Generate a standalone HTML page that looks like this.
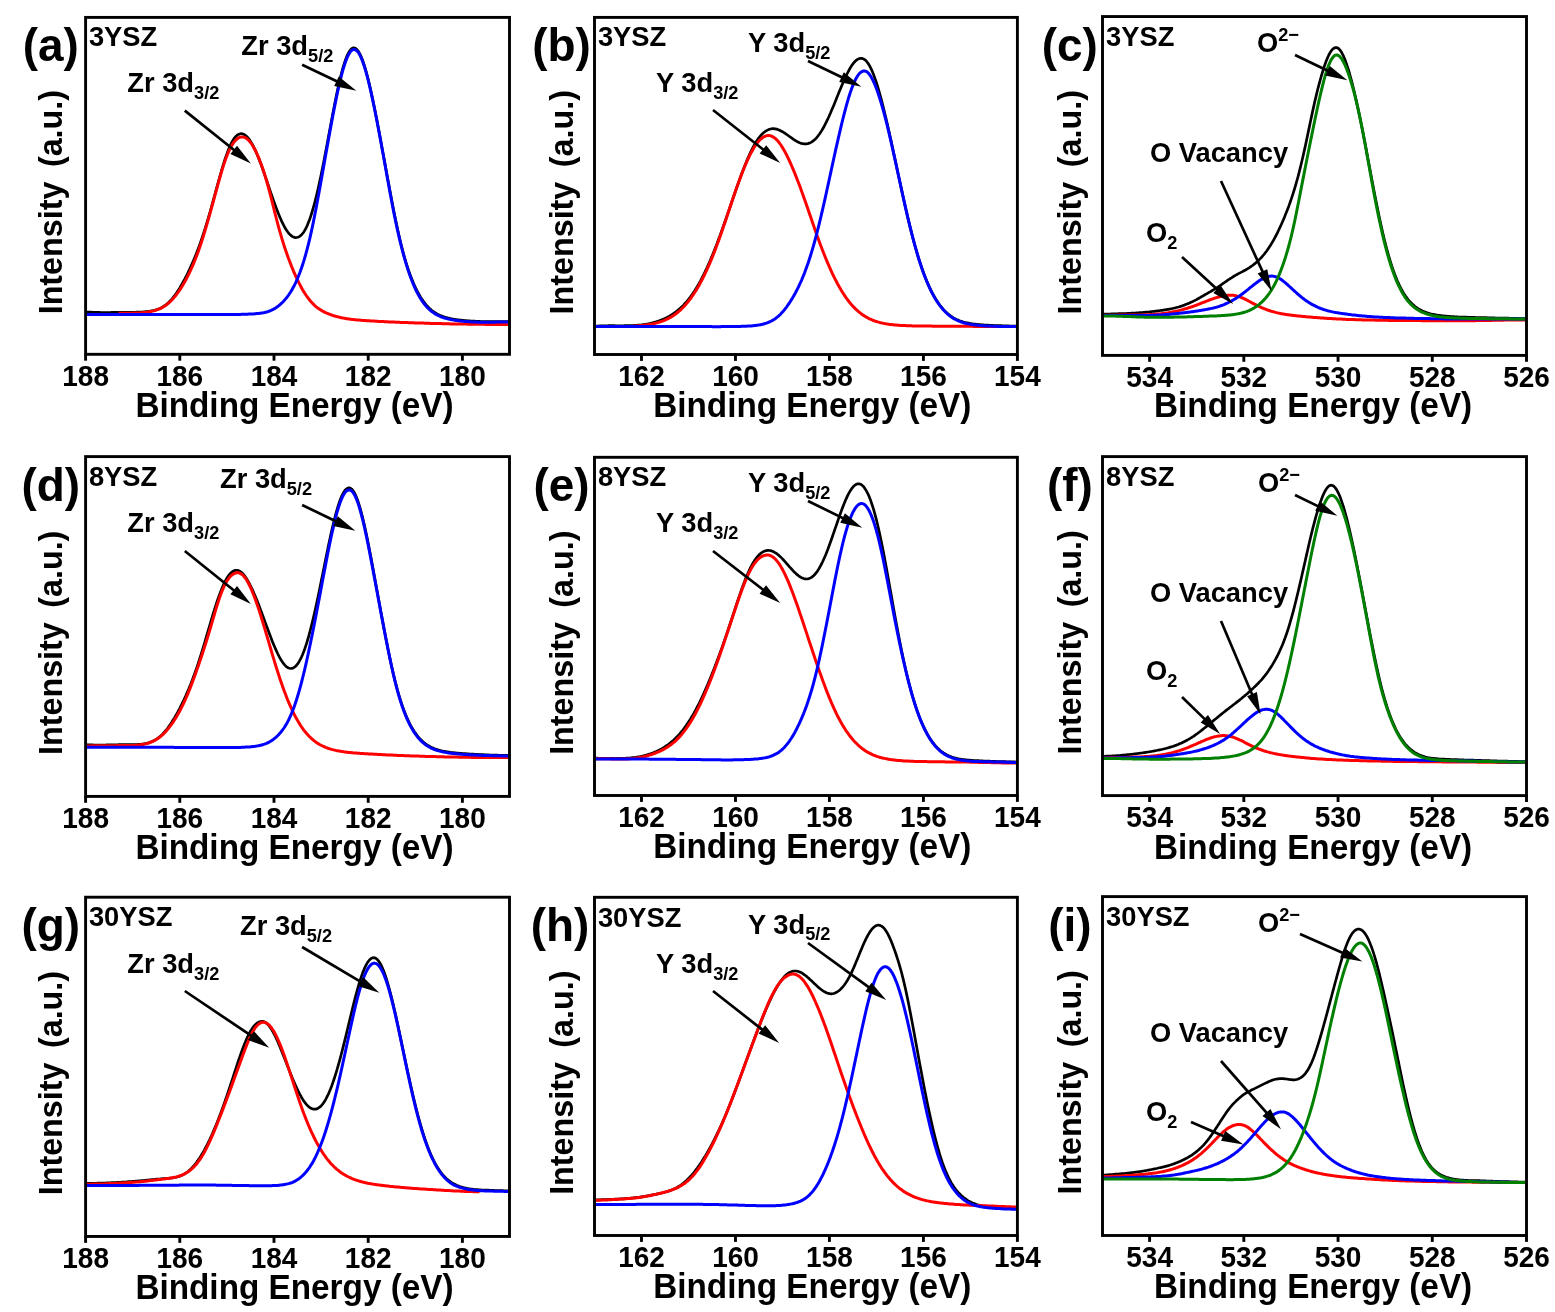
<!DOCTYPE html>
<html lang="en"><head><meta charset="utf-8"><title>XPS spectra of YSZ</title>
<style>html,body{margin:0;padding:0;background:#fff;}body{width:1555px;height:1312px;overflow:hidden;}svg{display:block;}text{font-family:"Liberation Sans",sans-serif;font-weight:700;fill:#000;}</style>
</head><body>
<svg width="1555" height="1312" viewBox="0 0 1555 1312" role="img" aria-label="XPS spectra of 3YSZ, 8YSZ and 30YSZ: Zr 3d, Y 3d and O 1s regions">
<rect width="1555" height="1312" fill="#fff"/>
<g>
<clipPath id="clip_a"><rect x="85.60" y="17.40" width="423.90" height="336.90"/></clipPath>
<g clip-path="url(#clip_a)" fill="none" stroke-linejoin="round" stroke-linecap="butt">
<path d="M85.6,312.2 L86.6,312.2 L87.6,312.2 L88.6,312.2 L89.6,312.2 L90.6,312.2 L91.6,312.2 L92.6,312.3 L93.6,312.3 L94.6,312.3 L95.6,312.3 L96.6,312.4 L97.6,312.4 L98.6,312.4 L99.6,312.4 L100.6,312.5 L101.6,312.5 L102.6,312.5 L103.6,312.5 L104.6,312.5 L105.6,312.5 L106.6,312.5 L107.6,312.5 L108.6,312.5 L109.6,312.5 L110.6,312.5 L111.6,312.4 L112.6,312.4 L113.6,312.4 L114.6,312.4 L115.6,312.4 L116.6,312.4 L117.6,312.4 L118.6,312.3 L119.6,312.3 L120.6,312.3 L121.6,312.3 L122.6,312.3 L123.6,312.3 L124.6,312.3 L125.6,312.3 L126.6,312.3 L127.6,312.3 L128.6,312.3 L129.6,312.3 L130.6,312.3 L131.6,312.3 L132.6,312.3 L133.6,312.3 L134.6,312.3 L135.6,312.3 L136.6,312.2 L137.6,312.2 L138.6,312.2 L139.6,312.1 L140.6,312.1 L141.6,312.0 L142.6,312.0 L143.6,311.9 L144.6,311.8 L145.6,311.7 L146.6,311.6 L147.6,311.5 L148.6,311.4 L149.6,311.3 L150.6,311.1 L151.6,310.9 L152.6,310.7 L153.6,310.5 L154.6,310.3 L155.6,310.0 L156.6,309.7 L157.6,309.4 L158.6,309.0 L159.6,308.6 L160.6,308.1 L161.6,307.6 L162.6,307.0 L163.6,306.4 L164.6,305.7 L165.6,305.0 L166.6,304.2 L167.6,303.4 L168.6,302.5 L169.6,301.5 L170.6,300.5 L171.6,299.3 L172.6,298.2 L173.6,296.9 L174.6,295.6 L175.6,294.2 L176.6,292.8 L177.6,291.3 L178.6,289.8 L179.6,288.2 L180.6,286.5 L181.6,284.8 L182.6,283.0 L183.6,281.2 L184.6,279.4 L185.6,277.5 L186.6,275.5 L187.6,273.5 L188.6,271.4 L189.6,269.3 L190.6,267.1 L191.6,264.9 L192.6,262.6 L193.6,260.3 L194.6,257.9 L195.6,255.4 L196.6,252.9 L197.6,250.3 L198.6,247.6 L199.6,244.9 L200.6,242.1 L201.6,239.2 L202.6,236.2 L203.6,233.2 L204.6,230.1 L205.6,226.9 L206.6,223.7 L207.6,220.3 L208.6,217.0 L209.6,213.5 L210.6,210.0 L211.6,206.4 L212.6,202.8 L213.6,199.2 L214.6,195.5 L215.6,191.8 L216.6,188.2 L217.6,184.5 L218.6,180.9 L219.6,177.3 L220.6,173.8 L221.6,170.3 L222.6,166.9 L223.6,163.7 L224.6,160.5 L225.6,157.5 L226.6,154.6 L227.6,151.9 L228.6,149.3 L229.6,146.9 L230.6,144.7 L231.6,142.7 L232.6,140.9 L233.6,139.3 L234.6,137.9 L235.6,136.7 L236.6,135.7 L237.6,134.9 L238.6,134.4 L239.6,134.0 L240.6,133.7 L241.6,133.7 L242.6,133.9 L243.6,134.2 L244.6,134.8 L245.6,135.5 L246.6,136.3 L247.6,137.4 L248.6,138.6 L249.6,139.9 L250.6,141.4 L251.6,143.1 L252.6,144.9 L253.6,146.8 L254.6,148.8 L255.6,151.0 L256.6,153.3 L257.6,155.7 L258.6,158.1 L259.6,160.7 L260.6,163.3 L261.6,166.0 L262.6,168.8 L263.6,171.6 L264.6,174.5 L265.6,177.4 L266.6,180.3 L267.6,183.3 L268.6,186.2 L269.6,189.1 L270.6,192.1 L271.6,195.0 L272.6,197.9 L273.6,200.7 L274.6,203.5 L275.6,206.2 L276.6,208.9 L277.6,211.5 L278.6,214.1 L279.6,216.5 L280.6,218.8 L281.6,221.1 L282.6,223.2 L283.6,225.2 L284.6,227.0 L285.6,228.7 L286.6,230.3 L287.6,231.8 L288.6,233.1 L289.6,234.2 L290.6,235.1 L291.6,236.0 L292.6,236.6 L293.6,237.1 L294.6,237.4 L295.6,237.6 L296.6,237.5 L297.6,237.3 L298.6,236.9 L299.6,236.4 L300.6,235.6 L301.6,234.7 L302.6,233.5 L303.6,232.2 L304.6,230.6 L305.6,228.8 L306.6,226.8 L307.6,224.6 L308.6,222.1 L309.6,219.5 L310.6,216.6 L311.6,213.5 L312.6,210.2 L313.6,206.7 L314.6,203.1 L315.6,199.2 L316.6,195.1 L317.6,190.9 L318.6,186.5 L319.6,181.9 L320.6,177.2 L321.6,172.4 L322.6,167.4 L323.6,162.4 L324.6,157.2 L325.6,152.0 L326.6,146.7 L327.6,141.4 L328.6,136.1 L329.6,130.7 L330.6,125.4 L331.6,120.1 L332.6,114.8 L333.6,109.6 L334.6,104.5 L335.6,99.5 L336.6,94.6 L337.6,89.8 L338.6,85.3 L339.6,80.9 L340.6,76.7 L341.6,72.8 L342.6,69.0 L343.6,65.6 L344.6,62.4 L345.6,59.5 L346.6,56.9 L347.6,54.6 L348.6,52.6 L349.6,51.0 L350.6,49.7 L351.6,48.7 L352.6,48.1 L353.6,47.9 L354.6,48.0 L355.6,48.4 L356.6,49.2 L357.6,50.3 L358.6,51.7 L359.6,53.4 L360.6,55.4 L361.6,57.7 L362.6,60.3 L363.6,63.2 L364.6,66.3 L365.6,69.7 L366.6,73.3 L367.6,77.1 L368.6,81.1 L369.6,85.3 L370.6,89.7 L371.6,94.2 L372.6,98.9 L373.6,103.7 L374.6,108.6 L375.6,113.7 L376.6,118.8 L377.6,124.0 L378.6,129.3 L379.6,134.6 L380.6,140.0 L381.6,145.4 L382.6,150.9 L383.6,156.3 L384.6,161.8 L385.6,167.3 L386.6,172.7 L387.6,178.2 L388.6,183.6 L389.6,189.0 L390.6,194.3 L391.6,199.6 L392.6,204.8 L393.6,209.9 L394.6,214.9 L395.6,219.8 L396.6,224.6 L397.6,229.3 L398.6,233.8 L399.6,238.1 L400.6,242.3 L401.6,246.4 L402.6,250.3 L403.6,254.1 L404.6,257.6 L405.6,261.1 L406.6,264.4 L407.6,267.5 L408.6,270.5 L409.6,273.3 L410.6,276.0 L411.6,278.6 L412.6,281.1 L413.6,283.5 L414.6,285.7 L415.6,287.9 L416.6,289.9 L417.6,291.8 L418.6,293.7 L419.6,295.4 L420.6,297.1 L421.6,298.7 L422.6,300.1 L423.6,301.6 L424.6,302.9 L425.6,304.1 L426.6,305.3 L427.6,306.4 L428.6,307.5 L429.6,308.4 L430.6,309.3 L431.6,310.2 L432.6,311.0 L433.6,311.7 L434.6,312.4 L435.6,313.0 L436.6,313.6 L437.6,314.2 L438.6,314.7 L439.6,315.2 L440.6,315.6 L441.6,316.0 L442.6,316.4 L443.6,316.7 L444.6,317.1 L445.6,317.4 L446.6,317.6 L447.6,317.9 L448.6,318.1 L449.6,318.4 L450.6,318.6 L451.6,318.8 L452.6,319.0 L453.6,319.2 L454.6,319.3 L455.6,319.5 L456.6,319.6 L457.6,319.8 L458.6,319.9 L459.6,320.0 L460.6,320.1 L461.6,320.2 L462.6,320.3 L463.6,320.4 L464.6,320.5 L465.6,320.6 L466.6,320.7 L467.6,320.8 L468.6,320.9 L469.6,320.9 L470.6,321.0 L471.6,321.1 L472.6,321.1 L473.6,321.2 L474.6,321.2 L475.6,321.3 L476.6,321.3 L477.6,321.4 L478.6,321.4 L479.6,321.4 L480.6,321.5 L481.6,321.5 L482.6,321.5 L483.6,321.5 L484.6,321.5 L485.6,321.5 L486.6,321.6 L487.6,321.6 L488.6,321.6 L489.6,321.6 L490.6,321.6 L491.6,321.6 L492.6,321.6 L493.6,321.6 L494.6,321.6 L495.6,321.6 L496.6,321.6 L497.6,321.6 L498.6,321.6 L499.6,321.6 L500.6,321.6 L501.6,321.6 L502.6,321.6 L503.6,321.6 L504.6,321.6 L505.6,321.6 L506.6,321.6 L507.6,321.6 L508.6,321.6" stroke="#000" stroke-width="2.7"/>
<path d="M118.6,313.3 L119.6,313.3 L120.6,313.3 L121.6,313.3 L122.6,313.2 L123.6,313.2 L124.6,313.2 L125.6,313.2 L126.6,313.2 L127.6,313.2 L128.6,313.2 L129.6,313.2 L130.6,313.2 L131.6,313.2 L132.6,313.2 L133.6,313.1 L134.6,313.1 L135.6,313.1 L136.6,313.1 L137.6,313.0 L138.6,313.0 L139.6,312.9 L140.6,312.8 L141.6,312.8 L142.6,312.7 L143.6,312.6 L144.6,312.5 L145.6,312.4 L146.6,312.2 L147.6,312.1 L148.6,311.9 L149.6,311.7 L150.6,311.6 L151.6,311.3 L152.6,311.1 L153.6,310.9 L154.6,310.6 L155.6,310.3 L156.6,309.9 L157.6,309.6 L158.6,309.2 L159.6,308.8 L160.6,308.3 L161.6,307.8 L162.6,307.3 L163.6,306.7 L164.6,306.1 L165.6,305.4 L166.6,304.7 L167.6,303.9 L168.6,303.1 L169.6,302.2 L170.6,301.3 L171.6,300.3 L172.6,299.2 L173.6,298.1 L174.6,296.9 L175.6,295.7 L176.6,294.4 L177.6,293.0 L178.6,291.6 L179.6,290.2 L180.6,288.6 L181.6,287.1 L182.6,285.4 L183.6,283.7 L184.6,282.0 L185.6,280.2 L186.6,278.3 L187.6,276.4 L188.6,274.4 L189.6,272.4 L190.6,270.2 L191.6,268.0 L192.6,265.8 L193.6,263.4 L194.6,261.0 L195.6,258.5 L196.6,255.9 L197.6,253.2 L198.6,250.5 L199.6,247.6 L200.6,244.7 L201.6,241.6 L202.6,238.5 L203.6,235.3 L204.6,232.1 L205.6,228.7 L206.6,225.4 L207.6,221.9 L208.6,218.4 L209.6,214.8 L210.6,211.3 L211.6,207.6 L212.6,204.0 L213.6,200.3 L214.6,196.7 L215.6,193.0 L216.6,189.3 L217.6,185.7 L218.6,182.1 L219.6,178.5 L220.6,175.0 L221.6,171.6 L222.6,168.3 L223.6,165.1 L224.6,162.1 L225.6,159.2 L226.6,156.5 L227.6,154.0 L228.6,151.7 L229.6,149.5 L230.6,147.5 L231.6,145.7 L232.6,144.1 L233.6,142.7 L234.6,141.4 L235.6,140.2 L236.6,139.3 L237.6,138.5 L238.6,137.8 L239.6,137.4 L240.6,137.1 L241.6,136.9 L242.6,136.9 L243.6,137.1 L244.6,137.4 L245.6,137.9 L246.6,138.5 L247.6,139.3 L248.6,140.3 L249.6,141.4 L250.6,142.6 L251.6,144.0 L252.6,145.5 L253.6,147.2 L254.6,149.0 L255.6,151.0 L256.6,153.0 L257.6,155.3 L258.6,157.6 L259.6,160.1 L260.6,162.7 L261.6,165.5 L262.6,168.3 L263.6,171.3 L264.6,174.4 L265.6,177.6 L266.6,181.0 L267.6,184.5 L268.6,188.1 L269.6,191.9 L270.6,195.7 L271.6,199.6 L272.6,203.6 L273.6,207.6 L274.6,211.6 L275.6,215.6 L276.6,219.5 L277.6,223.3 L278.6,227.1 L279.6,230.7 L280.6,234.2 L281.6,237.6 L282.6,240.9 L283.6,244.1 L284.6,247.2 L285.6,250.2 L286.6,253.1 L287.6,255.9 L288.6,258.7 L289.6,261.3 L290.6,263.9 L291.6,266.5 L292.6,268.9 L293.6,271.3 L294.6,273.6 L295.6,275.9 L296.6,278.1 L297.6,280.2 L298.6,282.2 L299.6,284.2 L300.6,286.1 L301.6,287.9 L302.6,289.7 L303.6,291.4 L304.6,293.0 L305.6,294.5 L306.6,296.0 L307.6,297.4 L308.6,298.8 L309.6,300.0 L310.6,301.2 L311.6,302.4 L312.6,303.4 L313.6,304.4 L314.6,305.4 L315.6,306.3 L316.6,307.1 L317.6,307.9 L318.6,308.6 L319.6,309.3 L320.6,309.9 L321.6,310.5 L322.6,311.1 L323.6,311.6 L324.6,312.1 L325.6,312.6 L326.6,313.0 L327.6,313.5 L328.6,313.9 L329.6,314.3 L330.6,314.6 L331.6,315.0 L332.6,315.3 L333.6,315.7 L334.6,316.0 L335.6,316.3 L336.6,316.5 L337.6,316.8 L338.6,317.1 L339.6,317.3 L340.6,317.5 L341.6,317.8 L342.6,318.0 L343.6,318.1 L344.6,318.3 L345.6,318.5 L346.6,318.7 L347.6,318.8 L348.6,319.0 L349.6,319.1 L350.6,319.2 L351.6,319.4 L352.6,319.5 L353.6,319.6 L354.6,319.7 L355.6,319.8 L356.6,319.9 L357.6,320.0 L358.6,320.1 L359.6,320.1 L360.6,320.2 L361.6,320.3 L362.6,320.4 L363.6,320.5 L364.6,320.5 L365.6,320.6 L366.6,320.7 L367.6,320.7 L368.6,320.8 L369.6,320.8 L370.6,320.9 L371.6,321.0 L372.6,321.0 L373.6,321.1 L374.6,321.1 L375.6,321.2 L376.6,321.2 L377.6,321.3 L378.6,321.4 L379.6,321.4 L380.6,321.5 L381.6,321.5 L382.6,321.6 L383.6,321.6 L384.6,321.7 L385.6,321.7 L386.6,321.8 L387.6,321.8 L388.6,321.9 L389.6,321.9 L390.6,322.0 L391.6,322.0 L392.6,322.0 L393.6,322.1 L394.6,322.1 L395.6,322.2 L396.6,322.2 L397.6,322.3 L398.6,322.3 L399.6,322.3 L400.6,322.4 L401.6,322.4 L402.6,322.5 L403.6,322.5 L404.6,322.5 L405.6,322.6 L406.6,322.6 L407.6,322.6 L408.6,322.7 L409.6,322.7 L410.6,322.7 L411.6,322.8 L412.6,322.8 L413.6,322.8 L414.6,322.9 L415.6,322.9 L416.6,322.9 L417.6,323.0 L418.6,323.0 L419.6,323.0 L420.6,323.1 L421.6,323.1 L422.6,323.1 L423.6,323.1 L424.6,323.2 L425.6,323.2 L426.6,323.2 L427.6,323.3 L428.6,323.3 L429.6,323.3 L430.6,323.4 L431.6,323.4 L432.6,323.4 L433.6,323.4 L434.6,323.5 L435.6,323.5 L436.6,323.5 L437.6,323.5 L438.6,323.6 L439.6,323.6 L440.6,323.6 L441.6,323.6 L442.6,323.7 L443.6,323.7 L444.6,323.7 L445.6,323.7 L446.6,323.8 L447.6,323.8 L448.6,323.8 L449.6,323.8 L450.6,323.9 L451.6,323.9 L452.6,323.9 L453.6,323.9 L454.6,323.9 L455.6,324.0 L456.6,324.0 L457.6,324.0 L458.6,324.0 L459.6,324.0 L460.6,324.0 L461.6,324.1 L462.6,324.1 L463.6,324.1 L464.6,324.1 L465.6,324.1 L466.6,324.1 L467.6,324.2 L468.6,324.2 L469.6,324.2 L470.6,324.2 L471.6,324.2 L472.6,324.2 L473.6,324.2 L474.6,324.2 L475.6,324.3 L476.6,324.3 L477.6,324.3 L478.6,324.3 L479.6,324.3 L480.6,324.3 L481.6,324.3 L482.6,324.3 L483.6,324.3 L484.6,324.3 L485.6,324.4 L486.6,324.4 L487.6,324.4 L488.6,324.4 L489.6,324.4 L490.6,324.4 L491.6,324.4 L492.6,324.4 L493.6,324.4 L494.6,324.4 L495.6,324.4 L496.6,324.4 L497.6,324.4 L498.6,324.4 L499.6,324.5 L500.6,324.5 L501.6,324.5 L502.6,324.5 L503.6,324.5 L504.6,324.5 L505.6,324.5 L506.6,324.5 L507.6,324.5 L508.6,324.5" stroke="#ff0000" stroke-width="3.0"/>
<path d="M85.6,314.4 L86.6,314.4 L87.6,314.4 L88.6,314.4 L89.6,314.4 L90.6,314.4 L91.6,314.4 L92.6,314.4 L93.6,314.4 L94.6,314.4 L95.6,314.4 L96.6,314.4 L97.6,314.4 L98.6,314.4 L99.6,314.4 L100.6,314.4 L101.6,314.4 L102.6,314.4 L103.6,314.4 L104.6,314.4 L105.6,314.4 L106.6,314.4 L107.6,314.4 L108.6,314.4 L109.6,314.4 L110.6,314.4 L111.6,314.4 L112.6,314.4 L113.6,314.4 L114.6,314.4 L115.6,314.4 L116.6,314.4 L117.6,314.4 L118.6,314.4 L119.6,314.4 L120.6,314.4 L121.6,314.4 L122.6,314.4 L123.6,314.4 L124.6,314.4 L125.6,314.4 L126.6,314.4 L127.6,314.4 L128.6,314.4 L129.6,314.4 L130.6,314.4 L131.6,314.4 L132.6,314.4 L133.6,314.4 L134.6,314.4 L135.6,314.4 L136.6,314.4 L137.6,314.4 L138.6,314.4 L139.6,314.4 L140.6,314.4 L141.6,314.4 L142.6,314.4 L143.6,314.4 L144.6,314.4 L145.6,314.4 L146.6,314.4 L147.6,314.4 L148.6,314.4 L149.6,314.4 L150.6,314.4 L151.6,314.4 L152.6,314.4 L153.6,314.4 L154.6,314.4 L155.6,314.4 L156.6,314.4 L157.6,314.4 L158.6,314.4 L159.6,314.4 L160.6,314.4 L161.6,314.4 L162.6,314.4 L163.6,314.4 L164.6,314.4 L165.6,314.4 L166.6,314.4 L167.6,314.4 L168.6,314.4 L169.6,314.4 L170.6,314.4 L171.6,314.4 L172.6,314.4 L173.6,314.5 L174.6,314.5 L175.6,314.5 L176.6,314.5 L177.6,314.5 L178.6,314.5 L179.6,314.5 L180.6,314.5 L181.6,314.5 L182.6,314.5 L183.6,314.5 L184.6,314.5 L185.6,314.5 L186.6,314.5 L187.6,314.5 L188.6,314.5 L189.6,314.5 L190.6,314.5 L191.6,314.5 L192.6,314.5 L193.6,314.5 L194.6,314.5 L195.6,314.5 L196.6,314.5 L197.6,314.5 L198.6,314.5 L199.6,314.5 L200.6,314.5 L201.6,314.5 L202.6,314.6 L203.6,314.6 L204.6,314.6 L205.6,314.6 L206.6,314.6 L207.6,314.6 L208.6,314.6 L209.6,314.6 L210.6,314.6 L211.6,314.6 L212.6,314.6 L213.6,314.6 L214.6,314.6 L215.6,314.6 L216.6,314.6 L217.6,314.6 L218.6,314.6 L219.6,314.6 L220.6,314.6 L221.6,314.6 L222.6,314.5 L223.6,314.5 L224.6,314.5 L225.6,314.5 L226.6,314.5 L227.6,314.5 L228.6,314.5 L229.6,314.5 L230.6,314.5 L231.6,314.5 L232.6,314.5 L233.6,314.5 L234.6,314.5 L235.6,314.4 L236.6,314.4 L237.6,314.4 L238.6,314.4 L239.6,314.4 L240.6,314.4 L241.6,314.3 L242.6,314.3 L243.6,314.3 L244.6,314.3 L245.6,314.2 L246.6,314.2 L247.6,314.2 L248.6,314.1 L249.6,314.1 L250.6,314.0 L251.6,314.0 L252.6,313.9 L253.6,313.9 L254.6,313.8 L255.6,313.7 L256.6,313.6 L257.6,313.6 L258.6,313.4 L259.6,313.3 L260.6,313.2 L261.6,313.0 L262.6,312.9 L263.6,312.7 L264.6,312.5 L265.6,312.2 L266.6,312.0 L267.6,311.7 L268.6,311.4 L269.6,311.0 L270.6,310.6 L271.6,310.2 L272.6,309.7 L273.6,309.1 L274.6,308.6 L275.6,308.0 L276.6,307.3 L277.6,306.6 L278.6,305.8 L279.6,305.0 L280.6,304.1 L281.6,303.2 L282.6,302.2 L283.6,301.2 L284.6,300.1 L285.6,298.9 L286.6,297.7 L287.6,296.4 L288.6,295.0 L289.6,293.5 L290.6,292.0 L291.6,290.4 L292.6,288.6 L293.6,286.8 L294.6,284.8 L295.6,282.8 L296.6,280.6 L297.6,278.3 L298.6,275.8 L299.6,273.3 L300.6,270.6 L301.6,267.7 L302.6,264.7 L303.6,261.6 L304.6,258.3 L305.6,254.8 L306.6,251.2 L307.6,247.4 L308.6,243.4 L309.6,239.3 L310.6,234.9 L311.6,230.4 L312.6,225.7 L313.6,220.9 L314.6,215.8 L315.6,210.7 L316.6,205.5 L317.6,200.1 L318.6,194.7 L319.6,189.2 L320.6,183.7 L321.6,178.1 L322.6,172.5 L323.6,166.9 L324.6,161.2 L325.6,155.6 L326.6,150.0 L327.6,144.4 L328.6,138.8 L329.6,133.3 L330.6,127.8 L331.6,122.4 L332.6,117.0 L333.6,111.8 L334.6,106.6 L335.6,101.6 L336.6,96.7 L337.6,92.0 L338.6,87.4 L339.6,83.0 L340.6,78.8 L341.6,74.9 L342.6,71.2 L343.6,67.7 L344.6,64.5 L345.6,61.6 L346.6,58.9 L347.6,56.6 L348.6,54.6 L349.6,52.9 L350.6,51.5 L351.6,50.5 L352.6,49.8 L353.6,49.5 L354.6,49.5 L355.6,49.9 L356.6,50.6 L357.6,51.6 L358.6,52.9 L359.6,54.6 L360.6,56.6 L361.6,58.8 L362.6,61.4 L363.6,64.2 L364.6,67.3 L365.6,70.6 L366.6,74.1 L367.6,77.9 L368.6,81.9 L369.6,86.1 L370.6,90.4 L371.6,94.9 L372.6,99.6 L373.6,104.4 L374.6,109.3 L375.6,114.3 L376.6,119.3 L377.6,124.5 L378.6,129.8 L379.6,135.1 L380.6,140.5 L381.6,145.9 L382.6,151.4 L383.6,157.0 L384.6,162.5 L385.6,168.1 L386.6,173.7 L387.6,179.2 L388.6,184.8 L389.6,190.2 L390.6,195.7 L391.6,201.0 L392.6,206.2 L393.6,211.4 L394.6,216.4 L395.6,221.2 L396.6,226.0 L397.6,230.6 L398.6,235.0 L399.6,239.3 L400.6,243.5 L401.6,247.5 L402.6,251.4 L403.6,255.1 L404.6,258.7 L405.6,262.1 L406.6,265.4 L407.6,268.6 L408.6,271.6 L409.6,274.6 L410.6,277.3 L411.6,280.0 L412.6,282.5 L413.6,284.9 L414.6,287.2 L415.6,289.4 L416.6,291.5 L417.6,293.4 L418.6,295.3 L419.6,297.0 L420.6,298.7 L421.6,300.2 L422.6,301.7 L423.6,303.0 L424.6,304.3 L425.6,305.5 L426.6,306.7 L427.6,307.8 L428.6,308.7 L429.6,309.7 L430.6,310.6 L431.6,311.4 L432.6,312.1 L433.6,312.8 L434.6,313.5 L435.6,314.1 L436.6,314.7 L437.6,315.2 L438.6,315.7 L439.6,316.2 L440.6,316.6 L441.6,317.0 L442.6,317.4 L443.6,317.7 L444.6,318.0 L445.6,318.3 L446.6,318.6 L447.6,318.8 L448.6,319.1 L449.6,319.3 L450.6,319.5 L451.6,319.7 L452.6,319.9 L453.6,320.1 L454.6,320.2 L455.6,320.4 L456.6,320.5 L457.6,320.6 L458.6,320.8 L459.6,320.9 L460.6,321.0 L461.6,321.1 L462.6,321.2 L463.6,321.3 L464.6,321.4 L465.6,321.5 L466.6,321.6 L467.6,321.6 L468.6,321.7 L469.6,321.8 L470.6,321.8 L471.6,321.9 L472.6,322.0 L473.6,322.0 L474.6,322.1 L475.6,322.1 L476.6,322.1 L477.6,322.2 L478.6,322.2 L479.6,322.2 L480.6,322.3 L481.6,322.3 L482.6,322.3 L483.6,322.3 L484.6,322.3 L485.6,322.3 L486.6,322.3 L487.6,322.3 L488.6,322.3 L489.6,322.3 L490.6,322.2 L491.6,322.2 L492.6,322.2 L493.6,322.2 L494.6,322.2 L495.6,322.1 L496.6,322.1 L497.6,322.1 L498.6,322.1 L499.6,322.1 L500.6,322.1 L501.6,322.1 L502.6,322.1 L503.6,322.1 L504.6,322.1 L505.6,322.1 L506.6,322.1 L507.6,322.1 L508.6,322.1" stroke="#0000ff" stroke-width="3.0"/>
</g>
<rect x="85.60" y="17.40" width="423.90" height="336.90" fill="none" stroke="#000" stroke-width="2.9"/>
<line x1="85.60" y1="354.30" x2="85.60" y2="360.70" stroke="#000" stroke-width="2.9"/>
<text transform="translate(85.60,385.90) scale(1.000,1.040)" font-size="28.00" text-anchor="middle">188</text>
<line x1="179.80" y1="354.30" x2="179.80" y2="360.70" stroke="#000" stroke-width="2.9"/>
<text transform="translate(179.80,385.90) scale(1.000,1.040)" font-size="28.00" text-anchor="middle">186</text>
<line x1="274.00" y1="354.30" x2="274.00" y2="360.70" stroke="#000" stroke-width="2.9"/>
<text transform="translate(274.00,385.90) scale(1.000,1.040)" font-size="28.00" text-anchor="middle">184</text>
<line x1="368.20" y1="354.30" x2="368.20" y2="360.70" stroke="#000" stroke-width="2.9"/>
<text transform="translate(368.20,385.90) scale(1.000,1.040)" font-size="28.00" text-anchor="middle">182</text>
<line x1="462.40" y1="354.30" x2="462.40" y2="360.70" stroke="#000" stroke-width="2.9"/>
<text transform="translate(462.40,385.90) scale(1.000,1.040)" font-size="28.00" text-anchor="middle">180</text>
<text transform="translate(294.50,416.70) scale(1.000,1.040)" font-size="33.30" text-anchor="middle">Binding Energy (eV)</text>
<text transform="translate(61.70,202.15) rotate(-90) scale(1.000,1.040)" font-size="32.30" text-anchor="middle" word-spacing="5.5">Intensity (a.u.)</text>
<text transform="translate(50.70,60.90) scale(1.000,1.000)" font-size="45.90" text-anchor="middle">(a)</text>
<text transform="translate(88.90,45.80) scale(1.000,1.040)" font-size="27.30">3YSZ</text>
<text transform="translate(127.30,91.80) scale(1.000,1.040)" font-size="27.30">Zr 3d<tspan font-size="18.2" dy="6.6">3/2</tspan></text>
<text transform="translate(241.30,54.90) scale(1.000,1.040)" font-size="27.30">Zr 3d<tspan font-size="18.2" dy="6.6">5/2</tspan></text>
<line x1="184.80" y1="110.60" x2="235.26" y2="151.03" stroke="#000" stroke-width="2.7"/>
<polygon points="250.87,163.54 230.39,153.92 237.02,145.65" fill="#000"/>
<line x1="302.10" y1="64.80" x2="338.30" y2="82.04" stroke="#000" stroke-width="2.7"/>
<polygon points="356.35,90.65 334.21,85.97 338.77,76.40" fill="#000"/>
</g>
<g>
<clipPath id="clip_b"><rect x="594.50" y="17.40" width="422.90" height="337.10"/></clipPath>
<g clip-path="url(#clip_b)" fill="none" stroke-linejoin="round" stroke-linecap="butt">
<path d="M594.5,326.0 L595.5,326.0 L596.5,326.0 L597.5,326.0 L598.5,326.0 L599.5,325.9 L600.5,325.9 L601.5,325.9 L602.5,325.9 L603.5,325.8 L604.5,325.8 L605.5,325.8 L606.5,325.8 L607.5,325.8 L608.5,325.7 L609.5,325.7 L610.5,325.7 L611.5,325.7 L612.5,325.7 L613.5,325.7 L614.5,325.7 L615.5,325.8 L616.5,325.8 L617.5,325.8 L618.5,325.8 L619.5,325.8 L620.5,325.8 L621.5,325.8 L622.5,325.8 L623.5,325.8 L624.5,325.7 L625.5,325.7 L626.5,325.7 L627.5,325.7 L628.5,325.7 L629.5,325.7 L630.5,325.6 L631.5,325.6 L632.5,325.5 L633.5,325.5 L634.5,325.4 L635.5,325.4 L636.5,325.3 L637.5,325.2 L638.5,325.2 L639.5,325.1 L640.5,325.0 L641.5,324.9 L642.5,324.7 L643.5,324.6 L644.5,324.5 L645.5,324.3 L646.5,324.2 L647.5,324.0 L648.5,323.8 L649.5,323.6 L650.5,323.4 L651.5,323.1 L652.5,322.9 L653.5,322.6 L654.5,322.3 L655.5,322.0 L656.5,321.7 L657.5,321.4 L658.5,321.1 L659.5,320.7 L660.5,320.3 L661.5,319.9 L662.5,319.5 L663.5,319.1 L664.5,318.6 L665.5,318.2 L666.5,317.7 L667.5,317.2 L668.5,316.6 L669.5,316.1 L670.5,315.5 L671.5,314.8 L672.5,314.2 L673.5,313.5 L674.5,312.8 L675.5,312.1 L676.5,311.4 L677.5,310.6 L678.5,309.7 L679.5,308.9 L680.5,308.0 L681.5,307.1 L682.5,306.1 L683.5,305.1 L684.5,304.0 L685.5,302.9 L686.5,301.8 L687.5,300.6 L688.5,299.4 L689.5,298.1 L690.5,296.8 L691.5,295.4 L692.5,294.0 L693.5,292.5 L694.5,291.0 L695.5,289.4 L696.5,287.8 L697.5,286.1 L698.5,284.4 L699.5,282.6 L700.5,280.8 L701.5,278.9 L702.5,277.0 L703.5,275.0 L704.5,273.0 L705.5,270.9 L706.5,268.8 L707.5,266.6 L708.5,264.3 L709.5,262.1 L710.5,259.7 L711.5,257.4 L712.5,255.0 L713.5,252.5 L714.5,250.0 L715.5,247.4 L716.5,244.9 L717.5,242.2 L718.5,239.6 L719.5,236.9 L720.5,234.2 L721.5,231.4 L722.5,228.6 L723.5,225.8 L724.5,223.0 L725.5,220.2 L726.5,217.3 L727.5,214.4 L728.5,211.5 L729.5,208.6 L730.5,205.7 L731.5,202.8 L732.5,199.9 L733.5,196.9 L734.5,194.0 L735.5,191.1 L736.5,188.2 L737.5,185.4 L738.5,182.6 L739.5,179.7 L740.5,177.0 L741.5,174.3 L742.5,171.6 L743.5,168.9 L744.5,166.4 L745.5,163.9 L746.5,161.4 L747.5,159.0 L748.5,156.7 L749.5,154.5 L750.5,152.3 L751.5,150.3 L752.5,148.3 L753.5,146.4 L754.5,144.6 L755.5,142.9 L756.5,141.3 L757.5,139.8 L758.5,138.4 L759.5,137.1 L760.5,135.8 L761.5,134.7 L762.5,133.7 L763.5,132.8 L764.5,132.0 L765.5,131.2 L766.5,130.6 L767.5,130.1 L768.5,129.6 L769.5,129.3 L770.5,129.0 L771.5,128.8 L772.5,128.7 L773.5,128.7 L774.5,128.8 L775.5,128.9 L776.5,129.1 L777.5,129.4 L778.5,129.8 L779.5,130.2 L780.5,130.7 L781.5,131.2 L782.5,131.7 L783.5,132.3 L784.5,133.0 L785.5,133.6 L786.5,134.3 L787.5,135.0 L788.5,135.8 L789.5,136.5 L790.5,137.2 L791.5,137.9 L792.5,138.6 L793.5,139.3 L794.5,140.0 L795.5,140.6 L796.5,141.2 L797.5,141.7 L798.5,142.2 L799.5,142.7 L800.5,143.1 L801.5,143.4 L802.5,143.6 L803.5,143.8 L804.5,143.9 L805.5,143.9 L806.5,143.9 L807.5,143.7 L808.5,143.4 L809.5,143.1 L810.5,142.6 L811.5,142.1 L812.5,141.4 L813.5,140.7 L814.5,139.8 L815.5,138.9 L816.5,137.8 L817.5,136.6 L818.5,135.3 L819.5,134.0 L820.5,132.5 L821.5,130.9 L822.5,129.2 L823.5,127.5 L824.5,125.6 L825.5,123.7 L826.5,121.7 L827.5,119.6 L828.5,117.5 L829.5,115.2 L830.5,113.0 L831.5,110.6 L832.5,108.3 L833.5,105.9 L834.5,103.4 L835.5,101.0 L836.5,98.5 L837.5,96.1 L838.5,93.6 L839.5,91.1 L840.5,88.7 L841.5,86.3 L842.5,83.9 L843.5,81.6 L844.5,79.3 L845.5,77.1 L846.5,75.0 L847.5,73.0 L848.5,71.1 L849.5,69.2 L850.5,67.5 L851.5,65.9 L852.5,64.5 L853.5,63.1 L854.5,62.0 L855.5,60.9 L856.5,60.1 L857.5,59.4 L858.5,58.9 L859.5,58.5 L860.5,58.3 L861.5,58.4 L862.5,58.6 L863.5,59.0 L864.5,59.5 L865.5,60.3 L866.5,61.3 L867.5,62.6 L868.5,64.0 L869.5,65.7 L870.5,67.6 L871.5,69.7 L872.5,71.9 L873.5,74.4 L874.5,77.1 L875.5,79.9 L876.5,82.9 L877.5,86.1 L878.5,89.4 L879.5,92.9 L880.5,96.5 L881.5,100.2 L882.5,104.1 L883.5,108.1 L884.5,112.2 L885.5,116.3 L886.5,120.6 L887.5,124.9 L888.5,129.4 L889.5,133.8 L890.5,138.4 L891.5,142.9 L892.5,147.5 L893.5,152.2 L894.5,156.8 L895.5,161.5 L896.5,166.2 L897.5,170.9 L898.5,175.5 L899.5,180.2 L900.5,184.8 L901.5,189.4 L902.5,194.0 L903.5,198.5 L904.5,203.0 L905.5,207.5 L906.5,211.8 L907.5,216.1 L908.5,220.4 L909.5,224.5 L910.5,228.6 L911.5,232.6 L912.5,236.5 L913.5,240.3 L914.5,244.0 L915.5,247.7 L916.5,251.2 L917.5,254.6 L918.5,257.9 L919.5,261.0 L920.5,264.1 L921.5,267.1 L922.5,270.0 L923.5,272.7 L924.5,275.4 L925.5,278.0 L926.5,280.4 L927.5,282.8 L928.5,285.1 L929.5,287.3 L930.5,289.4 L931.5,291.4 L932.5,293.3 L933.5,295.2 L934.5,297.0 L935.5,298.6 L936.5,300.3 L937.5,301.8 L938.5,303.3 L939.5,304.7 L940.5,306.0 L941.5,307.2 L942.5,308.4 L943.5,309.6 L944.5,310.6 L945.5,311.6 L946.5,312.6 L947.5,313.5 L948.5,314.3 L949.5,315.1 L950.5,315.8 L951.5,316.5 L952.5,317.2 L953.5,317.8 L954.5,318.4 L955.5,318.9 L956.5,319.4 L957.5,319.8 L958.5,320.3 L959.5,320.7 L960.5,321.0 L961.5,321.4 L962.5,321.7 L963.5,322.0 L964.5,322.2 L965.5,322.5 L966.5,322.7 L967.5,322.9 L968.5,323.1 L969.5,323.3 L970.5,323.5 L971.5,323.7 L972.5,323.8 L973.5,324.0 L974.5,324.1 L975.5,324.2 L976.5,324.3 L977.5,324.4 L978.5,324.5 L979.5,324.6 L980.5,324.7 L981.5,324.8 L982.5,324.8 L983.5,324.9 L984.5,325.0 L985.5,325.0 L986.5,325.1 L987.5,325.2 L988.5,325.2 L989.5,325.3 L990.5,325.3 L991.5,325.4 L992.5,325.4 L993.5,325.5 L994.5,325.5 L995.5,325.5 L996.5,325.6 L997.5,325.6 L998.5,325.6 L999.5,325.7 L1000.5,325.7 L1001.5,325.7 L1002.5,325.8 L1003.5,325.8 L1004.5,325.8 L1005.5,325.9 L1006.5,325.9 L1007.5,325.9 L1008.5,325.9 L1009.5,326.0 L1010.5,326.0 L1011.5,326.0 L1012.5,326.0 L1013.5,326.1 L1014.5,326.1 L1015.5,326.1 L1016.5,326.1" stroke="#000" stroke-width="2.7"/>
<path d="M632.5,326.2 L633.5,326.2 L634.5,326.1 L635.5,326.1 L636.5,326.0 L637.5,325.9 L638.5,325.8 L639.5,325.7 L640.5,325.6 L641.5,325.5 L642.5,325.4 L643.5,325.3 L644.5,325.2 L645.5,325.1 L646.5,324.9 L647.5,324.8 L648.5,324.6 L649.5,324.4 L650.5,324.3 L651.5,324.1 L652.5,323.9 L653.5,323.7 L654.5,323.4 L655.5,323.2 L656.5,322.9 L657.5,322.7 L658.5,322.4 L659.5,322.1 L660.5,321.8 L661.5,321.4 L662.5,321.1 L663.5,320.7 L664.5,320.3 L665.5,319.8 L666.5,319.4 L667.5,318.9 L668.5,318.4 L669.5,317.9 L670.5,317.3 L671.5,316.8 L672.5,316.1 L673.5,315.5 L674.5,314.8 L675.5,314.1 L676.5,313.3 L677.5,312.6 L678.5,311.7 L679.5,310.9 L680.5,310.0 L681.5,309.0 L682.5,308.0 L683.5,307.0 L684.5,305.9 L685.5,304.8 L686.5,303.6 L687.5,302.4 L688.5,301.2 L689.5,299.9 L690.5,298.6 L691.5,297.2 L692.5,295.7 L693.5,294.3 L694.5,292.7 L695.5,291.2 L696.5,289.6 L697.5,287.9 L698.5,286.2 L699.5,284.4 L700.5,282.6 L701.5,280.7 L702.5,278.8 L703.5,276.8 L704.5,274.8 L705.5,272.7 L706.5,270.6 L707.5,268.4 L708.5,266.2 L709.5,263.9 L710.5,261.5 L711.5,259.1 L712.5,256.7 L713.5,254.2 L714.5,251.6 L715.5,249.0 L716.5,246.3 L717.5,243.6 L718.5,240.9 L719.5,238.1 L720.5,235.3 L721.5,232.4 L722.5,229.5 L723.5,226.6 L724.5,223.7 L725.5,220.7 L726.5,217.7 L727.5,214.7 L728.5,211.8 L729.5,208.8 L730.5,205.8 L731.5,202.8 L732.5,199.8 L733.5,196.9 L734.5,194.0 L735.5,191.1 L736.5,188.2 L737.5,185.4 L738.5,182.6 L739.5,179.9 L740.5,177.2 L741.5,174.6 L742.5,172.0 L743.5,169.5 L744.5,167.0 L745.5,164.7 L746.5,162.3 L747.5,160.1 L748.5,158.0 L749.5,155.9 L750.5,153.9 L751.5,152.0 L752.5,150.2 L753.5,148.5 L754.5,146.9 L755.5,145.3 L756.5,143.9 L757.5,142.6 L758.5,141.4 L759.5,140.3 L760.5,139.3 L761.5,138.5 L762.5,137.7 L763.5,137.0 L764.5,136.5 L765.5,136.1 L766.5,135.8 L767.5,135.6 L768.5,135.6 L769.5,135.6 L770.5,135.8 L771.5,136.1 L772.5,136.6 L773.5,137.2 L774.5,137.8 L775.5,138.7 L776.5,139.6 L777.5,140.6 L778.5,141.8 L779.5,143.1 L780.5,144.5 L781.5,146.0 L782.5,147.6 L783.5,149.2 L784.5,151.0 L785.5,152.9 L786.5,154.8 L787.5,156.8 L788.5,158.9 L789.5,161.0 L790.5,163.2 L791.5,165.5 L792.5,167.8 L793.5,170.2 L794.5,172.6 L795.5,175.1 L796.5,177.6 L797.5,180.2 L798.5,182.8 L799.5,185.4 L800.5,188.1 L801.5,190.9 L802.5,193.6 L803.5,196.4 L804.5,199.2 L805.5,202.1 L806.5,205.0 L807.5,207.8 L808.5,210.7 L809.5,213.7 L810.5,216.6 L811.5,219.5 L812.5,222.4 L813.5,225.3 L814.5,228.2 L815.5,231.0 L816.5,233.9 L817.5,236.7 L818.5,239.5 L819.5,242.2 L820.5,244.9 L821.5,247.6 L822.5,250.2 L823.5,252.8 L824.5,255.3 L825.5,257.8 L826.5,260.2 L827.5,262.6 L828.5,264.9 L829.5,267.2 L830.5,269.5 L831.5,271.6 L832.5,273.8 L833.5,275.9 L834.5,277.9 L835.5,279.9 L836.5,281.8 L837.5,283.7 L838.5,285.5 L839.5,287.3 L840.5,289.0 L841.5,290.7 L842.5,292.3 L843.5,293.9 L844.5,295.4 L845.5,296.9 L846.5,298.3 L847.5,299.7 L848.5,301.0 L849.5,302.3 L850.5,303.5 L851.5,304.7 L852.5,305.8 L853.5,306.9 L854.5,307.9 L855.5,308.9 L856.5,309.8 L857.5,310.7 L858.5,311.6 L859.5,312.4 L860.5,313.2 L861.5,314.0 L862.5,314.7 L863.5,315.4 L864.5,316.0 L865.5,316.6 L866.5,317.2 L867.5,317.7 L868.5,318.3 L869.5,318.8 L870.5,319.2 L871.5,319.7 L872.5,320.1 L873.5,320.5 L874.5,320.9 L875.5,321.2 L876.5,321.5 L877.5,321.9 L878.5,322.1 L879.5,322.4 L880.5,322.7 L881.5,322.9 L882.5,323.1 L883.5,323.4 L884.5,323.6 L885.5,323.7 L886.5,323.9 L887.5,324.1 L888.5,324.2 L889.5,324.4 L890.5,324.5 L891.5,324.6 L892.5,324.7 L893.5,324.8 L894.5,324.9 L895.5,325.0 L896.5,325.1 L897.5,325.2 L898.5,325.3 L899.5,325.3 L900.5,325.4 L901.5,325.4 L902.5,325.5 L903.5,325.6 L904.5,325.6 L905.5,325.6 L906.5,325.7 L907.5,325.7 L908.5,325.8 L909.5,325.8 L910.5,325.8 L911.5,325.8 L912.5,325.9 L913.5,325.9 L914.5,325.9 L915.5,325.9 L916.5,326.0 L917.5,326.0 L918.5,326.0 L919.5,326.0 L920.5,326.0 L921.5,326.0 L922.5,326.1 L923.5,326.1 L924.5,326.1 L925.5,326.1 L926.5,326.1 L927.5,326.1 L928.5,326.1 L929.5,326.1 L930.5,326.1 L931.5,326.1 L932.5,326.2 L933.5,326.2 L934.5,326.2 L935.5,326.2 L936.5,326.2 L937.5,326.2 L938.5,326.2 L939.5,326.2 L940.5,326.2 L941.5,326.2 L942.5,326.2 L943.5,326.2 L944.5,326.2 L945.5,326.2 L946.5,326.2 L947.5,326.2 L948.5,326.2 L949.5,326.3 L950.5,326.3 L951.5,326.3 L952.5,326.3 L953.5,326.3 L954.5,326.3 L955.5,326.3 L956.5,326.3 L957.5,326.3 L958.5,326.3 L959.5,326.3 L960.5,326.3 L961.5,326.3 L962.5,326.3 L963.5,326.3 L964.5,326.3 L965.5,326.3 L966.5,326.3 L967.5,326.3 L968.5,326.3 L969.5,326.3 L970.5,326.3 L971.5,326.3 L972.5,326.3 L973.5,326.4 L974.5,326.4 L975.5,326.4 L976.5,326.4 L977.5,326.4 L978.5,326.4 L979.5,326.4 L980.5,326.4 L981.5,326.4 L982.5,326.4 L983.5,326.4 L984.5,326.4 L985.5,326.4 L986.5,326.4 L987.5,326.4 L988.5,326.4 L989.5,326.4 L990.5,326.4 L991.5,326.4 L992.5,326.4 L993.5,326.4 L994.5,326.4 L995.5,326.5 L996.5,326.5 L997.5,326.5 L998.5,326.5 L999.5,326.5 L1000.5,326.5 L1001.5,326.5 L1002.5,326.5 L1003.5,326.5 L1004.5,326.5 L1005.5,326.5 L1006.5,326.5 L1007.5,326.5 L1008.5,326.5 L1009.5,326.5 L1010.5,326.5 L1011.5,326.5 L1012.5,326.5 L1013.5,326.5 L1014.5,326.5 L1015.5,326.5 L1016.5,326.5" stroke="#ff0000" stroke-width="3.0"/>
<path d="M594.5,326.5 L595.5,326.5 L596.5,326.5 L597.5,326.5 L598.5,326.5 L599.5,326.5 L600.5,326.5 L601.5,326.5 L602.5,326.5 L603.5,326.5 L604.5,326.5 L605.5,326.5 L606.5,326.5 L607.5,326.5 L608.5,326.5 L609.5,326.5 L610.5,326.5 L611.5,326.5 L612.5,326.5 L613.5,326.5 L614.5,326.5 L615.5,326.5 L616.5,326.5 L617.5,326.5 L618.5,326.5 L619.5,326.5 L620.5,326.5 L621.5,326.5 L622.5,326.5 L623.5,326.5 L624.5,326.5 L625.5,326.5 L626.5,326.5 L627.5,326.5 L628.5,326.5 L629.5,326.5 L630.5,326.5 L631.5,326.5 L632.5,326.5 L633.5,326.5 L634.5,326.5 L635.5,326.5 L636.5,326.5 L637.5,326.5 L638.5,326.5 L639.5,326.5 L640.5,326.5 L641.5,326.5 L642.5,326.5 L643.5,326.5 L644.5,326.5 L645.5,326.5 L646.5,326.5 L647.5,326.5 L648.5,326.5 L649.5,326.5 L650.5,326.5 L651.5,326.5 L652.5,326.5 L653.5,326.5 L654.5,326.5 L655.5,326.5 L656.5,326.5 L657.5,326.5 L658.5,326.5 L659.5,326.5 L660.5,326.5 L661.5,326.5 L662.5,326.5 L663.5,326.5 L664.5,326.5 L665.5,326.5 L666.5,326.5 L667.5,326.5 L668.5,326.5 L669.5,326.5 L670.5,326.5 L671.5,326.5 L672.5,326.5 L673.5,326.5 L674.5,326.5 L675.5,326.5 L676.5,326.5 L677.5,326.5 L678.5,326.5 L679.5,326.5 L680.5,326.6 L681.5,326.6 L682.5,326.6 L683.5,326.6 L684.5,326.6 L685.5,326.6 L686.5,326.6 L687.5,326.6 L688.5,326.6 L689.5,326.6 L690.5,326.6 L691.5,326.6 L692.5,326.6 L693.5,326.6 L694.5,326.6 L695.5,326.6 L696.5,326.6 L697.5,326.6 L698.5,326.6 L699.5,326.6 L700.5,326.6 L701.5,326.6 L702.5,326.6 L703.5,326.6 L704.5,326.6 L705.5,326.6 L706.5,326.6 L707.5,326.6 L708.5,326.6 L709.5,326.6 L710.5,326.6 L711.5,326.6 L712.5,326.7 L713.5,326.7 L714.5,326.7 L715.5,326.7 L716.5,326.7 L717.5,326.7 L718.5,326.7 L719.5,326.7 L720.5,326.7 L721.5,326.6 L722.5,326.6 L723.5,326.6 L724.5,326.6 L725.5,326.6 L726.5,326.6 L727.5,326.6 L728.5,326.6 L729.5,326.6 L730.5,326.6 L731.5,326.6 L732.5,326.6 L733.5,326.5 L734.5,326.5 L735.5,326.5 L736.5,326.5 L737.5,326.5 L738.5,326.4 L739.5,326.4 L740.5,326.4 L741.5,326.3 L742.5,326.3 L743.5,326.3 L744.5,326.2 L745.5,326.2 L746.5,326.2 L747.5,326.1 L748.5,326.1 L749.5,326.0 L750.5,325.9 L751.5,325.9 L752.5,325.8 L753.5,325.7 L754.5,325.6 L755.5,325.5 L756.5,325.3 L757.5,325.2 L758.5,325.1 L759.5,324.9 L760.5,324.7 L761.5,324.5 L762.5,324.3 L763.5,324.0 L764.5,323.7 L765.5,323.4 L766.5,323.1 L767.5,322.7 L768.5,322.4 L769.5,321.9 L770.5,321.5 L771.5,321.0 L772.5,320.4 L773.5,319.8 L774.5,319.2 L775.5,318.5 L776.5,317.7 L777.5,316.9 L778.5,316.1 L779.5,315.2 L780.5,314.2 L781.5,313.1 L782.5,312.0 L783.5,310.9 L784.5,309.7 L785.5,308.4 L786.5,307.1 L787.5,305.7 L788.5,304.2 L789.5,302.8 L790.5,301.2 L791.5,299.6 L792.5,298.0 L793.5,296.3 L794.5,294.5 L795.5,292.7 L796.5,290.8 L797.5,288.8 L798.5,286.8 L799.5,284.7 L800.5,282.5 L801.5,280.3 L802.5,277.9 L803.5,275.5 L804.5,273.0 L805.5,270.3 L806.5,267.6 L807.5,264.8 L808.5,261.9 L809.5,258.8 L810.5,255.7 L811.5,252.4 L812.5,249.1 L813.5,245.6 L814.5,242.0 L815.5,238.4 L816.5,234.6 L817.5,230.7 L818.5,226.7 L819.5,222.7 L820.5,218.5 L821.5,214.2 L822.5,209.9 L823.5,205.5 L824.5,201.1 L825.5,196.6 L826.5,192.0 L827.5,187.5 L828.5,182.9 L829.5,178.2 L830.5,173.6 L831.5,169.0 L832.5,164.4 L833.5,159.8 L834.5,155.2 L835.5,150.7 L836.5,146.2 L837.5,141.8 L838.5,137.4 L839.5,133.1 L840.5,128.8 L841.5,124.6 L842.5,120.5 L843.5,116.5 L844.5,112.6 L845.5,108.8 L846.5,105.1 L847.5,101.6 L848.5,98.2 L849.5,95.0 L850.5,91.9 L851.5,89.1 L852.5,86.4 L853.5,83.9 L854.5,81.6 L855.5,79.5 L856.5,77.7 L857.5,76.0 L858.5,74.6 L859.5,73.4 L860.5,72.5 L861.5,71.8 L862.5,71.3 L863.5,71.0 L864.5,71.0 L865.5,71.2 L866.5,71.6 L867.5,72.3 L868.5,73.3 L869.5,74.5 L870.5,75.9 L871.5,77.6 L872.5,79.4 L873.5,81.5 L874.5,83.7 L875.5,86.1 L876.5,88.7 L877.5,91.5 L878.5,94.4 L879.5,97.5 L880.5,100.7 L881.5,104.1 L882.5,107.5 L883.5,111.2 L884.5,114.9 L885.5,118.7 L886.5,122.7 L887.5,126.7 L888.5,130.9 L889.5,135.1 L890.5,139.4 L891.5,143.8 L892.5,148.3 L893.5,152.8 L894.5,157.3 L895.5,161.9 L896.5,166.5 L897.5,171.2 L898.5,175.8 L899.5,180.4 L900.5,185.0 L901.5,189.6 L902.5,194.2 L903.5,198.7 L904.5,203.2 L905.5,207.6 L906.5,212.0 L907.5,216.3 L908.5,220.5 L909.5,224.6 L910.5,228.7 L911.5,232.7 L912.5,236.6 L913.5,240.4 L914.5,244.1 L915.5,247.7 L916.5,251.2 L917.5,254.6 L918.5,258.0 L919.5,261.2 L920.5,264.3 L921.5,267.3 L922.5,270.2 L923.5,273.0 L924.5,275.7 L925.5,278.3 L926.5,280.8 L927.5,283.2 L928.5,285.5 L929.5,287.7 L930.5,289.8 L931.5,291.8 L932.5,293.8 L933.5,295.6 L934.5,297.4 L935.5,299.1 L936.5,300.7 L937.5,302.2 L938.5,303.7 L939.5,305.1 L940.5,306.4 L941.5,307.6 L942.5,308.8 L943.5,310.0 L944.5,311.0 L945.5,312.1 L946.5,313.0 L947.5,313.9 L948.5,314.8 L949.5,315.6 L950.5,316.4 L951.5,317.1 L952.5,317.7 L953.5,318.4 L954.5,318.9 L955.5,319.5 L956.5,320.0 L957.5,320.5 L958.5,320.9 L959.5,321.3 L960.5,321.7 L961.5,322.0 L962.5,322.4 L963.5,322.7 L964.5,323.0 L965.5,323.2 L966.5,323.5 L967.5,323.7 L968.5,323.9 L969.5,324.1 L970.5,324.3 L971.5,324.4 L972.5,324.6 L973.5,324.7 L974.5,324.9 L975.5,325.0 L976.5,325.1 L977.5,325.2 L978.5,325.3 L979.5,325.4 L980.5,325.5 L981.5,325.6 L982.5,325.7 L983.5,325.7 L984.5,325.8 L985.5,325.9 L986.5,325.9 L987.5,326.0 L988.5,326.0 L989.5,326.1 L990.5,326.1 L991.5,326.2 L992.5,326.2 L993.5,326.2 L994.5,326.3 L995.5,326.3 L996.5,326.3 L997.5,326.4 L998.5,326.4 L999.5,326.4 L1000.5,326.4 L1001.5,326.5 L1002.5,326.5 L1003.5,326.5 L1004.5,326.5 L1005.5,326.5 L1006.5,326.5 L1007.5,326.5 L1008.5,326.5 L1009.5,326.5 L1010.5,326.5 L1011.5,326.5 L1012.5,326.5 L1013.5,326.5 L1014.5,326.5 L1015.5,326.6 L1016.5,326.6" stroke="#0000ff" stroke-width="3.0"/>
</g>
<rect x="594.50" y="17.40" width="422.90" height="337.10" fill="none" stroke="#000" stroke-width="2.9"/>
<line x1="641.49" y1="354.50" x2="641.49" y2="360.90" stroke="#000" stroke-width="2.9"/>
<text transform="translate(641.49,386.10) scale(1.000,1.040)" font-size="28.00" text-anchor="middle">162</text>
<line x1="735.47" y1="354.50" x2="735.47" y2="360.90" stroke="#000" stroke-width="2.9"/>
<text transform="translate(735.47,386.10) scale(1.000,1.040)" font-size="28.00" text-anchor="middle">160</text>
<line x1="829.44" y1="354.50" x2="829.44" y2="360.90" stroke="#000" stroke-width="2.9"/>
<text transform="translate(829.44,386.10) scale(1.000,1.040)" font-size="28.00" text-anchor="middle">158</text>
<line x1="923.42" y1="354.50" x2="923.42" y2="360.90" stroke="#000" stroke-width="2.9"/>
<text transform="translate(923.42,386.10) scale(1.000,1.040)" font-size="28.00" text-anchor="middle">156</text>
<line x1="1017.40" y1="354.50" x2="1017.40" y2="360.90" stroke="#000" stroke-width="2.9"/>
<text transform="translate(1017.40,386.10) scale(1.000,1.040)" font-size="28.00" text-anchor="middle">154</text>
<text transform="translate(812.30,416.90) scale(1.000,1.040)" font-size="33.30" text-anchor="middle">Binding Energy (eV)</text>
<text transform="translate(572.60,202.25) rotate(-90) scale(1.000,1.040)" font-size="32.30" text-anchor="middle" word-spacing="5.5">Intensity (a.u.)</text>
<text transform="translate(561.50,60.90) scale(1.000,1.000)" font-size="45.90" text-anchor="middle">(b)</text>
<text transform="translate(597.90,45.80) scale(1.000,1.040)" font-size="27.30">3YSZ</text>
<text transform="translate(656.00,91.80) scale(1.000,1.040)" font-size="27.30">Y 3d<tspan font-size="18.2" dy="6.6">3/2</tspan></text>
<text transform="translate(748.00,52.40) scale(1.000,1.040)" font-size="27.30">Y 3d<tspan font-size="18.2" dy="6.6">5/2</tspan></text>
<line x1="713.00" y1="110.00" x2="764.47" y2="150.55" stroke="#000" stroke-width="2.7"/>
<polygon points="780.18,162.93 759.62,153.48 766.18,145.15" fill="#000"/>
<line x1="808.00" y1="61.00" x2="843.33" y2="77.98" stroke="#000" stroke-width="2.7"/>
<polygon points="861.35,86.65 839.23,81.89 843.82,72.34" fill="#000"/>
</g>
<g>
<clipPath id="clip_c"><rect x="1102.50" y="16.55" width="424.00" height="338.85"/></clipPath>
<g clip-path="url(#clip_c)" fill="none" stroke-linejoin="round" stroke-linecap="butt">
<path d="M1102.5,314.1 L1103.5,314.1 L1104.5,314.1 L1105.5,314.1 L1106.5,314.0 L1107.5,314.0 L1108.5,314.0 L1109.5,314.0 L1110.5,314.0 L1111.5,313.9 L1112.5,313.9 L1113.5,313.9 L1114.5,313.9 L1115.5,313.8 L1116.5,313.8 L1117.5,313.8 L1118.5,313.7 L1119.5,313.7 L1120.5,313.7 L1121.5,313.6 L1122.5,313.6 L1123.5,313.6 L1124.5,313.5 L1125.5,313.5 L1126.5,313.5 L1127.5,313.4 L1128.5,313.4 L1129.5,313.3 L1130.5,313.3 L1131.5,313.2 L1132.5,313.2 L1133.5,313.1 L1134.5,313.0 L1135.5,313.0 L1136.5,312.9 L1137.5,312.9 L1138.5,312.8 L1139.5,312.7 L1140.5,312.6 L1141.5,312.6 L1142.5,312.5 L1143.5,312.4 L1144.5,312.3 L1145.5,312.2 L1146.5,312.1 L1147.5,312.0 L1148.5,312.0 L1149.5,311.9 L1150.5,311.8 L1151.5,311.6 L1152.5,311.5 L1153.5,311.4 L1154.5,311.3 L1155.5,311.2 L1156.5,311.1 L1157.5,310.9 L1158.5,310.8 L1159.5,310.7 L1160.5,310.5 L1161.5,310.4 L1162.5,310.3 L1163.5,310.1 L1164.5,309.9 L1165.5,309.8 L1166.5,309.6 L1167.5,309.4 L1168.5,309.3 L1169.5,309.1 L1170.5,308.9 L1171.5,308.7 L1172.5,308.5 L1173.5,308.2 L1174.5,308.0 L1175.5,307.8 L1176.5,307.5 L1177.5,307.2 L1178.5,307.0 L1179.5,306.7 L1180.5,306.4 L1181.5,306.1 L1182.5,305.7 L1183.5,305.4 L1184.5,305.0 L1185.5,304.6 L1186.5,304.2 L1187.5,303.8 L1188.5,303.4 L1189.5,303.0 L1190.5,302.5 L1191.5,302.1 L1192.5,301.6 L1193.5,301.1 L1194.5,300.6 L1195.5,300.1 L1196.5,299.6 L1197.5,299.0 L1198.5,298.5 L1199.5,297.9 L1200.5,297.3 L1201.5,296.8 L1202.5,296.2 L1203.5,295.6 L1204.5,295.0 L1205.5,294.4 L1206.5,293.9 L1207.5,293.3 L1208.5,292.7 L1209.5,292.1 L1210.5,291.6 L1211.5,291.0 L1212.5,290.4 L1213.5,289.8 L1214.5,289.2 L1215.5,288.6 L1216.5,288.0 L1217.5,287.3 L1218.5,286.7 L1219.5,286.0 L1220.5,285.3 L1221.5,284.6 L1222.5,283.9 L1223.5,283.2 L1224.5,282.5 L1225.5,281.8 L1226.5,281.1 L1227.5,280.4 L1228.5,279.7 L1229.5,279.1 L1230.5,278.4 L1231.5,277.8 L1232.5,277.1 L1233.5,276.5 L1234.5,275.9 L1235.5,275.3 L1236.5,274.7 L1237.5,274.2 L1238.5,273.6 L1239.5,273.1 L1240.5,272.6 L1241.5,272.1 L1242.5,271.6 L1243.5,271.0 L1244.5,270.5 L1245.5,270.0 L1246.5,269.4 L1247.5,268.8 L1248.5,268.2 L1249.5,267.6 L1250.5,266.9 L1251.5,266.2 L1252.5,265.5 L1253.5,264.7 L1254.5,263.9 L1255.5,263.1 L1256.5,262.2 L1257.5,261.3 L1258.5,260.4 L1259.5,259.4 L1260.5,258.4 L1261.5,257.3 L1262.5,256.2 L1263.5,255.0 L1264.5,253.8 L1265.5,252.5 L1266.5,251.2 L1267.5,249.8 L1268.5,248.3 L1269.5,246.8 L1270.5,245.3 L1271.5,243.6 L1272.5,241.9 L1273.5,240.2 L1274.5,238.4 L1275.5,236.5 L1276.5,234.6 L1277.5,232.6 L1278.5,230.5 L1279.5,228.4 L1280.5,226.2 L1281.5,224.0 L1282.5,221.8 L1283.5,219.4 L1284.5,217.1 L1285.5,214.6 L1286.5,212.1 L1287.5,209.5 L1288.5,206.9 L1289.5,204.1 L1290.5,201.3 L1291.5,198.4 L1292.5,195.4 L1293.5,192.2 L1294.5,189.0 L1295.5,185.6 L1296.5,182.1 L1297.5,178.5 L1298.5,174.8 L1299.5,170.9 L1300.5,166.9 L1301.5,162.8 L1302.5,158.5 L1303.5,154.1 L1304.5,149.6 L1305.5,145.1 L1306.5,140.4 L1307.5,135.6 L1308.5,130.9 L1309.5,126.1 L1310.5,121.3 L1311.5,116.6 L1312.5,111.9 L1313.5,107.4 L1314.5,102.9 L1315.5,98.6 L1316.5,94.4 L1317.5,90.3 L1318.5,86.4 L1319.5,82.6 L1320.5,79.0 L1321.5,75.4 L1322.5,72.1 L1323.5,68.9 L1324.5,65.8 L1325.5,63.0 L1326.5,60.3 L1327.5,57.9 L1328.5,55.7 L1329.5,53.7 L1330.5,52.0 L1331.5,50.5 L1332.5,49.3 L1333.5,48.5 L1334.5,47.9 L1335.5,47.6 L1336.5,47.6 L1337.5,47.9 L1338.5,48.5 L1339.5,49.5 L1340.5,50.7 L1341.5,52.3 L1342.5,54.1 L1343.5,56.2 L1344.5,58.5 L1345.5,61.1 L1346.5,63.9 L1347.5,66.9 L1348.5,70.0 L1349.5,73.4 L1350.5,77.0 L1351.5,80.7 L1352.5,84.6 L1353.5,88.7 L1354.5,92.8 L1355.5,97.2 L1356.5,101.6 L1357.5,106.1 L1358.5,110.8 L1359.5,115.5 L1360.5,120.4 L1361.5,125.3 L1362.5,130.4 L1363.5,135.4 L1364.5,140.6 L1365.5,145.8 L1366.5,151.1 L1367.5,156.4 L1368.5,161.7 L1369.5,167.0 L1370.5,172.4 L1371.5,177.7 L1372.5,183.0 L1373.5,188.2 L1374.5,193.4 L1375.5,198.6 L1376.5,203.6 L1377.5,208.6 L1378.5,213.5 L1379.5,218.2 L1380.5,222.9 L1381.5,227.4 L1382.5,231.8 L1383.5,236.1 L1384.5,240.2 L1385.5,244.2 L1386.5,248.0 L1387.5,251.7 L1388.5,255.3 L1389.5,258.7 L1390.5,262.0 L1391.5,265.1 L1392.5,268.1 L1393.5,271.0 L1394.5,273.7 L1395.5,276.3 L1396.5,278.8 L1397.5,281.2 L1398.5,283.4 L1399.5,285.5 L1400.5,287.5 L1401.5,289.4 L1402.5,291.2 L1403.5,292.9 L1404.5,294.5 L1405.5,296.0 L1406.5,297.4 L1407.5,298.7 L1408.5,300.0 L1409.5,301.2 L1410.5,302.3 L1411.5,303.3 L1412.5,304.2 L1413.5,305.1 L1414.5,306.0 L1415.5,306.8 L1416.5,307.5 L1417.5,308.2 L1418.5,308.8 L1419.5,309.4 L1420.5,310.0 L1421.5,310.5 L1422.5,311.0 L1423.5,311.4 L1424.5,311.8 L1425.5,312.2 L1426.5,312.6 L1427.5,312.9 L1428.5,313.2 L1429.5,313.5 L1430.5,313.8 L1431.5,314.0 L1432.5,314.2 L1433.5,314.4 L1434.5,314.6 L1435.5,314.8 L1436.5,315.0 L1437.5,315.2 L1438.5,315.3 L1439.5,315.4 L1440.5,315.6 L1441.5,315.7 L1442.5,315.8 L1443.5,315.9 L1444.5,316.0 L1445.5,316.1 L1446.5,316.2 L1447.5,316.3 L1448.5,316.4 L1449.5,316.4 L1450.5,316.5 L1451.5,316.6 L1452.5,316.6 L1453.5,316.7 L1454.5,316.8 L1455.5,316.8 L1456.5,316.9 L1457.5,316.9 L1458.5,317.0 L1459.5,317.0 L1460.5,317.0 L1461.5,317.1 L1462.5,317.1 L1463.5,317.1 L1464.5,317.2 L1465.5,317.2 L1466.5,317.2 L1467.5,317.3 L1468.5,317.3 L1469.5,317.3 L1470.5,317.3 L1471.5,317.4 L1472.5,317.4 L1473.5,317.4 L1474.5,317.4 L1475.5,317.5 L1476.5,317.5 L1477.5,317.5 L1478.5,317.5 L1479.5,317.6 L1480.5,317.6 L1481.5,317.6 L1482.5,317.6 L1483.5,317.7 L1484.5,317.7 L1485.5,317.7 L1486.5,317.7 L1487.5,317.8 L1488.5,317.8 L1489.5,317.8 L1490.5,317.8 L1491.5,317.9 L1492.5,317.9 L1493.5,317.9 L1494.5,317.9 L1495.5,318.0 L1496.5,318.0 L1497.5,318.0 L1498.5,318.0 L1499.5,318.0 L1500.5,318.1 L1501.5,318.1 L1502.5,318.1 L1503.5,318.1 L1504.5,318.1 L1505.5,318.2 L1506.5,318.2 L1507.5,318.2 L1508.5,318.2 L1509.5,318.3 L1510.5,318.3 L1511.5,318.3 L1512.5,318.3 L1513.5,318.3 L1514.5,318.4 L1515.5,318.4 L1516.5,318.4 L1517.5,318.4 L1518.5,318.5 L1519.5,318.5 L1520.5,318.5 L1521.5,318.5 L1522.5,318.6 L1523.5,318.6 L1524.5,318.6 L1525.5,318.6 L1526.5,318.6" stroke="#000" stroke-width="2.7"/>
<path d="M1102.5,315.2 L1103.5,315.2 L1104.5,315.2 L1105.5,315.2 L1106.5,315.2 L1107.5,315.2 L1108.5,315.2 L1109.5,315.2 L1110.5,315.2 L1111.5,315.2 L1112.5,315.2 L1113.5,315.2 L1114.5,315.2 L1115.5,315.2 L1116.5,315.2 L1117.5,315.2 L1118.5,315.1 L1119.5,315.1 L1120.5,315.1 L1121.5,315.1 L1122.5,315.1 L1123.5,315.1 L1124.5,315.1 L1125.5,315.1 L1126.5,315.1 L1127.5,315.1 L1128.5,315.1 L1129.5,315.1 L1130.5,315.1 L1131.5,315.1 L1132.5,315.1 L1133.5,315.1 L1134.5,315.1 L1135.5,315.0 L1136.5,315.0 L1137.5,315.0 L1138.5,315.0 L1139.5,315.0 L1140.5,315.0 L1141.5,314.9 L1142.5,314.9 L1143.5,314.9 L1144.5,314.9 L1145.5,314.8 L1146.5,314.8 L1147.5,314.8 L1148.5,314.7 L1149.5,314.7 L1150.5,314.6 L1151.5,314.6 L1152.5,314.5 L1153.5,314.4 L1154.5,314.4 L1155.5,314.3 L1156.5,314.2 L1157.5,314.1 L1158.5,314.1 L1159.5,314.0 L1160.5,313.9 L1161.5,313.7 L1162.5,313.6 L1163.5,313.5 L1164.5,313.4 L1165.5,313.2 L1166.5,313.1 L1167.5,312.9 L1168.5,312.7 L1169.5,312.6 L1170.5,312.4 L1171.5,312.2 L1172.5,312.0 L1173.5,311.8 L1174.5,311.6 L1175.5,311.3 L1176.5,311.1 L1177.5,310.9 L1178.5,310.6 L1179.5,310.4 L1180.5,310.1 L1181.5,309.9 L1182.5,309.6 L1183.5,309.3 L1184.5,309.0 L1185.5,308.8 L1186.5,308.5 L1187.5,308.2 L1188.5,307.8 L1189.5,307.5 L1190.5,307.2 L1191.5,306.9 L1192.5,306.5 L1193.5,306.2 L1194.5,305.8 L1195.5,305.5 L1196.5,305.1 L1197.5,304.7 L1198.5,304.3 L1199.5,303.9 L1200.5,303.5 L1201.5,303.1 L1202.5,302.7 L1203.5,302.3 L1204.5,302.0 L1205.5,301.6 L1206.5,301.2 L1207.5,300.8 L1208.5,300.4 L1209.5,300.0 L1210.5,299.6 L1211.5,299.3 L1212.5,298.9 L1213.5,298.6 L1214.5,298.2 L1215.5,297.9 L1216.5,297.6 L1217.5,297.3 L1218.5,297.0 L1219.5,296.7 L1220.5,296.5 L1221.5,296.2 L1222.5,296.0 L1223.5,295.8 L1224.5,295.7 L1225.5,295.5 L1226.5,295.4 L1227.5,295.3 L1228.5,295.2 L1229.5,295.2 L1230.5,295.2 L1231.5,295.2 L1232.5,295.2 L1233.5,295.3 L1234.5,295.5 L1235.5,295.7 L1236.5,295.9 L1237.5,296.1 L1238.5,296.4 L1239.5,296.8 L1240.5,297.2 L1241.5,297.6 L1242.5,298.0 L1243.5,298.4 L1244.5,298.9 L1245.5,299.4 L1246.5,299.9 L1247.5,300.4 L1248.5,301.0 L1249.5,301.5 L1250.5,302.0 L1251.5,302.6 L1252.5,303.1 L1253.5,303.6 L1254.5,304.2 L1255.5,304.7 L1256.5,305.2 L1257.5,305.7 L1258.5,306.2 L1259.5,306.7 L1260.5,307.1 L1261.5,307.6 L1262.5,308.0 L1263.5,308.4 L1264.5,308.8 L1265.5,309.2 L1266.5,309.6 L1267.5,310.0 L1268.5,310.3 L1269.5,310.6 L1270.5,311.0 L1271.5,311.3 L1272.5,311.6 L1273.5,311.8 L1274.5,312.1 L1275.5,312.4 L1276.5,312.6 L1277.5,312.9 L1278.5,313.1 L1279.5,313.3 L1280.5,313.5 L1281.5,313.7 L1282.5,313.9 L1283.5,314.0 L1284.5,314.2 L1285.5,314.4 L1286.5,314.5 L1287.5,314.7 L1288.5,314.8 L1289.5,315.0 L1290.5,315.1 L1291.5,315.2 L1292.5,315.3 L1293.5,315.5 L1294.5,315.6 L1295.5,315.7 L1296.5,315.8 L1297.5,315.9 L1298.5,316.0 L1299.5,316.1 L1300.5,316.2 L1301.5,316.3 L1302.5,316.4 L1303.5,316.5 L1304.5,316.6 L1305.5,316.7 L1306.5,316.8 L1307.5,316.9 L1308.5,317.0 L1309.5,317.1 L1310.5,317.1 L1311.5,317.2 L1312.5,317.3 L1313.5,317.4 L1314.5,317.5 L1315.5,317.5 L1316.5,317.6 L1317.5,317.7 L1318.5,317.8 L1319.5,317.8 L1320.5,317.9 L1321.5,318.0 L1322.5,318.0 L1323.5,318.1 L1324.5,318.2 L1325.5,318.2 L1326.5,318.3 L1327.5,318.4 L1328.5,318.4 L1329.5,318.5 L1330.5,318.6 L1331.5,318.6 L1332.5,318.7 L1333.5,318.7 L1334.5,318.8 L1335.5,318.8 L1336.5,318.9 L1337.5,318.9 L1338.5,319.0 L1339.5,319.0 L1340.5,319.1 L1341.5,319.1 L1342.5,319.2 L1343.5,319.2 L1344.5,319.3 L1345.5,319.3 L1346.5,319.4 L1347.5,319.4 L1348.5,319.4 L1349.5,319.5 L1350.5,319.5 L1351.5,319.5 L1352.5,319.6 L1353.5,319.6 L1354.5,319.6 L1355.5,319.7 L1356.5,319.7 L1357.5,319.7 L1358.5,319.8 L1359.5,319.8 L1360.5,319.8 L1361.5,319.8 L1362.5,319.9 L1363.5,319.9 L1364.5,319.9 L1365.5,319.9 L1366.5,320.0 L1367.5,320.0 L1368.5,320.0 L1369.5,320.0 L1370.5,320.1 L1371.5,320.1 L1372.5,320.1 L1373.5,320.1 L1374.5,320.1 L1375.5,320.2 L1376.5,320.2 L1377.5,320.2 L1378.5,320.2 L1379.5,320.2 L1380.5,320.2 L1381.5,320.3 L1382.5,320.3 L1383.5,320.3 L1384.5,320.3 L1385.5,320.3 L1386.5,320.3 L1387.5,320.3 L1388.5,320.4 L1389.5,320.4 L1390.5,320.4 L1391.5,320.4 L1392.5,320.4 L1393.5,320.4 L1394.5,320.4 L1395.5,320.4 L1396.5,320.5 L1397.5,320.5 L1398.5,320.5 L1399.5,320.5 L1400.5,320.5 L1401.5,320.5 L1402.5,320.5 L1403.5,320.5 L1404.5,320.5 L1405.5,320.5 L1406.5,320.5 L1407.5,320.6 L1408.5,320.6 L1409.5,320.6 L1410.5,320.6 L1411.5,320.6 L1412.5,320.6 L1413.5,320.6 L1414.5,320.6 L1415.5,320.6 L1416.5,320.6 L1417.5,320.6 L1418.5,320.6 L1419.5,320.6 L1420.5,320.6 L1421.5,320.7 L1422.5,320.7 L1423.5,320.7 L1424.5,320.7 L1425.5,320.7 L1426.5,320.7 L1427.5,320.7 L1428.5,320.7 L1429.5,320.7 L1430.5,320.7 L1431.5,320.7 L1432.5,320.7 L1433.5,320.7 L1434.5,320.7 L1435.5,320.7 L1436.5,320.7 L1437.5,320.7 L1438.5,320.7 L1439.5,320.8 L1440.5,320.8 L1441.5,320.8 L1442.5,320.8 L1443.5,320.8 L1444.5,320.8 L1445.5,320.8 L1446.5,320.8 L1447.5,320.8 L1448.5,320.8 L1449.5,320.8 L1450.5,320.8 L1451.5,320.8 L1452.5,320.8 L1453.5,320.8 L1454.5,320.8 L1455.5,320.8 L1456.5,320.8 L1457.5,320.8 L1458.5,320.8 L1459.5,320.8 L1460.5,320.8 L1461.5,320.8 L1462.5,320.8 L1463.5,320.8 L1464.5,320.8 L1465.5,320.8 L1466.5,320.8 L1467.5,320.8 L1468.5,320.8 L1469.5,320.7 L1470.5,320.7 L1471.5,320.7 L1472.5,320.7 L1473.5,320.7 L1474.5,320.7 L1475.5,320.7 L1476.5,320.6 L1477.5,320.6 L1478.5,320.6 L1479.5,320.6 L1480.5,320.6 L1481.5,320.6 L1482.5,320.5 L1483.5,320.5 L1484.5,320.5 L1485.5,320.5 L1486.5,320.5 L1487.5,320.4 L1488.5,320.4 L1489.5,320.4 L1490.5,320.4 L1491.5,320.4 L1492.5,320.3 L1493.5,320.3 L1494.5,320.3 L1495.5,320.3 L1496.5,320.3 L1497.5,320.2 L1498.5,320.2 L1499.5,320.2 L1500.5,320.2 L1501.5,320.2 L1502.5,320.2 L1503.5,320.2 L1504.5,320.1 L1505.5,320.1 L1506.5,320.1 L1507.5,320.1 L1508.5,320.1 L1509.5,320.1 L1510.5,320.1 L1511.5,320.1 L1512.5,320.0 L1513.5,320.0 L1514.5,320.0 L1515.5,320.0 L1516.5,320.0 L1517.5,320.0 L1518.5,320.0 L1519.5,320.0 L1520.5,320.0 L1521.5,320.0 L1522.5,320.0 L1523.5,320.0 L1524.5,320.0 L1525.5,320.0 L1526.5,320.0" stroke="#ff0000" stroke-width="3.0"/>
<path d="M1102.5,315.5 L1103.5,315.5 L1104.5,315.5 L1105.5,315.5 L1106.5,315.5 L1107.5,315.5 L1108.5,315.5 L1109.5,315.5 L1110.5,315.5 L1111.5,315.5 L1112.5,315.5 L1113.5,315.5 L1114.5,315.5 L1115.5,315.5 L1116.5,315.5 L1117.5,315.5 L1118.5,315.5 L1119.5,315.5 L1120.5,315.5 L1121.5,315.5 L1122.5,315.5 L1123.5,315.5 L1124.5,315.5 L1125.5,315.5 L1126.5,315.5 L1127.5,315.5 L1128.5,315.5 L1129.5,315.5 L1130.5,315.5 L1131.5,315.5 L1132.5,315.5 L1133.5,315.5 L1134.5,315.5 L1135.5,315.5 L1136.5,315.5 L1137.5,315.5 L1138.5,315.5 L1139.5,315.5 L1140.5,315.5 L1141.5,315.5 L1142.5,315.5 L1143.5,315.5 L1144.5,315.5 L1145.5,315.4 L1146.5,315.4 L1147.5,315.4 L1148.5,315.4 L1149.5,315.4 L1150.5,315.4 L1151.5,315.3 L1152.5,315.3 L1153.5,315.3 L1154.5,315.3 L1155.5,315.2 L1156.5,315.2 L1157.5,315.1 L1158.5,315.1 L1159.5,315.0 L1160.5,315.0 L1161.5,314.9 L1162.5,314.9 L1163.5,314.8 L1164.5,314.7 L1165.5,314.6 L1166.5,314.6 L1167.5,314.5 L1168.5,314.4 L1169.5,314.3 L1170.5,314.2 L1171.5,314.1 L1172.5,314.0 L1173.5,313.9 L1174.5,313.8 L1175.5,313.7 L1176.5,313.6 L1177.5,313.5 L1178.5,313.4 L1179.5,313.3 L1180.5,313.1 L1181.5,313.0 L1182.5,312.9 L1183.5,312.8 L1184.5,312.7 L1185.5,312.6 L1186.5,312.4 L1187.5,312.3 L1188.5,312.2 L1189.5,312.1 L1190.5,311.9 L1191.5,311.8 L1192.5,311.7 L1193.5,311.5 L1194.5,311.4 L1195.5,311.2 L1196.5,311.1 L1197.5,310.9 L1198.5,310.8 L1199.5,310.6 L1200.5,310.5 L1201.5,310.3 L1202.5,310.1 L1203.5,310.0 L1204.5,309.8 L1205.5,309.6 L1206.5,309.4 L1207.5,309.2 L1208.5,309.0 L1209.5,308.8 L1210.5,308.6 L1211.5,308.4 L1212.5,308.2 L1213.5,307.9 L1214.5,307.7 L1215.5,307.4 L1216.5,307.2 L1217.5,306.9 L1218.5,306.6 L1219.5,306.2 L1220.5,305.9 L1221.5,305.5 L1222.5,305.2 L1223.5,304.8 L1224.5,304.4 L1225.5,303.9 L1226.5,303.5 L1227.5,303.0 L1228.5,302.5 L1229.5,302.0 L1230.5,301.5 L1231.5,301.0 L1232.5,300.4 L1233.5,299.8 L1234.5,299.2 L1235.5,298.6 L1236.5,298.0 L1237.5,297.3 L1238.5,296.7 L1239.5,296.0 L1240.5,295.2 L1241.5,294.5 L1242.5,293.8 L1243.5,293.0 L1244.5,292.2 L1245.5,291.5 L1246.5,290.7 L1247.5,289.9 L1248.5,289.1 L1249.5,288.2 L1250.5,287.4 L1251.5,286.6 L1252.5,285.8 L1253.5,285.0 L1254.5,284.2 L1255.5,283.5 L1256.5,282.7 L1257.5,282.0 L1258.5,281.3 L1259.5,280.6 L1260.5,279.9 L1261.5,279.3 L1262.5,278.8 L1263.5,278.2 L1264.5,277.8 L1265.5,277.3 L1266.5,277.0 L1267.5,276.7 L1268.5,276.4 L1269.5,276.3 L1270.5,276.2 L1271.5,276.1 L1272.5,276.1 L1273.5,276.3 L1274.5,276.4 L1275.5,276.7 L1276.5,277.1 L1277.5,277.5 L1278.5,278.0 L1279.5,278.5 L1280.5,279.1 L1281.5,279.8 L1282.5,280.5 L1283.5,281.3 L1284.5,282.1 L1285.5,282.9 L1286.5,283.8 L1287.5,284.7 L1288.5,285.6 L1289.5,286.5 L1290.5,287.4 L1291.5,288.3 L1292.5,289.2 L1293.5,290.2 L1294.5,291.1 L1295.5,292.0 L1296.5,292.9 L1297.5,293.8 L1298.5,294.7 L1299.5,295.5 L1300.5,296.3 L1301.5,297.2 L1302.5,298.0 L1303.5,298.7 L1304.5,299.5 L1305.5,300.2 L1306.5,300.9 L1307.5,301.6 L1308.5,302.3 L1309.5,302.9 L1310.5,303.5 L1311.5,304.1 L1312.5,304.7 L1313.5,305.2 L1314.5,305.7 L1315.5,306.2 L1316.5,306.7 L1317.5,307.2 L1318.5,307.6 L1319.5,308.0 L1320.5,308.4 L1321.5,308.8 L1322.5,309.1 L1323.5,309.5 L1324.5,309.8 L1325.5,310.1 L1326.5,310.4 L1327.5,310.7 L1328.5,310.9 L1329.5,311.2 L1330.5,311.4 L1331.5,311.6 L1332.5,311.9 L1333.5,312.1 L1334.5,312.3 L1335.5,312.4 L1336.5,312.6 L1337.5,312.8 L1338.5,313.0 L1339.5,313.1 L1340.5,313.3 L1341.5,313.4 L1342.5,313.6 L1343.5,313.7 L1344.5,313.8 L1345.5,314.0 L1346.5,314.1 L1347.5,314.2 L1348.5,314.4 L1349.5,314.5 L1350.5,314.6 L1351.5,314.8 L1352.5,314.9 L1353.5,315.0 L1354.5,315.1 L1355.5,315.2 L1356.5,315.3 L1357.5,315.4 L1358.5,315.6 L1359.5,315.7 L1360.5,315.8 L1361.5,315.8 L1362.5,315.9 L1363.5,316.0 L1364.5,316.1 L1365.5,316.2 L1366.5,316.3 L1367.5,316.4 L1368.5,316.5 L1369.5,316.5 L1370.5,316.6 L1371.5,316.7 L1372.5,316.7 L1373.5,316.8 L1374.5,316.9 L1375.5,316.9 L1376.5,317.0 L1377.5,317.1 L1378.5,317.1 L1379.5,317.2 L1380.5,317.2 L1381.5,317.3 L1382.5,317.3 L1383.5,317.4 L1384.5,317.4 L1385.5,317.5 L1386.5,317.5 L1387.5,317.6 L1388.5,317.6 L1389.5,317.6 L1390.5,317.7 L1391.5,317.7 L1392.5,317.8 L1393.5,317.8 L1394.5,317.8 L1395.5,317.9 L1396.5,317.9 L1397.5,317.9 L1398.5,318.0 L1399.5,318.0 L1400.5,318.0 L1401.5,318.0 L1402.5,318.1 L1403.5,318.1 L1404.5,318.1 L1405.5,318.1 L1406.5,318.2 L1407.5,318.2 L1408.5,318.2 L1409.5,318.2 L1410.5,318.3 L1411.5,318.3 L1412.5,318.3 L1413.5,318.3 L1414.5,318.4 L1415.5,318.4 L1416.5,318.4 L1417.5,318.4 L1418.5,318.4 L1419.5,318.5 L1420.5,318.5 L1421.5,318.5 L1422.5,318.5 L1423.5,318.5 L1424.5,318.6 L1425.5,318.6 L1426.5,318.6 L1427.5,318.6 L1428.5,318.6 L1429.5,318.6 L1430.5,318.7 L1431.5,318.7 L1432.5,318.7 L1433.5,318.7 L1434.5,318.7 L1435.5,318.7 L1436.5,318.7 L1437.5,318.8 L1438.5,318.8 L1439.5,318.8 L1440.5,318.8 L1441.5,318.8 L1442.5,318.8 L1443.5,318.8 L1444.5,318.9 L1445.5,318.9 L1446.5,318.9 L1447.5,318.9 L1448.5,318.9 L1449.5,318.9 L1450.5,318.9 L1451.5,318.9 L1452.5,318.9 L1453.5,319.0 L1454.5,319.0 L1455.5,319.0 L1456.5,319.0 L1457.5,319.0 L1458.5,319.0 L1459.5,319.0 L1460.5,319.0 L1461.5,319.0 L1462.5,319.0 L1463.5,319.0 L1464.5,319.0 L1465.5,319.0 L1466.5,319.0 L1467.5,319.0 L1468.5,319.1 L1469.5,319.1 L1470.5,319.1 L1471.5,319.1 L1472.5,319.1 L1473.5,319.1 L1474.5,319.1 L1475.5,319.1 L1476.5,319.1 L1477.5,319.1 L1478.5,319.1 L1479.5,319.1 L1480.5,319.1 L1481.5,319.1 L1482.5,319.1 L1483.5,319.1 L1484.5,319.1 L1485.5,319.0 L1486.5,319.0 L1487.5,319.0 L1488.5,319.0 L1489.5,319.0 L1490.5,319.0 L1491.5,319.0 L1492.5,319.0 L1493.5,319.0 L1494.5,319.0 L1495.5,319.0 L1496.5,319.0 L1497.5,319.0 L1498.5,319.0 L1499.5,319.0 L1500.5,319.0 L1501.5,319.0 L1502.5,319.0 L1503.5,319.0 L1504.5,319.0 L1505.5,319.0 L1506.5,319.0 L1507.5,319.0 L1508.5,319.0 L1509.5,319.0 L1510.5,319.0 L1511.5,319.0 L1512.5,319.0 L1513.5,319.0 L1514.5,319.0 L1515.5,319.0 L1516.5,319.0 L1517.5,319.0 L1518.5,319.0 L1519.5,319.0 L1520.5,319.0 L1521.5,319.0 L1522.5,319.0 L1523.5,319.0 L1524.5,319.0 L1525.5,319.0 L1526.5,319.0" stroke="#0000ff" stroke-width="3.0"/>
<path d="M1102.5,316.0 L1103.5,316.0 L1104.5,316.0 L1105.5,316.0 L1106.5,316.0 L1107.5,316.0 L1108.5,316.0 L1109.5,316.1 L1110.5,316.1 L1111.5,316.1 L1112.5,316.1 L1113.5,316.1 L1114.5,316.1 L1115.5,316.1 L1116.5,316.2 L1117.5,316.2 L1118.5,316.2 L1119.5,316.3 L1120.5,316.3 L1121.5,316.3 L1122.5,316.3 L1123.5,316.4 L1124.5,316.4 L1125.5,316.5 L1126.5,316.5 L1127.5,316.5 L1128.5,316.6 L1129.5,316.6 L1130.5,316.6 L1131.5,316.7 L1132.5,316.7 L1133.5,316.8 L1134.5,316.8 L1135.5,316.8 L1136.5,316.9 L1137.5,316.9 L1138.5,317.0 L1139.5,317.0 L1140.5,317.0 L1141.5,317.1 L1142.5,317.1 L1143.5,317.1 L1144.5,317.2 L1145.5,317.2 L1146.5,317.2 L1147.5,317.2 L1148.5,317.3 L1149.5,317.3 L1150.5,317.3 L1151.5,317.3 L1152.5,317.3 L1153.5,317.3 L1154.5,317.3 L1155.5,317.3 L1156.5,317.3 L1157.5,317.3 L1158.5,317.3 L1159.5,317.3 L1160.5,317.3 L1161.5,317.3 L1162.5,317.3 L1163.5,317.3 L1164.5,317.3 L1165.5,317.3 L1166.5,317.3 L1167.5,317.3 L1168.5,317.2 L1169.5,317.2 L1170.5,317.2 L1171.5,317.2 L1172.5,317.2 L1173.5,317.2 L1174.5,317.1 L1175.5,317.1 L1176.5,317.1 L1177.5,317.1 L1178.5,317.0 L1179.5,317.0 L1180.5,317.0 L1181.5,317.0 L1182.5,317.0 L1183.5,316.9 L1184.5,316.9 L1185.5,316.9 L1186.5,316.9 L1187.5,316.8 L1188.5,316.8 L1189.5,316.8 L1190.5,316.7 L1191.5,316.7 L1192.5,316.7 L1193.5,316.7 L1194.5,316.6 L1195.5,316.6 L1196.5,316.6 L1197.5,316.5 L1198.5,316.5 L1199.5,316.5 L1200.5,316.4 L1201.5,316.4 L1202.5,316.4 L1203.5,316.3 L1204.5,316.3 L1205.5,316.3 L1206.5,316.2 L1207.5,316.2 L1208.5,316.2 L1209.5,316.1 L1210.5,316.1 L1211.5,316.1 L1212.5,316.0 L1213.5,316.0 L1214.5,315.9 L1215.5,315.9 L1216.5,315.9 L1217.5,315.8 L1218.5,315.8 L1219.5,315.7 L1220.5,315.7 L1221.5,315.6 L1222.5,315.5 L1223.5,315.5 L1224.5,315.4 L1225.5,315.3 L1226.5,315.3 L1227.5,315.2 L1228.5,315.1 L1229.5,315.0 L1230.5,314.9 L1231.5,314.8 L1232.5,314.7 L1233.5,314.5 L1234.5,314.4 L1235.5,314.2 L1236.5,314.1 L1237.5,313.9 L1238.5,313.7 L1239.5,313.5 L1240.5,313.3 L1241.5,313.1 L1242.5,312.8 L1243.5,312.5 L1244.5,312.2 L1245.5,311.9 L1246.5,311.6 L1247.5,311.2 L1248.5,310.8 L1249.5,310.4 L1250.5,309.9 L1251.5,309.4 L1252.5,308.9 L1253.5,308.3 L1254.5,307.7 L1255.5,307.0 L1256.5,306.4 L1257.5,305.6 L1258.5,304.9 L1259.5,304.1 L1260.5,303.2 L1261.5,302.3 L1262.5,301.4 L1263.5,300.4 L1264.5,299.3 L1265.5,298.2 L1266.5,297.0 L1267.5,295.8 L1268.5,294.4 L1269.5,293.0 L1270.5,291.5 L1271.5,290.0 L1272.5,288.3 L1273.5,286.6 L1274.5,284.7 L1275.5,282.8 L1276.5,280.7 L1277.5,278.6 L1278.5,276.3 L1279.5,273.9 L1280.5,271.4 L1281.5,268.8 L1282.5,266.1 L1283.5,263.3 L1284.5,260.3 L1285.5,257.2 L1286.5,253.9 L1287.5,250.5 L1288.5,247.0 L1289.5,243.2 L1290.5,239.3 L1291.5,235.3 L1292.5,231.0 L1293.5,226.6 L1294.5,222.0 L1295.5,217.2 L1296.5,212.3 L1297.5,207.3 L1298.5,202.3 L1299.5,197.1 L1300.5,191.9 L1301.5,186.8 L1302.5,181.6 L1303.5,176.5 L1304.5,171.4 L1305.5,166.3 L1306.5,161.3 L1307.5,156.2 L1308.5,151.3 L1309.5,146.3 L1310.5,141.3 L1311.5,136.4 L1312.5,131.5 L1313.5,126.6 L1314.5,121.8 L1315.5,116.9 L1316.5,112.2 L1317.5,107.5 L1318.5,102.9 L1319.5,98.4 L1320.5,94.1 L1321.5,89.8 L1322.5,85.8 L1323.5,81.9 L1324.5,78.2 L1325.5,74.7 L1326.5,71.4 L1327.5,68.4 L1328.5,65.7 L1329.5,63.3 L1330.5,61.1 L1331.5,59.3 L1332.5,57.8 L1333.5,56.6 L1334.5,55.7 L1335.5,55.2 L1336.5,55.0 L1337.5,55.1 L1338.5,55.6 L1339.5,56.3 L1340.5,57.4 L1341.5,58.7 L1342.5,60.2 L1343.5,62.0 L1344.5,64.0 L1345.5,66.2 L1346.5,68.6 L1347.5,71.3 L1348.5,74.0 L1349.5,77.0 L1350.5,80.1 L1351.5,83.4 L1352.5,86.8 L1353.5,90.4 L1354.5,94.2 L1355.5,98.2 L1356.5,102.3 L1357.5,106.5 L1358.5,111.0 L1359.5,115.6 L1360.5,120.3 L1361.5,125.3 L1362.5,130.3 L1363.5,135.5 L1364.5,140.9 L1365.5,146.3 L1366.5,151.8 L1367.5,157.4 L1368.5,163.0 L1369.5,168.6 L1370.5,174.1 L1371.5,179.7 L1372.5,185.2 L1373.5,190.6 L1374.5,195.9 L1375.5,201.1 L1376.5,206.2 L1377.5,211.2 L1378.5,216.1 L1379.5,220.9 L1380.5,225.5 L1381.5,230.0 L1382.5,234.3 L1383.5,238.6 L1384.5,242.6 L1385.5,246.6 L1386.5,250.4 L1387.5,254.1 L1388.5,257.6 L1389.5,260.9 L1390.5,264.2 L1391.5,267.3 L1392.5,270.3 L1393.5,273.1 L1394.5,275.8 L1395.5,278.4 L1396.5,280.8 L1397.5,283.1 L1398.5,285.3 L1399.5,287.4 L1400.5,289.4 L1401.5,291.3 L1402.5,293.1 L1403.5,294.7 L1404.5,296.3 L1405.5,297.8 L1406.5,299.2 L1407.5,300.5 L1408.5,301.7 L1409.5,302.8 L1410.5,303.9 L1411.5,304.9 L1412.5,305.8 L1413.5,306.7 L1414.5,307.5 L1415.5,308.3 L1416.5,309.0 L1417.5,309.6 L1418.5,310.2 L1419.5,310.8 L1420.5,311.3 L1421.5,311.8 L1422.5,312.3 L1423.5,312.7 L1424.5,313.1 L1425.5,313.5 L1426.5,313.9 L1427.5,314.2 L1428.5,314.5 L1429.5,314.8 L1430.5,315.1 L1431.5,315.3 L1432.5,315.6 L1433.5,315.8 L1434.5,316.0 L1435.5,316.2 L1436.5,316.3 L1437.5,316.5 L1438.5,316.7 L1439.5,316.8 L1440.5,316.9 L1441.5,317.0 L1442.5,317.1 L1443.5,317.2 L1444.5,317.3 L1445.5,317.4 L1446.5,317.5 L1447.5,317.6 L1448.5,317.6 L1449.5,317.7 L1450.5,317.7 L1451.5,317.8 L1452.5,317.8 L1453.5,317.9 L1454.5,317.9 L1455.5,318.0 L1456.5,318.0 L1457.5,318.1 L1458.5,318.1 L1459.5,318.1 L1460.5,318.2 L1461.5,318.2 L1462.5,318.2 L1463.5,318.3 L1464.5,318.3 L1465.5,318.3 L1466.5,318.3 L1467.5,318.4 L1468.5,318.4 L1469.5,318.4 L1470.5,318.4 L1471.5,318.4 L1472.5,318.5 L1473.5,318.5 L1474.5,318.5 L1475.5,318.5 L1476.5,318.5 L1477.5,318.5 L1478.5,318.6 L1479.5,318.6 L1480.5,318.6 L1481.5,318.6 L1482.5,318.6 L1483.5,318.6 L1484.5,318.6 L1485.5,318.6 L1486.5,318.6 L1487.5,318.7 L1488.5,318.7 L1489.5,318.7 L1490.5,318.7 L1491.5,318.7 L1492.5,318.7 L1493.5,318.7 L1494.5,318.7 L1495.5,318.7 L1496.5,318.7 L1497.5,318.7 L1498.5,318.7 L1499.5,318.7 L1500.5,318.8 L1501.5,318.8 L1502.5,318.8 L1503.5,318.8 L1504.5,318.8 L1505.5,318.8 L1506.5,318.8 L1507.5,318.8 L1508.5,318.8 L1509.5,318.8 L1510.5,318.9 L1511.5,318.9 L1512.5,318.9 L1513.5,318.9 L1514.5,318.9 L1515.5,318.9 L1516.5,318.9 L1517.5,319.0 L1518.5,319.0 L1519.5,319.0 L1520.5,319.0 L1521.5,319.0 L1522.5,319.0 L1523.5,319.0 L1524.5,319.1 L1525.5,319.1 L1526.5,319.1" stroke="#008000" stroke-width="3.0"/>
</g>
<rect x="1102.50" y="16.55" width="424.00" height="338.85" fill="none" stroke="#000" stroke-width="2.9"/>
<line x1="1149.61" y1="355.40" x2="1149.61" y2="361.80" stroke="#000" stroke-width="2.9"/>
<text transform="translate(1149.61,387.00) scale(1.000,1.040)" font-size="28.00" text-anchor="middle">534</text>
<line x1="1243.83" y1="355.40" x2="1243.83" y2="361.80" stroke="#000" stroke-width="2.9"/>
<text transform="translate(1243.83,387.00) scale(1.000,1.040)" font-size="28.00" text-anchor="middle">532</text>
<line x1="1338.06" y1="355.40" x2="1338.06" y2="361.80" stroke="#000" stroke-width="2.9"/>
<text transform="translate(1338.06,387.00) scale(1.000,1.040)" font-size="28.00" text-anchor="middle">530</text>
<line x1="1432.28" y1="355.40" x2="1432.28" y2="361.80" stroke="#000" stroke-width="2.9"/>
<text transform="translate(1432.28,387.00) scale(1.000,1.040)" font-size="28.00" text-anchor="middle">528</text>
<line x1="1526.50" y1="355.40" x2="1526.50" y2="361.80" stroke="#000" stroke-width="2.9"/>
<text transform="translate(1526.50,387.00) scale(1.000,1.040)" font-size="28.00" text-anchor="middle">526</text>
<text transform="translate(1313.10,416.90) scale(1.000,1.040)" font-size="33.30" text-anchor="middle">Binding Energy (eV)</text>
<text transform="translate(1080.60,202.28) rotate(-90) scale(1.000,1.040)" font-size="32.30" text-anchor="middle" word-spacing="5.5">Intensity (a.u.)</text>
<text transform="translate(1069.80,60.85) scale(1.000,1.000)" font-size="45.90" text-anchor="middle">(c)</text>
<text transform="translate(1106.10,45.75) scale(1.000,1.040)" font-size="27.30">3YSZ</text>
<text transform="translate(1257.00,52.00) scale(1.000,1.040)" font-size="27.30">O<tspan font-size="18.2" dy="-10.3">2−</tspan></text>
<text transform="translate(1150.00,162.20) scale(1.000,1.040)" font-size="27.30">O Vacancy</text>
<text transform="translate(1146.00,241.80) scale(1.000,1.040)" font-size="27.30">O<tspan font-size="18.2" dy="6.6">2</tspan></text>
<line x1="1295.00" y1="55.00" x2="1329.34" y2="71.56" stroke="#000" stroke-width="2.7"/>
<polygon points="1347.35,80.25 1325.23,75.47 1329.84,65.92" fill="#000"/>
<line x1="1221.00" y1="181.00" x2="1263.29" y2="273.18" stroke="#000" stroke-width="2.7"/>
<polygon points="1271.63,291.36 1257.64,273.58 1267.27,269.16" fill="#000"/>
<line x1="1182.00" y1="257.00" x2="1218.39" y2="290.47" stroke="#000" stroke-width="2.7"/>
<polygon points="1233.10,304.02 1213.33,293.02 1220.50,285.22" fill="#000"/>
</g>
<g>
<clipPath id="clip_d"><rect x="85.60" y="456.60" width="423.90" height="339.80"/></clipPath>
<g clip-path="url(#clip_d)" fill="none" stroke-linejoin="round" stroke-linecap="butt">
<path d="M85.6,744.9 L86.6,744.9 L87.6,744.9 L88.6,744.9 L89.6,744.9 L90.6,744.9 L91.6,744.9 L92.6,744.9 L93.6,745.0 L94.6,745.0 L95.6,745.0 L96.6,745.0 L97.6,745.0 L98.6,745.0 L99.6,745.0 L100.6,745.0 L101.6,745.0 L102.6,745.0 L103.6,745.0 L104.6,745.0 L105.6,745.0 L106.6,744.9 L107.6,744.9 L108.6,744.9 L109.6,744.9 L110.6,744.9 L111.6,744.9 L112.6,744.8 L113.6,744.8 L114.6,744.8 L115.6,744.8 L116.6,744.8 L117.6,744.8 L118.6,744.7 L119.6,744.7 L120.6,744.7 L121.6,744.7 L122.6,744.7 L123.6,744.7 L124.6,744.7 L125.6,744.7 L126.6,744.7 L127.6,744.7 L128.6,744.7 L129.6,744.7 L130.6,744.7 L131.6,744.7 L132.6,744.7 L133.6,744.7 L134.6,744.7 L135.6,744.6 L136.6,744.6 L137.6,744.5 L138.6,744.4 L139.6,744.4 L140.6,744.3 L141.6,744.2 L142.6,744.0 L143.6,743.9 L144.6,743.7 L145.6,743.5 L146.6,743.3 L147.6,743.1 L148.6,742.8 L149.6,742.5 L150.6,742.1 L151.6,741.7 L152.6,741.3 L153.6,740.8 L154.6,740.3 L155.6,739.7 L156.6,739.1 L157.6,738.4 L158.6,737.7 L159.6,736.9 L160.6,736.0 L161.6,735.1 L162.6,734.1 L163.6,733.0 L164.6,731.9 L165.6,730.7 L166.6,729.5 L167.6,728.2 L168.6,726.8 L169.6,725.4 L170.6,723.9 L171.6,722.4 L172.6,720.8 L173.6,719.2 L174.6,717.6 L175.6,715.8 L176.6,714.1 L177.6,712.3 L178.6,710.4 L179.6,708.6 L180.6,706.6 L181.6,704.6 L182.6,702.6 L183.6,700.5 L184.6,698.4 L185.6,696.2 L186.6,693.9 L187.6,691.6 L188.6,689.3 L189.6,686.8 L190.6,684.4 L191.6,681.8 L192.6,679.2 L193.6,676.5 L194.6,673.8 L195.6,670.9 L196.6,668.1 L197.6,665.1 L198.6,662.1 L199.6,659.0 L200.6,655.9 L201.6,652.7 L202.6,649.4 L203.6,646.1 L204.6,642.8 L205.6,639.4 L206.6,636.0 L207.6,632.6 L208.6,629.2 L209.6,625.8 L210.6,622.4 L211.6,619.1 L212.6,615.7 L213.6,612.5 L214.6,609.2 L215.6,606.1 L216.6,603.0 L217.6,600.0 L218.6,597.1 L219.6,594.4 L220.6,591.7 L221.6,589.2 L222.6,586.7 L223.6,584.5 L224.6,582.4 L225.6,580.4 L226.6,578.7 L227.6,577.0 L228.6,575.6 L229.6,574.3 L230.6,573.2 L231.6,572.3 L232.6,571.5 L233.6,571.0 L234.6,570.6 L235.6,570.3 L236.6,570.3 L237.6,570.4 L238.6,570.6 L239.6,571.1 L240.6,571.7 L241.6,572.5 L242.6,573.5 L243.6,574.6 L244.6,575.8 L245.6,577.2 L246.6,578.8 L247.6,580.4 L248.6,582.2 L249.6,584.0 L250.6,586.0 L251.6,588.1 L252.6,590.2 L253.6,592.4 L254.6,594.8 L255.6,597.1 L256.6,599.6 L257.6,602.1 L258.6,604.6 L259.6,607.2 L260.6,609.9 L261.6,612.5 L262.6,615.2 L263.6,617.9 L264.6,620.6 L265.6,623.4 L266.6,626.1 L267.6,628.8 L268.6,631.5 L269.6,634.2 L270.6,636.8 L271.6,639.4 L272.6,641.9 L273.6,644.4 L274.6,646.8 L275.6,649.1 L276.6,651.3 L277.6,653.5 L278.6,655.5 L279.6,657.4 L280.6,659.2 L281.6,660.8 L282.6,662.3 L283.6,663.7 L284.6,664.9 L285.6,665.9 L286.6,666.8 L287.6,667.5 L288.6,668.0 L289.6,668.3 L290.6,668.5 L291.6,668.4 L292.6,668.2 L293.6,667.7 L294.6,667.1 L295.6,666.2 L296.6,665.2 L297.6,663.9 L298.6,662.4 L299.6,660.7 L300.6,658.9 L301.6,656.8 L302.6,654.5 L303.6,652.0 L304.6,649.3 L305.6,646.4 L306.6,643.3 L307.6,640.0 L308.6,636.6 L309.6,632.9 L310.6,629.2 L311.6,625.2 L312.6,621.1 L313.6,616.9 L314.6,612.5 L315.6,608.1 L316.6,603.5 L317.6,598.8 L318.6,594.0 L319.6,589.2 L320.6,584.3 L321.6,579.3 L322.6,574.4 L323.6,569.4 L324.6,564.4 L325.6,559.5 L326.6,554.5 L327.6,549.7 L328.6,544.9 L329.6,540.2 L330.6,535.5 L331.6,531.1 L332.6,526.7 L333.6,522.5 L334.6,518.5 L335.6,514.7 L336.6,511.0 L337.6,507.6 L338.6,504.4 L339.6,501.5 L340.6,498.8 L341.6,496.4 L342.6,494.3 L343.6,492.5 L344.6,490.9 L345.6,489.7 L346.6,488.8 L347.6,488.2 L348.6,487.9 L349.6,487.9 L350.6,488.3 L351.6,489.0 L352.6,490.1 L353.6,491.5 L354.6,493.2 L355.6,495.2 L356.6,497.6 L357.6,500.2 L358.6,503.2 L359.6,506.4 L360.6,509.9 L361.6,513.6 L362.6,517.6 L363.6,521.8 L364.6,526.1 L365.6,530.7 L366.6,535.4 L367.6,540.3 L368.6,545.3 L369.6,550.4 L370.6,555.6 L371.6,560.9 L372.6,566.3 L373.6,571.7 L374.6,577.2 L375.6,582.7 L376.6,588.2 L377.6,593.7 L378.6,599.2 L379.6,604.7 L380.6,610.2 L381.6,615.7 L382.6,621.1 L383.6,626.4 L384.6,631.7 L385.6,636.9 L386.6,642.1 L387.6,647.1 L388.6,652.1 L389.6,656.9 L390.6,661.6 L391.6,666.2 L392.6,670.6 L393.6,674.9 L394.6,679.0 L395.6,683.0 L396.6,686.8 L397.6,690.5 L398.6,694.0 L399.6,697.4 L400.6,700.6 L401.6,703.7 L402.6,706.6 L403.6,709.4 L404.6,712.0 L405.6,714.6 L406.6,716.9 L407.6,719.2 L408.6,721.3 L409.6,723.4 L410.6,725.3 L411.6,727.1 L412.6,728.8 L413.6,730.5 L414.6,732.0 L415.6,733.4 L416.6,734.8 L417.6,736.1 L418.6,737.3 L419.6,738.4 L420.6,739.4 L421.6,740.4 L422.6,741.4 L423.6,742.2 L424.6,743.0 L425.6,743.8 L426.6,744.5 L427.6,745.2 L428.6,745.8 L429.6,746.3 L430.6,746.9 L431.6,747.4 L432.6,747.8 L433.6,748.3 L434.6,748.7 L435.6,749.0 L436.6,749.4 L437.6,749.7 L438.6,750.0 L439.6,750.3 L440.6,750.5 L441.6,750.8 L442.6,751.0 L443.6,751.2 L444.6,751.4 L445.6,751.6 L446.6,751.8 L447.6,751.9 L448.6,752.1 L449.6,752.2 L450.6,752.4 L451.6,752.5 L452.6,752.6 L453.6,752.7 L454.6,752.8 L455.6,752.9 L456.6,753.0 L457.6,753.1 L458.6,753.2 L459.6,753.3 L460.6,753.4 L461.6,753.4 L462.6,753.5 L463.6,753.6 L464.6,753.7 L465.6,753.7 L466.6,753.8 L467.6,753.9 L468.6,753.9 L469.6,754.0 L470.6,754.1 L471.6,754.1 L472.6,754.2 L473.6,754.2 L474.6,754.3 L475.6,754.3 L476.6,754.4 L477.6,754.4 L478.6,754.5 L479.6,754.5 L480.6,754.6 L481.6,754.6 L482.6,754.7 L483.6,754.7 L484.6,754.8 L485.6,754.8 L486.6,754.9 L487.6,754.9 L488.6,754.9 L489.6,755.0 L490.6,755.0 L491.6,755.1 L492.6,755.1 L493.6,755.1 L494.6,755.2 L495.6,755.2 L496.6,755.2 L497.6,755.2 L498.6,755.3 L499.6,755.3 L500.6,755.3 L501.6,755.3 L502.6,755.3 L503.6,755.4 L504.6,755.4 L505.6,755.4 L506.6,755.4 L507.6,755.4 L508.6,755.4" stroke="#000" stroke-width="2.7"/>
<path d="M85.6,745.9 L86.6,745.9 L87.6,745.9 L88.6,745.9 L89.6,745.9 L90.6,745.9 L91.6,745.8 L92.6,745.8 L93.6,745.8 L94.6,745.8 L95.6,745.8 L96.6,745.8 L97.6,745.8 L98.6,745.8 L99.6,745.8 L100.6,745.8 L101.6,745.8 L102.6,745.8 L103.6,745.8 L104.6,745.8 L105.6,745.8 L106.6,745.8 L107.6,745.8 L108.6,745.8 L109.6,745.7 L110.6,745.7 L111.6,745.7 L112.6,745.7 L113.6,745.7 L114.6,745.7 L115.6,745.7 L116.6,745.7 L117.6,745.6 L118.6,745.6 L119.6,745.6 L120.6,745.6 L121.6,745.6 L122.6,745.6 L123.6,745.6 L124.6,745.6 L125.6,745.6 L126.6,745.6 L127.6,745.6 L128.6,745.5 L129.6,745.5 L130.6,745.5 L131.6,745.5 L132.6,745.5 L133.6,745.4 L134.6,745.4 L135.6,745.3 L136.6,745.3 L137.6,745.2 L138.6,745.1 L139.6,745.0 L140.6,744.8 L141.6,744.7 L142.6,744.5 L143.6,744.3 L144.6,744.1 L145.6,743.9 L146.6,743.6 L147.6,743.4 L148.6,743.0 L149.6,742.7 L150.6,742.3 L151.6,741.9 L152.6,741.5 L153.6,741.0 L154.6,740.5 L155.6,739.9 L156.6,739.3 L157.6,738.7 L158.6,738.0 L159.6,737.2 L160.6,736.5 L161.6,735.6 L162.6,734.7 L163.6,733.8 L164.6,732.8 L165.6,731.7 L166.6,730.6 L167.6,729.4 L168.6,728.2 L169.6,726.9 L170.6,725.6 L171.6,724.2 L172.6,722.8 L173.6,721.3 L174.6,719.7 L175.6,718.1 L176.6,716.5 L177.6,714.8 L178.6,713.0 L179.6,711.2 L180.6,709.3 L181.6,707.4 L182.6,705.4 L183.6,703.3 L184.6,701.2 L185.6,699.0 L186.6,696.7 L187.6,694.3 L188.6,691.9 L189.6,689.4 L190.6,686.9 L191.6,684.3 L192.6,681.6 L193.6,678.9 L194.6,676.2 L195.6,673.4 L196.6,670.6 L197.6,667.7 L198.6,664.9 L199.6,661.9 L200.6,659.0 L201.6,656.0 L202.6,653.0 L203.6,649.9 L204.6,646.8 L205.6,643.7 L206.6,640.5 L207.6,637.2 L208.6,634.0 L209.6,630.6 L210.6,627.3 L211.6,623.9 L212.6,620.4 L213.6,617.0 L214.6,613.6 L215.6,610.2 L216.6,606.9 L217.6,603.7 L218.6,600.6 L219.6,597.6 L220.6,594.7 L221.6,592.1 L222.6,589.6 L223.6,587.3 L224.6,585.2 L225.6,583.3 L226.6,581.5 L227.6,580.0 L228.6,578.6 L229.6,577.3 L230.6,576.3 L231.6,575.3 L232.6,574.5 L233.6,573.9 L234.6,573.4 L235.6,573.0 L236.6,572.8 L237.6,572.8 L238.6,572.8 L239.6,573.1 L240.6,573.6 L241.6,574.2 L242.6,575.0 L243.6,576.0 L244.6,577.2 L245.6,578.5 L246.6,580.0 L247.6,581.7 L248.6,583.5 L249.6,585.5 L250.6,587.6 L251.6,589.9 L252.6,592.3 L253.6,594.8 L254.6,597.4 L255.6,600.1 L256.6,602.9 L257.6,605.9 L258.6,608.8 L259.6,611.9 L260.6,615.1 L261.6,618.3 L262.6,621.5 L263.6,624.8 L264.6,628.1 L265.6,631.5 L266.6,634.9 L267.6,638.3 L268.6,641.7 L269.6,645.1 L270.6,648.5 L271.6,651.9 L272.6,655.3 L273.6,658.6 L274.6,661.9 L275.6,665.2 L276.6,668.4 L277.6,671.5 L278.6,674.6 L279.6,677.7 L280.6,680.7 L281.6,683.6 L282.6,686.4 L283.6,689.2 L284.6,691.9 L285.6,694.6 L286.6,697.2 L287.6,699.7 L288.6,702.1 L289.6,704.4 L290.6,706.7 L291.6,708.9 L292.6,711.1 L293.6,713.1 L294.6,715.1 L295.6,717.0 L296.6,718.8 L297.6,720.6 L298.6,722.3 L299.6,723.9 L300.6,725.5 L301.6,727.0 L302.6,728.4 L303.6,729.8 L304.6,731.1 L305.6,732.3 L306.6,733.5 L307.6,734.6 L308.6,735.7 L309.6,736.7 L310.6,737.7 L311.6,738.6 L312.6,739.5 L313.6,740.3 L314.6,741.1 L315.6,741.9 L316.6,742.6 L317.6,743.2 L318.6,743.9 L319.6,744.5 L320.6,745.0 L321.6,745.5 L322.6,746.0 L323.6,746.5 L324.6,746.9 L325.6,747.4 L326.6,747.7 L327.6,748.1 L328.6,748.5 L329.6,748.8 L330.6,749.1 L331.6,749.4 L332.6,749.6 L333.6,749.9 L334.6,750.1 L335.6,750.4 L336.6,750.6 L337.6,750.8 L338.6,751.0 L339.6,751.1 L340.6,751.3 L341.6,751.5 L342.6,751.6 L343.6,751.8 L344.6,751.9 L345.6,752.0 L346.6,752.2 L347.6,752.3 L348.6,752.4 L349.6,752.5 L350.6,752.6 L351.6,752.7 L352.6,752.8 L353.6,752.9 L354.6,753.0 L355.6,753.0 L356.6,753.1 L357.6,753.2 L358.6,753.3 L359.6,753.3 L360.6,753.4 L361.6,753.5 L362.6,753.5 L363.6,753.6 L364.6,753.7 L365.6,753.7 L366.6,753.8 L367.6,753.8 L368.6,753.9 L369.6,753.9 L370.6,754.0 L371.6,754.1 L372.6,754.1 L373.6,754.2 L374.6,754.2 L375.6,754.3 L376.6,754.3 L377.6,754.4 L378.6,754.4 L379.6,754.5 L380.6,754.5 L381.6,754.6 L382.6,754.7 L383.6,754.7 L384.6,754.8 L385.6,754.8 L386.6,754.9 L387.6,754.9 L388.6,755.0 L389.6,755.0 L390.6,755.1 L391.6,755.1 L392.6,755.1 L393.6,755.2 L394.6,755.2 L395.6,755.3 L396.6,755.3 L397.6,755.4 L398.6,755.4 L399.6,755.5 L400.6,755.5 L401.6,755.5 L402.6,755.6 L403.6,755.6 L404.6,755.7 L405.6,755.7 L406.6,755.7 L407.6,755.8 L408.6,755.8 L409.6,755.8 L410.6,755.9 L411.6,755.9 L412.6,755.9 L413.6,756.0 L414.6,756.0 L415.6,756.0 L416.6,756.1 L417.6,756.1 L418.6,756.1 L419.6,756.2 L420.6,756.2 L421.6,756.2 L422.6,756.3 L423.6,756.3 L424.6,756.3 L425.6,756.4 L426.6,756.4 L427.6,756.4 L428.6,756.4 L429.6,756.5 L430.6,756.5 L431.6,756.5 L432.6,756.6 L433.6,756.6 L434.6,756.6 L435.6,756.6 L436.6,756.7 L437.6,756.7 L438.6,756.7 L439.6,756.7 L440.6,756.8 L441.6,756.8 L442.6,756.8 L443.6,756.8 L444.6,756.9 L445.6,756.9 L446.6,756.9 L447.6,756.9 L448.6,757.0 L449.6,757.0 L450.6,757.0 L451.6,757.0 L452.6,757.0 L453.6,757.1 L454.6,757.1 L455.6,757.1 L456.6,757.1 L457.6,757.1 L458.6,757.2 L459.6,757.2 L460.6,757.2 L461.6,757.2 L462.6,757.2 L463.6,757.2 L464.6,757.3 L465.6,757.3 L466.6,757.3 L467.6,757.3 L468.6,757.3 L469.6,757.3 L470.6,757.3 L471.6,757.4 L472.6,757.4 L473.6,757.4 L474.6,757.4 L475.6,757.4 L476.6,757.4 L477.6,757.4 L478.6,757.4 L479.6,757.4 L480.6,757.4 L481.6,757.4 L482.6,757.4 L483.6,757.4 L484.6,757.5 L485.6,757.5 L486.6,757.5 L487.6,757.5 L488.6,757.5 L489.6,757.5 L490.6,757.5 L491.6,757.5 L492.6,757.5 L493.6,757.5 L494.6,757.5 L495.6,757.5 L496.6,757.5 L497.6,757.5 L498.6,757.5 L499.6,757.5 L500.6,757.5 L501.6,757.5 L502.6,757.5 L503.6,757.5 L504.6,757.5 L505.6,757.5 L506.6,757.5 L507.6,757.5 L508.6,757.5" stroke="#ff0000" stroke-width="3.0"/>
<path d="M85.6,747.2 L86.6,747.2 L87.6,747.2 L88.6,747.2 L89.6,747.2 L90.6,747.2 L91.6,747.2 L92.6,747.2 L93.6,747.2 L94.6,747.2 L95.6,747.2 L96.6,747.2 L97.6,747.2 L98.6,747.2 L99.6,747.2 L100.6,747.2 L101.6,747.2 L102.6,747.2 L103.6,747.2 L104.6,747.2 L105.6,747.2 L106.6,747.2 L107.6,747.2 L108.6,747.2 L109.6,747.2 L110.6,747.2 L111.6,747.2 L112.6,747.2 L113.6,747.2 L114.6,747.2 L115.6,747.2 L116.6,747.2 L117.6,747.2 L118.6,747.2 L119.6,747.2 L120.6,747.2 L121.6,747.2 L122.6,747.2 L123.6,747.2 L124.6,747.2 L125.6,747.2 L126.6,747.2 L127.6,747.2 L128.6,747.2 L129.6,747.2 L130.6,747.2 L131.6,747.2 L132.6,747.3 L133.6,747.3 L134.6,747.3 L135.6,747.3 L136.6,747.3 L137.6,747.3 L138.6,747.3 L139.6,747.3 L140.6,747.3 L141.6,747.3 L142.6,747.3 L143.6,747.3 L144.6,747.3 L145.6,747.3 L146.6,747.3 L147.6,747.3 L148.6,747.3 L149.6,747.3 L150.6,747.3 L151.6,747.3 L152.6,747.3 L153.6,747.3 L154.6,747.3 L155.6,747.3 L156.6,747.3 L157.6,747.3 L158.6,747.3 L159.6,747.3 L160.6,747.3 L161.6,747.3 L162.6,747.3 L163.6,747.3 L164.6,747.3 L165.6,747.3 L166.6,747.3 L167.6,747.3 L168.6,747.3 L169.6,747.3 L170.6,747.3 L171.6,747.3 L172.6,747.3 L173.6,747.3 L174.6,747.4 L175.6,747.4 L176.6,747.4 L177.6,747.4 L178.6,747.4 L179.6,747.4 L180.6,747.4 L181.6,747.4 L182.6,747.4 L183.6,747.4 L184.6,747.4 L185.6,747.4 L186.6,747.4 L187.6,747.4 L188.6,747.4 L189.6,747.4 L190.6,747.4 L191.6,747.4 L192.6,747.4 L193.6,747.5 L194.6,747.5 L195.6,747.5 L196.6,747.5 L197.6,747.5 L198.6,747.5 L199.6,747.5 L200.6,747.5 L201.6,747.5 L202.6,747.5 L203.6,747.5 L204.6,747.5 L205.6,747.6 L206.6,747.6 L207.6,747.6 L208.6,747.6 L209.6,747.6 L210.6,747.6 L211.6,747.6 L212.6,747.6 L213.6,747.6 L214.6,747.6 L215.6,747.6 L216.6,747.6 L217.6,747.6 L218.6,747.6 L219.6,747.6 L220.6,747.6 L221.6,747.6 L222.6,747.6 L223.6,747.6 L224.6,747.6 L225.6,747.6 L226.6,747.6 L227.6,747.6 L228.6,747.6 L229.6,747.6 L230.6,747.6 L231.6,747.6 L232.6,747.5 L233.6,747.5 L234.6,747.5 L235.6,747.5 L236.6,747.5 L237.6,747.5 L238.6,747.4 L239.6,747.4 L240.6,747.4 L241.6,747.3 L242.6,747.3 L243.6,747.2 L244.6,747.2 L245.6,747.1 L246.6,747.1 L247.6,747.0 L248.6,747.0 L249.6,746.9 L250.6,746.8 L251.6,746.7 L252.6,746.6 L253.6,746.5 L254.6,746.4 L255.6,746.2 L256.6,746.1 L257.6,745.9 L258.6,745.7 L259.6,745.5 L260.6,745.3 L261.6,745.0 L262.6,744.7 L263.6,744.4 L264.6,744.1 L265.6,743.7 L266.6,743.3 L267.6,742.8 L268.6,742.3 L269.6,741.8 L270.6,741.2 L271.6,740.6 L272.6,739.9 L273.6,739.2 L274.6,738.4 L275.6,737.6 L276.6,736.7 L277.6,735.7 L278.6,734.7 L279.6,733.6 L280.6,732.5 L281.6,731.2 L282.6,729.9 L283.6,728.5 L284.6,727.0 L285.6,725.4 L286.6,723.7 L287.6,721.9 L288.6,720.0 L289.6,717.9 L290.6,715.7 L291.6,713.4 L292.6,710.9 L293.6,708.3 L294.6,705.5 L295.6,702.6 L296.6,699.5 L297.6,696.3 L298.6,692.9 L299.6,689.4 L300.6,685.8 L301.6,682.0 L302.6,678.0 L303.6,674.0 L304.6,669.8 L305.6,665.5 L306.6,661.1 L307.6,656.5 L308.6,651.9 L309.6,647.2 L310.6,642.4 L311.6,637.5 L312.6,632.6 L313.6,627.6 L314.6,622.5 L315.6,617.4 L316.6,612.2 L317.6,607.0 L318.6,601.7 L319.6,596.4 L320.6,591.1 L321.6,585.8 L322.6,580.5 L323.6,575.2 L324.6,569.9 L325.6,564.7 L326.6,559.5 L327.6,554.3 L328.6,549.3 L329.6,544.3 L330.6,539.5 L331.6,534.8 L332.6,530.3 L333.6,525.9 L334.6,521.7 L335.6,517.7 L336.6,513.9 L337.6,510.4 L338.6,507.1 L339.6,504.1 L340.6,501.3 L341.6,498.8 L342.6,496.6 L343.6,494.7 L344.6,493.1 L345.6,491.9 L346.6,490.9 L347.6,490.3 L348.6,490.0 L349.6,490.0 L350.6,490.3 L351.6,491.0 L352.6,492.0 L353.6,493.4 L354.6,495.1 L355.6,497.1 L356.6,499.5 L357.6,502.1 L358.6,505.1 L359.6,508.3 L360.6,511.8 L361.6,515.5 L362.6,519.5 L363.6,523.6 L364.6,528.0 L365.6,532.6 L366.6,537.3 L367.6,542.2 L368.6,547.2 L369.6,552.3 L370.6,557.4 L371.6,562.7 L372.6,568.0 L373.6,573.4 L374.6,578.7 L375.6,584.1 L376.6,589.5 L377.6,594.8 L378.6,600.2 L379.6,605.5 L380.6,610.9 L381.6,616.1 L382.6,621.4 L383.6,626.6 L384.6,631.9 L385.6,637.0 L386.6,642.1 L387.6,647.2 L388.6,652.2 L389.6,657.1 L390.6,661.8 L391.6,666.5 L392.6,671.0 L393.6,675.4 L394.6,679.6 L395.6,683.7 L396.6,687.6 L397.6,691.3 L398.6,694.9 L399.6,698.3 L400.6,701.5 L401.6,704.6 L402.6,707.5 L403.6,710.3 L404.6,713.0 L405.6,715.5 L406.6,717.9 L407.6,720.2 L408.6,722.3 L409.6,724.4 L410.6,726.3 L411.6,728.1 L412.6,729.8 L413.6,731.4 L414.6,733.0 L415.6,734.4 L416.6,735.7 L417.6,737.0 L418.6,738.2 L419.6,739.3 L420.6,740.4 L421.6,741.4 L422.6,742.3 L423.6,743.1 L424.6,744.0 L425.6,744.7 L426.6,745.4 L427.6,746.1 L428.6,746.7 L429.6,747.2 L430.6,747.8 L431.6,748.3 L432.6,748.7 L433.6,749.2 L434.6,749.5 L435.6,749.9 L436.6,750.3 L437.6,750.6 L438.6,750.9 L439.6,751.1 L440.6,751.4 L441.6,751.6 L442.6,751.8 L443.6,752.1 L444.6,752.2 L445.6,752.4 L446.6,752.6 L447.6,752.8 L448.6,752.9 L449.6,753.0 L450.6,753.2 L451.6,753.3 L452.6,753.4 L453.6,753.5 L454.6,753.6 L455.6,753.7 L456.6,753.8 L457.6,753.9 L458.6,754.0 L459.6,754.1 L460.6,754.2 L461.6,754.3 L462.6,754.3 L463.6,754.4 L464.6,754.5 L465.6,754.5 L466.6,754.6 L467.6,754.7 L468.6,754.7 L469.6,754.8 L470.6,754.8 L471.6,754.9 L472.6,754.9 L473.6,755.0 L474.6,755.0 L475.6,755.1 L476.6,755.1 L477.6,755.2 L478.6,755.2 L479.6,755.2 L480.6,755.3 L481.6,755.3 L482.6,755.4 L483.6,755.4 L484.6,755.4 L485.6,755.5 L486.6,755.5 L487.6,755.5 L488.6,755.5 L489.6,755.6 L490.6,755.6 L491.6,755.6 L492.6,755.7 L493.6,755.7 L494.6,755.7 L495.6,755.7 L496.6,755.8 L497.6,755.8 L498.6,755.8 L499.6,755.8 L500.6,755.8 L501.6,755.9 L502.6,755.9 L503.6,755.9 L504.6,755.9 L505.6,756.0 L506.6,756.0 L507.6,756.0 L508.6,756.0" stroke="#0000ff" stroke-width="3.0"/>
</g>
<rect x="85.60" y="456.60" width="423.90" height="339.80" fill="none" stroke="#000" stroke-width="2.9"/>
<line x1="85.60" y1="796.40" x2="85.60" y2="802.80" stroke="#000" stroke-width="2.9"/>
<text transform="translate(85.60,828.00) scale(1.000,1.040)" font-size="28.00" text-anchor="middle">188</text>
<line x1="179.80" y1="796.40" x2="179.80" y2="802.80" stroke="#000" stroke-width="2.9"/>
<text transform="translate(179.80,828.00) scale(1.000,1.040)" font-size="28.00" text-anchor="middle">186</text>
<line x1="274.00" y1="796.40" x2="274.00" y2="802.80" stroke="#000" stroke-width="2.9"/>
<text transform="translate(274.00,828.00) scale(1.000,1.040)" font-size="28.00" text-anchor="middle">184</text>
<line x1="368.20" y1="796.40" x2="368.20" y2="802.80" stroke="#000" stroke-width="2.9"/>
<text transform="translate(368.20,828.00) scale(1.000,1.040)" font-size="28.00" text-anchor="middle">182</text>
<line x1="462.40" y1="796.40" x2="462.40" y2="802.80" stroke="#000" stroke-width="2.9"/>
<text transform="translate(462.40,828.00) scale(1.000,1.040)" font-size="28.00" text-anchor="middle">180</text>
<text transform="translate(294.50,858.80) scale(1.000,1.040)" font-size="33.30" text-anchor="middle">Binding Energy (eV)</text>
<text transform="translate(61.70,642.80) rotate(-90) scale(1.000,1.040)" font-size="32.30" text-anchor="middle" word-spacing="5.5">Intensity (a.u.)</text>
<text transform="translate(50.70,501.30) scale(1.000,1.000)" font-size="45.90" text-anchor="middle">(d)</text>
<text transform="translate(88.90,486.00) scale(1.000,1.040)" font-size="27.30">8YSZ</text>
<text transform="translate(127.30,531.80) scale(1.000,1.040)" font-size="27.30">Zr 3d<tspan font-size="18.2" dy="6.6">3/2</tspan></text>
<text transform="translate(220.00,488.00) scale(1.000,1.040)" font-size="27.30">Zr 3d<tspan font-size="18.2" dy="6.6">5/2</tspan></text>
<line x1="184.80" y1="551.00" x2="235.26" y2="591.43" stroke="#000" stroke-width="2.7"/>
<polygon points="250.87,603.94 230.39,594.32 237.02,586.05" fill="#000"/>
<line x1="302.10" y1="505.00" x2="337.33" y2="521.97" stroke="#000" stroke-width="2.7"/>
<polygon points="355.35,530.65 333.23,525.88 337.83,516.33" fill="#000"/>
</g>
<g>
<clipPath id="clip_e"><rect x="594.50" y="457.30" width="422.90" height="338.20"/></clipPath>
<g clip-path="url(#clip_e)" fill="none" stroke-linejoin="round" stroke-linecap="butt">
<path d="M594.5,758.2 L595.5,758.2 L596.5,758.2 L597.5,758.2 L598.5,758.3 L599.5,758.3 L600.5,758.3 L601.5,758.3 L602.5,758.3 L603.5,758.3 L604.5,758.3 L605.5,758.4 L606.5,758.4 L607.5,758.4 L608.5,758.4 L609.5,758.4 L610.5,758.4 L611.5,758.4 L612.5,758.4 L613.5,758.4 L614.5,758.5 L615.5,758.5 L616.5,758.5 L617.5,758.4 L618.5,758.4 L619.5,758.4 L620.5,758.4 L621.5,758.4 L622.5,758.4 L623.5,758.3 L624.5,758.3 L625.5,758.3 L626.5,758.2 L627.5,758.2 L628.5,758.1 L629.5,758.0 L630.5,757.9 L631.5,757.8 L632.5,757.7 L633.5,757.6 L634.5,757.5 L635.5,757.4 L636.5,757.2 L637.5,757.1 L638.5,756.9 L639.5,756.7 L640.5,756.5 L641.5,756.3 L642.5,756.1 L643.5,755.8 L644.5,755.6 L645.5,755.3 L646.5,755.0 L647.5,754.7 L648.5,754.4 L649.5,754.1 L650.5,753.8 L651.5,753.4 L652.5,753.1 L653.5,752.7 L654.5,752.3 L655.5,751.8 L656.5,751.4 L657.5,750.9 L658.5,750.4 L659.5,749.9 L660.5,749.4 L661.5,748.9 L662.5,748.3 L663.5,747.7 L664.5,747.1 L665.5,746.4 L666.5,745.7 L667.5,745.0 L668.5,744.3 L669.5,743.5 L670.5,742.7 L671.5,741.9 L672.5,741.1 L673.5,740.2 L674.5,739.2 L675.5,738.3 L676.5,737.3 L677.5,736.3 L678.5,735.2 L679.5,734.1 L680.5,732.9 L681.5,731.7 L682.5,730.5 L683.5,729.2 L684.5,727.9 L685.5,726.5 L686.5,725.1 L687.5,723.6 L688.5,722.1 L689.5,720.6 L690.5,719.0 L691.5,717.3 L692.5,715.6 L693.5,713.9 L694.5,712.1 L695.5,710.3 L696.5,708.4 L697.5,706.5 L698.5,704.6 L699.5,702.6 L700.5,700.5 L701.5,698.4 L702.5,696.3 L703.5,694.1 L704.5,691.9 L705.5,689.6 L706.5,687.3 L707.5,685.0 L708.5,682.6 L709.5,680.2 L710.5,677.8 L711.5,675.3 L712.5,672.8 L713.5,670.3 L714.5,667.7 L715.5,665.1 L716.5,662.5 L717.5,659.8 L718.5,657.1 L719.5,654.4 L720.5,651.7 L721.5,648.9 L722.5,646.1 L723.5,643.3 L724.5,640.4 L725.5,637.5 L726.5,634.6 L727.5,631.7 L728.5,628.7 L729.5,625.7 L730.5,622.7 L731.5,619.7 L732.5,616.7 L733.5,613.6 L734.5,610.6 L735.5,607.5 L736.5,604.5 L737.5,601.5 L738.5,598.5 L739.5,595.6 L740.5,592.7 L741.5,589.8 L742.5,587.0 L743.5,584.3 L744.5,581.7 L745.5,579.1 L746.5,576.6 L747.5,574.3 L748.5,572.0 L749.5,569.8 L750.5,567.7 L751.5,565.8 L752.5,563.9 L753.5,562.2 L754.5,560.6 L755.5,559.2 L756.5,557.8 L757.5,556.6 L758.5,555.5 L759.5,554.5 L760.5,553.6 L761.5,552.8 L762.5,552.2 L763.5,551.6 L764.5,551.2 L765.5,550.8 L766.5,550.6 L767.5,550.4 L768.5,550.4 L769.5,550.5 L770.5,550.6 L771.5,550.9 L772.5,551.3 L773.5,551.7 L774.5,552.3 L775.5,552.9 L776.5,553.5 L777.5,554.3 L778.5,555.1 L779.5,556.0 L780.5,556.9 L781.5,557.9 L782.5,558.9 L783.5,560.0 L784.5,561.1 L785.5,562.2 L786.5,563.3 L787.5,564.5 L788.5,565.6 L789.5,566.8 L790.5,567.9 L791.5,569.0 L792.5,570.1 L793.5,571.2 L794.5,572.2 L795.5,573.1 L796.5,574.1 L797.5,574.9 L798.5,575.7 L799.5,576.5 L800.5,577.1 L801.5,577.7 L802.5,578.1 L803.5,578.5 L804.5,578.8 L805.5,578.9 L806.5,579.0 L807.5,578.9 L808.5,578.7 L809.5,578.4 L810.5,577.9 L811.5,577.4 L812.5,576.6 L813.5,575.8 L814.5,574.8 L815.5,573.6 L816.5,572.4 L817.5,571.0 L818.5,569.4 L819.5,567.7 L820.5,565.9 L821.5,564.0 L822.5,562.0 L823.5,559.8 L824.5,557.5 L825.5,555.2 L826.5,552.7 L827.5,550.2 L828.5,547.5 L829.5,544.8 L830.5,542.0 L831.5,539.2 L832.5,536.3 L833.5,533.4 L834.5,530.5 L835.5,527.6 L836.5,524.7 L837.5,521.8 L838.5,518.9 L839.5,516.0 L840.5,513.2 L841.5,510.5 L842.5,507.8 L843.5,505.2 L844.5,502.7 L845.5,500.3 L846.5,498.1 L847.5,495.9 L848.5,493.9 L849.5,492.1 L850.5,490.4 L851.5,488.9 L852.5,487.6 L853.5,486.4 L854.5,485.5 L855.5,484.7 L856.5,484.2 L857.5,483.9 L858.5,483.8 L859.5,483.9 L860.5,484.3 L861.5,484.8 L862.5,485.6 L863.5,486.6 L864.5,487.9 L865.5,489.4 L866.5,491.1 L867.5,493.0 L868.5,495.1 L869.5,497.5 L870.5,500.1 L871.5,503.0 L872.5,506.0 L873.5,509.2 L874.5,512.7 L875.5,516.4 L876.5,520.2 L877.5,524.3 L878.5,528.6 L879.5,533.1 L880.5,537.7 L881.5,542.5 L882.5,547.5 L883.5,552.6 L884.5,557.8 L885.5,563.2 L886.5,568.6 L887.5,574.2 L888.5,579.7 L889.5,585.4 L890.5,591.0 L891.5,596.6 L892.5,602.3 L893.5,607.9 L894.5,613.4 L895.5,619.0 L896.5,624.4 L897.5,629.8 L898.5,635.0 L899.5,640.2 L900.5,645.3 L901.5,650.2 L902.5,655.1 L903.5,659.8 L904.5,664.3 L905.5,668.8 L906.5,673.1 L907.5,677.3 L908.5,681.3 L909.5,685.2 L910.5,689.0 L911.5,692.6 L912.5,696.1 L913.5,699.5 L914.5,702.8 L915.5,705.9 L916.5,708.9 L917.5,711.8 L918.5,714.5 L919.5,717.2 L920.5,719.7 L921.5,722.1 L922.5,724.4 L923.5,726.6 L924.5,728.7 L925.5,730.7 L926.5,732.6 L927.5,734.4 L928.5,736.1 L929.5,737.7 L930.5,739.3 L931.5,740.7 L932.5,742.1 L933.5,743.4 L934.5,744.7 L935.5,745.8 L936.5,746.9 L937.5,747.9 L938.5,748.9 L939.5,749.8 L940.5,750.7 L941.5,751.5 L942.5,752.2 L943.5,752.9 L944.5,753.5 L945.5,754.1 L946.5,754.7 L947.5,755.2 L948.5,755.7 L949.5,756.1 L950.5,756.5 L951.5,756.9 L952.5,757.3 L953.5,757.6 L954.5,757.9 L955.5,758.1 L956.5,758.4 L957.5,758.6 L958.5,758.8 L959.5,759.0 L960.5,759.2 L961.5,759.3 L962.5,759.5 L963.5,759.6 L964.5,759.7 L965.5,759.8 L966.5,759.9 L967.5,760.0 L968.5,760.1 L969.5,760.2 L970.5,760.3 L971.5,760.3 L972.5,760.4 L973.5,760.5 L974.5,760.5 L975.5,760.6 L976.5,760.6 L977.5,760.7 L978.5,760.7 L979.5,760.8 L980.5,760.8 L981.5,760.9 L982.5,760.9 L983.5,761.0 L984.5,761.0 L985.5,761.1 L986.5,761.1 L987.5,761.2 L988.5,761.2 L989.5,761.2 L990.5,761.3 L991.5,761.3 L992.5,761.3 L993.5,761.4 L994.5,761.4 L995.5,761.4 L996.5,761.5 L997.5,761.5 L998.5,761.5 L999.5,761.6 L1000.5,761.6 L1001.5,761.6 L1002.5,761.6 L1003.5,761.7 L1004.5,761.7 L1005.5,761.7 L1006.5,761.8 L1007.5,761.8 L1008.5,761.8 L1009.5,761.8 L1010.5,761.9 L1011.5,761.9 L1012.5,761.9 L1013.5,761.9 L1014.5,761.9 L1015.5,762.0 L1016.5,762.0" stroke="#000" stroke-width="2.7"/>
<path d="M594.5,758.8 L595.5,758.8 L596.5,758.8 L597.5,758.8 L598.5,758.8 L599.5,758.8 L600.5,758.8 L601.5,758.8 L602.5,758.8 L603.5,758.8 L604.5,758.8 L605.5,758.8 L606.5,758.8 L607.5,758.8 L608.5,758.8 L609.5,758.8 L610.5,758.8 L611.5,758.9 L612.5,758.9 L613.5,758.9 L614.5,758.9 L615.5,758.9 L616.5,758.9 L617.5,759.0 L618.5,759.0 L619.5,759.0 L620.5,759.0 L621.5,759.0 L622.5,759.0 L623.5,759.0 L624.5,758.9 L625.5,758.9 L626.5,758.9 L627.5,758.9 L628.5,758.8 L629.5,758.8 L630.5,758.7 L631.5,758.6 L632.5,758.5 L633.5,758.4 L634.5,758.3 L635.5,758.2 L636.5,758.0 L637.5,757.9 L638.5,757.7 L639.5,757.5 L640.5,757.3 L641.5,757.1 L642.5,756.9 L643.5,756.7 L644.5,756.5 L645.5,756.2 L646.5,755.9 L647.5,755.7 L648.5,755.4 L649.5,755.1 L650.5,754.8 L651.5,754.5 L652.5,754.1 L653.5,753.8 L654.5,753.4 L655.5,753.0 L656.5,752.6 L657.5,752.2 L658.5,751.8 L659.5,751.3 L660.5,750.9 L661.5,750.4 L662.5,749.9 L663.5,749.3 L664.5,748.8 L665.5,748.2 L666.5,747.6 L667.5,747.0 L668.5,746.3 L669.5,745.6 L670.5,744.9 L671.5,744.2 L672.5,743.4 L673.5,742.6 L674.5,741.8 L675.5,740.9 L676.5,739.9 L677.5,738.9 L678.5,737.9 L679.5,736.9 L680.5,735.8 L681.5,734.6 L682.5,733.4 L683.5,732.1 L684.5,730.9 L685.5,729.5 L686.5,728.1 L687.5,726.7 L688.5,725.2 L689.5,723.6 L690.5,722.1 L691.5,720.4 L692.5,718.7 L693.5,717.0 L694.5,715.2 L695.5,713.4 L696.5,711.5 L697.5,709.6 L698.5,707.6 L699.5,705.6 L700.5,703.5 L701.5,701.4 L702.5,699.2 L703.5,697.0 L704.5,694.7 L705.5,692.4 L706.5,690.0 L707.5,687.6 L708.5,685.2 L709.5,682.7 L710.5,680.2 L711.5,677.6 L712.5,675.0 L713.5,672.4 L714.5,669.7 L715.5,667.0 L716.5,664.2 L717.5,661.5 L718.5,658.7 L719.5,655.8 L720.5,653.0 L721.5,650.1 L722.5,647.2 L723.5,644.2 L724.5,641.3 L725.5,638.3 L726.5,635.3 L727.5,632.3 L728.5,629.3 L729.5,626.3 L730.5,623.3 L731.5,620.3 L732.5,617.2 L733.5,614.2 L734.5,611.2 L735.5,608.2 L736.5,605.3 L737.5,602.3 L738.5,599.4 L739.5,596.6 L740.5,593.7 L741.5,591.0 L742.5,588.3 L743.5,585.7 L744.5,583.1 L745.5,580.7 L746.5,578.3 L747.5,576.0 L748.5,573.9 L749.5,571.9 L750.5,569.9 L751.5,568.1 L752.5,566.4 L753.5,564.9 L754.5,563.4 L755.5,562.1 L756.5,560.9 L757.5,559.8 L758.5,558.9 L759.5,558.0 L760.5,557.3 L761.5,556.6 L762.5,556.1 L763.5,555.7 L764.5,555.4 L765.5,555.2 L766.5,555.0 L767.5,555.0 L768.5,555.1 L769.5,555.3 L770.5,555.7 L771.5,556.2 L772.5,556.8 L773.5,557.5 L774.5,558.3 L775.5,559.3 L776.5,560.4 L777.5,561.6 L778.5,563.0 L779.5,564.4 L780.5,566.0 L781.5,567.7 L782.5,569.5 L783.5,571.4 L784.5,573.4 L785.5,575.5 L786.5,577.6 L787.5,579.9 L788.5,582.2 L789.5,584.6 L790.5,587.1 L791.5,589.7 L792.5,592.3 L793.5,595.0 L794.5,597.7 L795.5,600.5 L796.5,603.3 L797.5,606.1 L798.5,609.0 L799.5,611.9 L800.5,614.9 L801.5,617.8 L802.5,620.8 L803.5,623.8 L804.5,626.9 L805.5,629.9 L806.5,632.9 L807.5,635.9 L808.5,639.0 L809.5,642.0 L810.5,645.0 L811.5,648.0 L812.5,651.0 L813.5,654.0 L814.5,657.0 L815.5,659.9 L816.5,662.9 L817.5,665.8 L818.5,668.7 L819.5,671.5 L820.5,674.3 L821.5,677.1 L822.5,679.9 L823.5,682.6 L824.5,685.3 L825.5,688.0 L826.5,690.6 L827.5,693.1 L828.5,695.6 L829.5,698.1 L830.5,700.5 L831.5,702.9 L832.5,705.2 L833.5,707.4 L834.5,709.6 L835.5,711.7 L836.5,713.8 L837.5,715.8 L838.5,717.7 L839.5,719.6 L840.5,721.5 L841.5,723.2 L842.5,725.0 L843.5,726.6 L844.5,728.2 L845.5,729.8 L846.5,731.3 L847.5,732.7 L848.5,734.1 L849.5,735.5 L850.5,736.8 L851.5,738.0 L852.5,739.2 L853.5,740.4 L854.5,741.5 L855.5,742.5 L856.5,743.5 L857.5,744.5 L858.5,745.5 L859.5,746.3 L860.5,747.2 L861.5,748.0 L862.5,748.8 L863.5,749.5 L864.5,750.2 L865.5,750.9 L866.5,751.5 L867.5,752.1 L868.5,752.7 L869.5,753.2 L870.5,753.7 L871.5,754.2 L872.5,754.7 L873.5,755.1 L874.5,755.5 L875.5,755.9 L876.5,756.2 L877.5,756.6 L878.5,756.9 L879.5,757.2 L880.5,757.5 L881.5,757.7 L882.5,758.0 L883.5,758.2 L884.5,758.4 L885.5,758.6 L886.5,758.8 L887.5,759.0 L888.5,759.2 L889.5,759.4 L890.5,759.5 L891.5,759.7 L892.5,759.8 L893.5,759.9 L894.5,760.0 L895.5,760.2 L896.5,760.3 L897.5,760.4 L898.5,760.5 L899.5,760.6 L900.5,760.6 L901.5,760.7 L902.5,760.8 L903.5,760.9 L904.5,760.9 L905.5,761.0 L906.5,761.0 L907.5,761.1 L908.5,761.1 L909.5,761.2 L910.5,761.2 L911.5,761.3 L912.5,761.3 L913.5,761.3 L914.5,761.4 L915.5,761.4 L916.5,761.4 L917.5,761.5 L918.5,761.5 L919.5,761.5 L920.5,761.5 L921.5,761.5 L922.5,761.6 L923.5,761.6 L924.5,761.6 L925.5,761.6 L926.5,761.6 L927.5,761.7 L928.5,761.7 L929.5,761.7 L930.5,761.7 L931.5,761.7 L932.5,761.7 L933.5,761.7 L934.5,761.7 L935.5,761.8 L936.5,761.8 L937.5,761.8 L938.5,761.8 L939.5,761.8 L940.5,761.8 L941.5,761.8 L942.5,761.8 L943.5,761.8 L944.5,761.8 L945.5,761.9 L946.5,761.9 L947.5,761.9 L948.5,761.9 L949.5,761.9 L950.5,761.9 L951.5,761.9 L952.5,761.9 L953.5,761.9 L954.5,761.9 L955.5,762.0 L956.5,762.0 L957.5,762.0 L958.5,762.0 L959.5,762.0 L960.5,762.0 L961.5,762.0 L962.5,762.0 L963.5,762.1 L964.5,762.1 L965.5,762.1 L966.5,762.1 L967.5,762.1 L968.5,762.1 L969.5,762.2 L970.5,762.2 L971.5,762.2 L972.5,762.2 L973.5,762.3 L974.5,762.3 L975.5,762.3 L976.5,762.3 L977.5,762.3 L978.5,762.4 L979.5,762.4 L980.5,762.4 L981.5,762.4 L982.5,762.5 L983.5,762.5 L984.5,762.5 L985.5,762.5 L986.5,762.5 L987.5,762.6 L988.5,762.6 L989.5,762.6 L990.5,762.6 L991.5,762.7 L992.5,762.7 L993.5,762.7 L994.5,762.7 L995.5,762.7 L996.5,762.8 L997.5,762.8 L998.5,762.8 L999.5,762.8 L1000.5,762.8 L1001.5,762.9 L1002.5,762.9 L1003.5,762.9 L1004.5,762.9 L1005.5,762.9 L1006.5,762.9 L1007.5,762.9 L1008.5,762.9 L1009.5,762.9 L1010.5,763.0 L1011.5,763.0 L1012.5,763.0 L1013.5,763.0 L1014.5,763.0 L1015.5,763.0 L1016.5,763.0" stroke="#ff0000" stroke-width="3.0"/>
<path d="M594.5,759.0 L595.5,759.0 L596.5,759.0 L597.5,759.0 L598.5,759.0 L599.5,759.0 L600.5,759.0 L601.5,759.0 L602.5,759.0 L603.5,759.0 L604.5,759.0 L605.5,759.0 L606.5,759.0 L607.5,759.0 L608.5,759.0 L609.5,759.0 L610.5,759.0 L611.5,759.0 L612.5,759.0 L613.5,759.0 L614.5,759.0 L615.5,759.0 L616.5,759.0 L617.5,759.0 L618.5,759.0 L619.5,759.0 L620.5,759.0 L621.5,759.0 L622.5,759.0 L623.5,759.0 L624.5,759.0 L625.5,759.0 L626.5,759.0 L627.5,759.0 L628.5,759.0 L629.5,759.0 L630.5,759.0 L631.5,759.0 L632.5,759.0 L633.5,759.0 L634.5,759.1 L635.5,759.1 L636.5,759.1 L637.5,759.1 L638.5,759.1 L639.5,759.1 L640.5,759.1 L641.5,759.1 L642.5,759.1 L643.5,759.1 L644.5,759.1 L645.5,759.1 L646.5,759.1 L647.5,759.1 L648.5,759.1 L649.5,759.2 L650.5,759.2 L651.5,759.2 L652.5,759.2 L653.5,759.2 L654.5,759.2 L655.5,759.2 L656.5,759.2 L657.5,759.2 L658.5,759.2 L659.5,759.2 L660.5,759.2 L661.5,759.2 L662.5,759.2 L663.5,759.2 L664.5,759.3 L665.5,759.3 L666.5,759.3 L667.5,759.3 L668.5,759.3 L669.5,759.3 L670.5,759.3 L671.5,759.3 L672.5,759.3 L673.5,759.3 L674.5,759.3 L675.5,759.3 L676.5,759.4 L677.5,759.4 L678.5,759.4 L679.5,759.4 L680.5,759.4 L681.5,759.4 L682.5,759.4 L683.5,759.4 L684.5,759.4 L685.5,759.5 L686.5,759.5 L687.5,759.5 L688.5,759.5 L689.5,759.5 L690.5,759.5 L691.5,759.5 L692.5,759.5 L693.5,759.6 L694.5,759.6 L695.5,759.6 L696.5,759.6 L697.5,759.6 L698.5,759.6 L699.5,759.6 L700.5,759.6 L701.5,759.7 L702.5,759.7 L703.5,759.7 L704.5,759.7 L705.5,759.7 L706.5,759.7 L707.5,759.7 L708.5,759.7 L709.5,759.8 L710.5,759.8 L711.5,759.8 L712.5,759.8 L713.5,759.8 L714.5,759.8 L715.5,759.8 L716.5,759.8 L717.5,759.8 L718.5,759.8 L719.5,759.8 L720.5,759.8 L721.5,759.9 L722.5,759.9 L723.5,759.9 L724.5,759.9 L725.5,759.9 L726.5,759.9 L727.5,759.9 L728.5,759.9 L729.5,759.9 L730.5,759.9 L731.5,759.9 L732.5,759.9 L733.5,759.8 L734.5,759.8 L735.5,759.8 L736.5,759.8 L737.5,759.8 L738.5,759.8 L739.5,759.8 L740.5,759.7 L741.5,759.7 L742.5,759.7 L743.5,759.7 L744.5,759.6 L745.5,759.6 L746.5,759.6 L747.5,759.5 L748.5,759.5 L749.5,759.4 L750.5,759.4 L751.5,759.3 L752.5,759.3 L753.5,759.2 L754.5,759.1 L755.5,759.0 L756.5,759.0 L757.5,758.9 L758.5,758.8 L759.5,758.6 L760.5,758.5 L761.5,758.4 L762.5,758.2 L763.5,758.1 L764.5,757.9 L765.5,757.7 L766.5,757.5 L767.5,757.2 L768.5,757.0 L769.5,756.7 L770.5,756.3 L771.5,756.0 L772.5,755.6 L773.5,755.2 L774.5,754.7 L775.5,754.2 L776.5,753.7 L777.5,753.1 L778.5,752.4 L779.5,751.7 L780.5,750.9 L781.5,750.1 L782.5,749.2 L783.5,748.2 L784.5,747.2 L785.5,746.1 L786.5,744.9 L787.5,743.7 L788.5,742.4 L789.5,741.0 L790.5,739.5 L791.5,738.0 L792.5,736.4 L793.5,734.7 L794.5,733.0 L795.5,731.1 L796.5,729.2 L797.5,727.2 L798.5,725.2 L799.5,723.1 L800.5,720.9 L801.5,718.6 L802.5,716.2 L803.5,713.8 L804.5,711.2 L805.5,708.6 L806.5,705.9 L807.5,703.0 L808.5,700.1 L809.5,697.0 L810.5,693.8 L811.5,690.5 L812.5,687.0 L813.5,683.3 L814.5,679.5 L815.5,675.6 L816.5,671.5 L817.5,667.3 L818.5,662.9 L819.5,658.4 L820.5,653.8 L821.5,649.1 L822.5,644.2 L823.5,639.3 L824.5,634.3 L825.5,629.3 L826.5,624.2 L827.5,619.0 L828.5,613.8 L829.5,608.6 L830.5,603.3 L831.5,598.1 L832.5,592.8 L833.5,587.6 L834.5,582.4 L835.5,577.3 L836.5,572.3 L837.5,567.3 L838.5,562.5 L839.5,557.8 L840.5,553.2 L841.5,548.8 L842.5,544.5 L843.5,540.5 L844.5,536.6 L845.5,533.0 L846.5,529.5 L847.5,526.3 L848.5,523.2 L849.5,520.4 L850.5,517.8 L851.5,515.4 L852.5,513.2 L853.5,511.2 L854.5,509.4 L855.5,507.9 L856.5,506.6 L857.5,505.5 L858.5,504.6 L859.5,504.0 L860.5,503.6 L861.5,503.4 L862.5,503.6 L863.5,503.9 L864.5,504.6 L865.5,505.4 L866.5,506.6 L867.5,508.0 L868.5,509.6 L869.5,511.4 L870.5,513.6 L871.5,515.9 L872.5,518.5 L873.5,521.3 L874.5,524.4 L875.5,527.6 L876.5,531.1 L877.5,534.8 L878.5,538.7 L879.5,542.9 L880.5,547.2 L881.5,551.6 L882.5,556.3 L883.5,561.0 L884.5,566.0 L885.5,571.0 L886.5,576.1 L887.5,581.3 L888.5,586.5 L889.5,591.7 L890.5,597.0 L891.5,602.3 L892.5,607.5 L893.5,612.7 L894.5,617.9 L895.5,623.0 L896.5,628.0 L897.5,633.0 L898.5,637.8 L899.5,642.6 L900.5,647.3 L901.5,651.9 L902.5,656.5 L903.5,660.9 L904.5,665.2 L905.5,669.5 L906.5,673.6 L907.5,677.7 L908.5,681.6 L909.5,685.4 L910.5,689.2 L911.5,692.8 L912.5,696.3 L913.5,699.7 L914.5,702.9 L915.5,706.0 L916.5,709.1 L917.5,712.0 L918.5,714.7 L919.5,717.4 L920.5,719.9 L921.5,722.3 L922.5,724.7 L923.5,726.9 L924.5,729.0 L925.5,731.0 L926.5,732.9 L927.5,734.7 L928.5,736.5 L929.5,738.1 L930.5,739.7 L931.5,741.2 L932.5,742.6 L933.5,743.9 L934.5,745.2 L935.5,746.4 L936.5,747.5 L937.5,748.5 L938.5,749.5 L939.5,750.4 L940.5,751.3 L941.5,752.1 L942.5,752.8 L943.5,753.5 L944.5,754.2 L945.5,754.8 L946.5,755.3 L947.5,755.9 L948.5,756.4 L949.5,756.8 L950.5,757.2 L951.5,757.6 L952.5,758.0 L953.5,758.3 L954.5,758.6 L955.5,758.9 L956.5,759.2 L957.5,759.4 L958.5,759.6 L959.5,759.8 L960.5,760.0 L961.5,760.2 L962.5,760.3 L963.5,760.5 L964.5,760.6 L965.5,760.7 L966.5,760.9 L967.5,761.0 L968.5,761.0 L969.5,761.1 L970.5,761.2 L971.5,761.3 L972.5,761.3 L973.5,761.4 L974.5,761.4 L975.5,761.5 L976.5,761.5 L977.5,761.5 L978.5,761.6 L979.5,761.6 L980.5,761.6 L981.5,761.7 L982.5,761.7 L983.5,761.7 L984.5,761.7 L985.5,761.7 L986.5,761.8 L987.5,761.8 L988.5,761.8 L989.5,761.8 L990.5,761.8 L991.5,761.8 L992.5,761.9 L993.5,761.9 L994.5,761.9 L995.5,761.9 L996.5,762.0 L997.5,762.0 L998.5,762.0 L999.5,762.0 L1000.5,762.1 L1001.5,762.1 L1002.5,762.1 L1003.5,762.1 L1004.5,762.2 L1005.5,762.2 L1006.5,762.2 L1007.5,762.3 L1008.5,762.3 L1009.5,762.3 L1010.5,762.3 L1011.5,762.4 L1012.5,762.4 L1013.5,762.4 L1014.5,762.5 L1015.5,762.5 L1016.5,762.5" stroke="#0000ff" stroke-width="3.0"/>
</g>
<rect x="594.50" y="457.30" width="422.90" height="338.20" fill="none" stroke="#000" stroke-width="2.9"/>
<line x1="641.49" y1="795.50" x2="641.49" y2="801.90" stroke="#000" stroke-width="2.9"/>
<text transform="translate(641.49,827.10) scale(1.000,1.040)" font-size="28.00" text-anchor="middle">162</text>
<line x1="735.47" y1="795.50" x2="735.47" y2="801.90" stroke="#000" stroke-width="2.9"/>
<text transform="translate(735.47,827.10) scale(1.000,1.040)" font-size="28.00" text-anchor="middle">160</text>
<line x1="829.44" y1="795.50" x2="829.44" y2="801.90" stroke="#000" stroke-width="2.9"/>
<text transform="translate(829.44,827.10) scale(1.000,1.040)" font-size="28.00" text-anchor="middle">158</text>
<line x1="923.42" y1="795.50" x2="923.42" y2="801.90" stroke="#000" stroke-width="2.9"/>
<text transform="translate(923.42,827.10) scale(1.000,1.040)" font-size="28.00" text-anchor="middle">156</text>
<line x1="1017.40" y1="795.50" x2="1017.40" y2="801.90" stroke="#000" stroke-width="2.9"/>
<text transform="translate(1017.40,827.10) scale(1.000,1.040)" font-size="28.00" text-anchor="middle">154</text>
<text transform="translate(812.30,857.90) scale(1.000,1.040)" font-size="33.30" text-anchor="middle">Binding Energy (eV)</text>
<text transform="translate(572.60,642.70) rotate(-90) scale(1.000,1.040)" font-size="32.30" text-anchor="middle" word-spacing="5.5">Intensity (a.u.)</text>
<text transform="translate(561.50,501.30) scale(1.000,1.000)" font-size="45.90" text-anchor="middle">(e)</text>
<text transform="translate(597.90,486.00) scale(1.000,1.040)" font-size="27.30">8YSZ</text>
<text transform="translate(656.00,531.80) scale(1.000,1.040)" font-size="27.30">Y 3d<tspan font-size="18.2" dy="6.6">3/2</tspan></text>
<text transform="translate(748.00,492.20) scale(1.000,1.040)" font-size="27.30">Y 3d<tspan font-size="18.2" dy="6.6">5/2</tspan></text>
<line x1="713.00" y1="551.00" x2="764.36" y2="590.69" stroke="#000" stroke-width="2.7"/>
<polygon points="780.19,602.92 759.54,593.66 766.02,585.27" fill="#000"/>
<line x1="808.00" y1="501.00" x2="844.39" y2="518.85" stroke="#000" stroke-width="2.7"/>
<polygon points="862.35,527.66 840.26,522.73 844.93,513.21" fill="#000"/>
</g>
<g>
<clipPath id="clip_f"><rect x="1102.50" y="456.60" width="424.00" height="339.00"/></clipPath>
<g clip-path="url(#clip_f)" fill="none" stroke-linejoin="round" stroke-linecap="butt">
<path d="M1102.5,756.4 L1103.5,756.3 L1104.5,756.3 L1105.5,756.3 L1106.5,756.2 L1107.5,756.2 L1108.5,756.1 L1109.5,756.1 L1110.5,756.0 L1111.5,756.0 L1112.5,755.9 L1113.5,755.9 L1114.5,755.8 L1115.5,755.8 L1116.5,755.7 L1117.5,755.6 L1118.5,755.5 L1119.5,755.5 L1120.5,755.4 L1121.5,755.3 L1122.5,755.2 L1123.5,755.1 L1124.5,755.0 L1125.5,754.9 L1126.5,754.8 L1127.5,754.7 L1128.5,754.6 L1129.5,754.5 L1130.5,754.4 L1131.5,754.3 L1132.5,754.2 L1133.5,754.0 L1134.5,753.9 L1135.5,753.8 L1136.5,753.7 L1137.5,753.5 L1138.5,753.4 L1139.5,753.3 L1140.5,753.1 L1141.5,753.0 L1142.5,752.9 L1143.5,752.7 L1144.5,752.6 L1145.5,752.4 L1146.5,752.3 L1147.5,752.1 L1148.5,752.0 L1149.5,751.8 L1150.5,751.6 L1151.5,751.5 L1152.5,751.3 L1153.5,751.1 L1154.5,750.9 L1155.5,750.7 L1156.5,750.5 L1157.5,750.3 L1158.5,750.1 L1159.5,749.9 L1160.5,749.7 L1161.5,749.5 L1162.5,749.3 L1163.5,749.0 L1164.5,748.8 L1165.5,748.5 L1166.5,748.3 L1167.5,748.0 L1168.5,747.7 L1169.5,747.4 L1170.5,747.1 L1171.5,746.8 L1172.5,746.5 L1173.5,746.2 L1174.5,745.8 L1175.5,745.4 L1176.5,745.1 L1177.5,744.7 L1178.5,744.3 L1179.5,743.8 L1180.5,743.4 L1181.5,743.0 L1182.5,742.5 L1183.5,742.0 L1184.5,741.5 L1185.5,741.0 L1186.5,740.5 L1187.5,739.9 L1188.5,739.4 L1189.5,738.8 L1190.5,738.2 L1191.5,737.6 L1192.5,736.9 L1193.5,736.3 L1194.5,735.6 L1195.5,734.9 L1196.5,734.2 L1197.5,733.5 L1198.5,732.7 L1199.5,732.0 L1200.5,731.2 L1201.5,730.4 L1202.5,729.6 L1203.5,728.8 L1204.5,728.0 L1205.5,727.2 L1206.5,726.4 L1207.5,725.6 L1208.5,724.7 L1209.5,723.9 L1210.5,723.1 L1211.5,722.3 L1212.5,721.4 L1213.5,720.6 L1214.5,719.8 L1215.5,719.0 L1216.5,718.2 L1217.5,717.4 L1218.5,716.5 L1219.5,715.7 L1220.5,714.9 L1221.5,714.1 L1222.5,713.3 L1223.5,712.5 L1224.5,711.7 L1225.5,710.9 L1226.5,710.1 L1227.5,709.3 L1228.5,708.6 L1229.5,707.8 L1230.5,707.0 L1231.5,706.3 L1232.5,705.5 L1233.5,704.7 L1234.5,704.0 L1235.5,703.2 L1236.5,702.4 L1237.5,701.6 L1238.5,700.9 L1239.5,700.1 L1240.5,699.3 L1241.5,698.5 L1242.5,697.6 L1243.5,696.8 L1244.5,696.0 L1245.5,695.1 L1246.5,694.3 L1247.5,693.4 L1248.5,692.5 L1249.5,691.6 L1250.5,690.7 L1251.5,689.8 L1252.5,688.8 L1253.5,687.9 L1254.5,686.9 L1255.5,686.0 L1256.5,685.0 L1257.5,684.0 L1258.5,683.0 L1259.5,681.9 L1260.5,680.9 L1261.5,679.8 L1262.5,678.6 L1263.5,677.4 L1264.5,676.2 L1265.5,674.9 L1266.5,673.6 L1267.5,672.2 L1268.5,670.8 L1269.5,669.3 L1270.5,667.8 L1271.5,666.2 L1272.5,664.6 L1273.5,662.9 L1274.5,661.2 L1275.5,659.4 L1276.5,657.5 L1277.5,655.6 L1278.5,653.6 L1279.5,651.5 L1280.5,649.3 L1281.5,647.0 L1282.5,644.7 L1283.5,642.2 L1284.5,639.6 L1285.5,636.8 L1286.5,634.0 L1287.5,631.0 L1288.5,627.9 L1289.5,624.6 L1290.5,621.2 L1291.5,617.7 L1292.5,614.1 L1293.5,610.3 L1294.5,606.5 L1295.5,602.5 L1296.5,598.4 L1297.5,594.3 L1298.5,590.1 L1299.5,585.9 L1300.5,581.6 L1301.5,577.2 L1302.5,572.8 L1303.5,568.4 L1304.5,564.0 L1305.5,559.6 L1306.5,555.1 L1307.5,550.7 L1308.5,546.3 L1309.5,542.0 L1310.5,537.8 L1311.5,533.6 L1312.5,529.5 L1313.5,525.6 L1314.5,521.8 L1315.5,518.1 L1316.5,514.5 L1317.5,511.1 L1318.5,507.9 L1319.5,504.8 L1320.5,501.9 L1321.5,499.2 L1322.5,496.6 L1323.5,494.3 L1324.5,492.2 L1325.5,490.3 L1326.5,488.8 L1327.5,487.4 L1328.5,486.4 L1329.5,485.7 L1330.5,485.3 L1331.5,485.2 L1332.5,485.5 L1333.5,486.0 L1334.5,486.9 L1335.5,488.1 L1336.5,489.5 L1337.5,491.3 L1338.5,493.3 L1339.5,495.6 L1340.5,498.1 L1341.5,500.9 L1342.5,503.9 L1343.5,507.0 L1344.5,510.4 L1345.5,514.0 L1346.5,517.7 L1347.5,521.6 L1348.5,525.7 L1349.5,529.9 L1350.5,534.3 L1351.5,538.7 L1352.5,543.3 L1353.5,548.0 L1354.5,552.8 L1355.5,557.8 L1356.5,562.7 L1357.5,567.8 L1358.5,572.9 L1359.5,578.1 L1360.5,583.3 L1361.5,588.6 L1362.5,593.9 L1363.5,599.2 L1364.5,604.6 L1365.5,609.9 L1366.5,615.3 L1367.5,620.6 L1368.5,625.9 L1369.5,631.2 L1370.5,636.4 L1371.5,641.5 L1372.5,646.6 L1373.5,651.6 L1374.5,656.6 L1375.5,661.4 L1376.5,666.0 L1377.5,670.6 L1378.5,675.0 L1379.5,679.3 L1380.5,683.5 L1381.5,687.5 L1382.5,691.3 L1383.5,695.0 L1384.5,698.6 L1385.5,701.9 L1386.5,705.2 L1387.5,708.3 L1388.5,711.3 L1389.5,714.1 L1390.5,716.8 L1391.5,719.4 L1392.5,721.8 L1393.5,724.1 L1394.5,726.3 L1395.5,728.5 L1396.5,730.5 L1397.5,732.4 L1398.5,734.2 L1399.5,735.9 L1400.5,737.5 L1401.5,739.0 L1402.5,740.4 L1403.5,741.8 L1404.5,743.1 L1405.5,744.3 L1406.5,745.4 L1407.5,746.5 L1408.5,747.5 L1409.5,748.4 L1410.5,749.3 L1411.5,750.1 L1412.5,750.9 L1413.5,751.6 L1414.5,752.3 L1415.5,752.9 L1416.5,753.5 L1417.5,754.0 L1418.5,754.5 L1419.5,754.9 L1420.5,755.4 L1421.5,755.7 L1422.5,756.1 L1423.5,756.4 L1424.5,756.7 L1425.5,757.0 L1426.5,757.2 L1427.5,757.5 L1428.5,757.7 L1429.5,757.9 L1430.5,758.0 L1431.5,758.2 L1432.5,758.3 L1433.5,758.4 L1434.5,758.6 L1435.5,758.7 L1436.5,758.7 L1437.5,758.8 L1438.5,758.9 L1439.5,759.0 L1440.5,759.0 L1441.5,759.1 L1442.5,759.1 L1443.5,759.2 L1444.5,759.2 L1445.5,759.3 L1446.5,759.3 L1447.5,759.4 L1448.5,759.4 L1449.5,759.4 L1450.5,759.5 L1451.5,759.5 L1452.5,759.5 L1453.5,759.6 L1454.5,759.6 L1455.5,759.6 L1456.5,759.7 L1457.5,759.7 L1458.5,759.8 L1459.5,759.8 L1460.5,759.8 L1461.5,759.9 L1462.5,759.9 L1463.5,759.9 L1464.5,760.0 L1465.5,760.0 L1466.5,760.0 L1467.5,760.0 L1468.5,760.1 L1469.5,760.1 L1470.5,760.1 L1471.5,760.2 L1472.5,760.2 L1473.5,760.2 L1474.5,760.3 L1475.5,760.3 L1476.5,760.3 L1477.5,760.4 L1478.5,760.4 L1479.5,760.4 L1480.5,760.4 L1481.5,760.5 L1482.5,760.5 L1483.5,760.5 L1484.5,760.6 L1485.5,760.6 L1486.5,760.6 L1487.5,760.7 L1488.5,760.7 L1489.5,760.7 L1490.5,760.8 L1491.5,760.8 L1492.5,760.8 L1493.5,760.8 L1494.5,760.9 L1495.5,760.9 L1496.5,760.9 L1497.5,761.0 L1498.5,761.0 L1499.5,761.0 L1500.5,761.0 L1501.5,761.1 L1502.5,761.1 L1503.5,761.1 L1504.5,761.2 L1505.5,761.2 L1506.5,761.2 L1507.5,761.2 L1508.5,761.3 L1509.5,761.3 L1510.5,761.3 L1511.5,761.3 L1512.5,761.3 L1513.5,761.4 L1514.5,761.4 L1515.5,761.4 L1516.5,761.4 L1517.5,761.4 L1518.5,761.5 L1519.5,761.5 L1520.5,761.5 L1521.5,761.5 L1522.5,761.5 L1523.5,761.6 L1524.5,761.6 L1525.5,761.6 L1526.5,761.6" stroke="#000" stroke-width="2.7"/>
<path d="M1102.5,757.7 L1103.5,757.7 L1104.5,757.7 L1105.5,757.7 L1106.5,757.7 L1107.5,757.7 L1108.5,757.7 L1109.5,757.6 L1110.5,757.6 L1111.5,757.6 L1112.5,757.6 L1113.5,757.6 L1114.5,757.6 L1115.5,757.6 L1116.5,757.5 L1117.5,757.5 L1118.5,757.5 L1119.5,757.5 L1120.5,757.5 L1121.5,757.5 L1122.5,757.4 L1123.5,757.4 L1124.5,757.4 L1125.5,757.4 L1126.5,757.3 L1127.5,757.3 L1128.5,757.3 L1129.5,757.3 L1130.5,757.2 L1131.5,757.2 L1132.5,757.2 L1133.5,757.1 L1134.5,757.1 L1135.5,757.1 L1136.5,757.0 L1137.5,757.0 L1138.5,757.0 L1139.5,756.9 L1140.5,756.9 L1141.5,756.8 L1142.5,756.8 L1143.5,756.7 L1144.5,756.6 L1145.5,756.6 L1146.5,756.5 L1147.5,756.4 L1148.5,756.4 L1149.5,756.3 L1150.5,756.2 L1151.5,756.1 L1152.5,756.0 L1153.5,755.9 L1154.5,755.8 L1155.5,755.7 L1156.5,755.6 L1157.5,755.4 L1158.5,755.3 L1159.5,755.2 L1160.5,755.0 L1161.5,754.9 L1162.5,754.7 L1163.5,754.5 L1164.5,754.4 L1165.5,754.2 L1166.5,754.0 L1167.5,753.8 L1168.5,753.6 L1169.5,753.3 L1170.5,753.1 L1171.5,752.9 L1172.5,752.6 L1173.5,752.3 L1174.5,752.1 L1175.5,751.8 L1176.5,751.5 L1177.5,751.2 L1178.5,750.9 L1179.5,750.6 L1180.5,750.2 L1181.5,749.9 L1182.5,749.5 L1183.5,749.2 L1184.5,748.8 L1185.5,748.4 L1186.5,748.1 L1187.5,747.7 L1188.5,747.3 L1189.5,746.8 L1190.5,746.4 L1191.5,746.0 L1192.5,745.6 L1193.5,745.2 L1194.5,744.7 L1195.5,744.3 L1196.5,743.8 L1197.5,743.4 L1198.5,742.9 L1199.5,742.5 L1200.5,742.1 L1201.5,741.6 L1202.5,741.2 L1203.5,740.8 L1204.5,740.3 L1205.5,739.9 L1206.5,739.5 L1207.5,739.1 L1208.5,738.8 L1209.5,738.4 L1210.5,738.0 L1211.5,737.7 L1212.5,737.4 L1213.5,737.1 L1214.5,736.8 L1215.5,736.6 L1216.5,736.4 L1217.5,736.2 L1218.5,736.0 L1219.5,735.9 L1220.5,735.8 L1221.5,735.7 L1222.5,735.6 L1223.5,735.6 L1224.5,735.6 L1225.5,735.7 L1226.5,735.8 L1227.5,735.9 L1228.5,736.1 L1229.5,736.3 L1230.5,736.5 L1231.5,736.7 L1232.5,737.0 L1233.5,737.3 L1234.5,737.7 L1235.5,738.1 L1236.5,738.5 L1237.5,738.9 L1238.5,739.3 L1239.5,739.8 L1240.5,740.2 L1241.5,740.7 L1242.5,741.2 L1243.5,741.7 L1244.5,742.3 L1245.5,742.8 L1246.5,743.3 L1247.5,743.8 L1248.5,744.3 L1249.5,744.8 L1250.5,745.3 L1251.5,745.8 L1252.5,746.3 L1253.5,746.7 L1254.5,747.2 L1255.5,747.6 L1256.5,748.1 L1257.5,748.5 L1258.5,748.9 L1259.5,749.2 L1260.5,749.6 L1261.5,750.0 L1262.5,750.3 L1263.5,750.7 L1264.5,751.0 L1265.5,751.3 L1266.5,751.6 L1267.5,751.9 L1268.5,752.1 L1269.5,752.4 L1270.5,752.7 L1271.5,752.9 L1272.5,753.1 L1273.5,753.4 L1274.5,753.6 L1275.5,753.8 L1276.5,754.0 L1277.5,754.2 L1278.5,754.4 L1279.5,754.6 L1280.5,754.7 L1281.5,754.9 L1282.5,755.1 L1283.5,755.2 L1284.5,755.4 L1285.5,755.5 L1286.5,755.7 L1287.5,755.8 L1288.5,755.9 L1289.5,756.1 L1290.5,756.2 L1291.5,756.3 L1292.5,756.5 L1293.5,756.6 L1294.5,756.7 L1295.5,756.8 L1296.5,756.9 L1297.5,757.0 L1298.5,757.1 L1299.5,757.2 L1300.5,757.3 L1301.5,757.4 L1302.5,757.5 L1303.5,757.6 L1304.5,757.7 L1305.5,757.8 L1306.5,757.9 L1307.5,758.0 L1308.5,758.1 L1309.5,758.2 L1310.5,758.3 L1311.5,758.4 L1312.5,758.4 L1313.5,758.5 L1314.5,758.6 L1315.5,758.7 L1316.5,758.7 L1317.5,758.8 L1318.5,758.9 L1319.5,758.9 L1320.5,759.0 L1321.5,759.1 L1322.5,759.1 L1323.5,759.2 L1324.5,759.3 L1325.5,759.3 L1326.5,759.4 L1327.5,759.4 L1328.5,759.5 L1329.5,759.5 L1330.5,759.6 L1331.5,759.6 L1332.5,759.7 L1333.5,759.7 L1334.5,759.8 L1335.5,759.8 L1336.5,759.9 L1337.5,759.9 L1338.5,760.0 L1339.5,760.0 L1340.5,760.0 L1341.5,760.1 L1342.5,760.1 L1343.5,760.2 L1344.5,760.2 L1345.5,760.2 L1346.5,760.3 L1347.5,760.3 L1348.5,760.3 L1349.5,760.4 L1350.5,760.4 L1351.5,760.4 L1352.5,760.5 L1353.5,760.5 L1354.5,760.5 L1355.5,760.6 L1356.5,760.6 L1357.5,760.6 L1358.5,760.6 L1359.5,760.7 L1360.5,760.7 L1361.5,760.7 L1362.5,760.7 L1363.5,760.8 L1364.5,760.8 L1365.5,760.8 L1366.5,760.8 L1367.5,760.9 L1368.5,760.9 L1369.5,760.9 L1370.5,760.9 L1371.5,761.0 L1372.5,761.0 L1373.5,761.0 L1374.5,761.0 L1375.5,761.0 L1376.5,761.1 L1377.5,761.1 L1378.5,761.1 L1379.5,761.1 L1380.5,761.1 L1381.5,761.2 L1382.5,761.2 L1383.5,761.2 L1384.5,761.2 L1385.5,761.2 L1386.5,761.2 L1387.5,761.3 L1388.5,761.3 L1389.5,761.3 L1390.5,761.3 L1391.5,761.3 L1392.5,761.3 L1393.5,761.4 L1394.5,761.4 L1395.5,761.4 L1396.5,761.4 L1397.5,761.4 L1398.5,761.4 L1399.5,761.4 L1400.5,761.4 L1401.5,761.5 L1402.5,761.5 L1403.5,761.5 L1404.5,761.5 L1405.5,761.5 L1406.5,761.5 L1407.5,761.5 L1408.5,761.5 L1409.5,761.6 L1410.5,761.6 L1411.5,761.6 L1412.5,761.6 L1413.5,761.6 L1414.5,761.6 L1415.5,761.6 L1416.5,761.6 L1417.5,761.6 L1418.5,761.7 L1419.5,761.7 L1420.5,761.7 L1421.5,761.7 L1422.5,761.7 L1423.5,761.7 L1424.5,761.7 L1425.5,761.7 L1426.5,761.7 L1427.5,761.7 L1428.5,761.7 L1429.5,761.8 L1430.5,761.8 L1431.5,761.8 L1432.5,761.8 L1433.5,761.8 L1434.5,761.8 L1435.5,761.8 L1436.5,761.8 L1437.5,761.8 L1438.5,761.8 L1439.5,761.8 L1440.5,761.8 L1441.5,761.8 L1442.5,761.9 L1443.5,761.9 L1444.5,761.9 L1445.5,761.9 L1446.5,761.9 L1447.5,761.9 L1448.5,761.9 L1449.5,761.9 L1450.5,761.9 L1451.5,761.9 L1452.5,761.9 L1453.5,761.9 L1454.5,761.9 L1455.5,762.0 L1456.5,762.0 L1457.5,762.0 L1458.5,762.0 L1459.5,762.0 L1460.5,762.0 L1461.5,762.0 L1462.5,762.0 L1463.5,762.0 L1464.5,762.0 L1465.5,762.0 L1466.5,762.0 L1467.5,762.1 L1468.5,762.1 L1469.5,762.1 L1470.5,762.1 L1471.5,762.1 L1472.5,762.1 L1473.5,762.1 L1474.5,762.1 L1475.5,762.1 L1476.5,762.1 L1477.5,762.2 L1478.5,762.2 L1479.5,762.2 L1480.5,762.2 L1481.5,762.2 L1482.5,762.2 L1483.5,762.2 L1484.5,762.2 L1485.5,762.2 L1486.5,762.2 L1487.5,762.3 L1488.5,762.3 L1489.5,762.3 L1490.5,762.3 L1491.5,762.3 L1492.5,762.3 L1493.5,762.3 L1494.5,762.3 L1495.5,762.3 L1496.5,762.3 L1497.5,762.4 L1498.5,762.4 L1499.5,762.4 L1500.5,762.4 L1501.5,762.4 L1502.5,762.4 L1503.5,762.4 L1504.5,762.4 L1505.5,762.4 L1506.5,762.4 L1507.5,762.4 L1508.5,762.4 L1509.5,762.4 L1510.5,762.5 L1511.5,762.5 L1512.5,762.5 L1513.5,762.5 L1514.5,762.5 L1515.5,762.5 L1516.5,762.5 L1517.5,762.5 L1518.5,762.5 L1519.5,762.5 L1520.5,762.5 L1521.5,762.5 L1522.5,762.5 L1523.5,762.5 L1524.5,762.5 L1525.5,762.5 L1526.5,762.5" stroke="#ff0000" stroke-width="3.0"/>
<path d="M1102.5,758.1 L1103.5,758.0 L1104.5,758.0 L1105.5,758.0 L1106.5,758.0 L1107.5,758.0 L1108.5,758.0 L1109.5,757.9 L1110.5,757.9 L1111.5,757.9 L1112.5,757.9 L1113.5,757.9 L1114.5,757.9 L1115.5,757.9 L1116.5,757.8 L1117.5,757.8 L1118.5,757.8 L1119.5,757.8 L1120.5,757.8 L1121.5,757.8 L1122.5,757.8 L1123.5,757.8 L1124.5,757.8 L1125.5,757.7 L1126.5,757.7 L1127.5,757.7 L1128.5,757.7 L1129.5,757.7 L1130.5,757.7 L1131.5,757.7 L1132.5,757.6 L1133.5,757.6 L1134.5,757.6 L1135.5,757.6 L1136.5,757.6 L1137.5,757.6 L1138.5,757.5 L1139.5,757.5 L1140.5,757.5 L1141.5,757.5 L1142.5,757.4 L1143.5,757.4 L1144.5,757.4 L1145.5,757.4 L1146.5,757.3 L1147.5,757.3 L1148.5,757.3 L1149.5,757.2 L1150.5,757.2 L1151.5,757.1 L1152.5,757.1 L1153.5,757.0 L1154.5,757.0 L1155.5,756.9 L1156.5,756.9 L1157.5,756.8 L1158.5,756.7 L1159.5,756.6 L1160.5,756.6 L1161.5,756.5 L1162.5,756.4 L1163.5,756.3 L1164.5,756.2 L1165.5,756.1 L1166.5,756.0 L1167.5,755.8 L1168.5,755.7 L1169.5,755.6 L1170.5,755.4 L1171.5,755.3 L1172.5,755.2 L1173.5,755.0 L1174.5,754.9 L1175.5,754.7 L1176.5,754.6 L1177.5,754.4 L1178.5,754.3 L1179.5,754.1 L1180.5,754.0 L1181.5,753.8 L1182.5,753.7 L1183.5,753.5 L1184.5,753.3 L1185.5,753.2 L1186.5,753.0 L1187.5,752.8 L1188.5,752.6 L1189.5,752.4 L1190.5,752.3 L1191.5,752.1 L1192.5,751.9 L1193.5,751.6 L1194.5,751.4 L1195.5,751.2 L1196.5,751.0 L1197.5,750.7 L1198.5,750.5 L1199.5,750.2 L1200.5,749.9 L1201.5,749.6 L1202.5,749.3 L1203.5,749.0 L1204.5,748.7 L1205.5,748.4 L1206.5,748.1 L1207.5,747.7 L1208.5,747.4 L1209.5,747.0 L1210.5,746.6 L1211.5,746.2 L1212.5,745.8 L1213.5,745.4 L1214.5,744.9 L1215.5,744.5 L1216.5,744.0 L1217.5,743.5 L1218.5,743.0 L1219.5,742.4 L1220.5,741.9 L1221.5,741.3 L1222.5,740.7 L1223.5,740.1 L1224.5,739.5 L1225.5,738.8 L1226.5,738.1 L1227.5,737.4 L1228.5,736.6 L1229.5,735.9 L1230.5,735.1 L1231.5,734.3 L1232.5,733.4 L1233.5,732.6 L1234.5,731.7 L1235.5,730.8 L1236.5,729.9 L1237.5,729.0 L1238.5,728.1 L1239.5,727.2 L1240.5,726.3 L1241.5,725.3 L1242.5,724.4 L1243.5,723.4 L1244.5,722.5 L1245.5,721.6 L1246.5,720.6 L1247.5,719.7 L1248.5,718.8 L1249.5,718.0 L1250.5,717.1 L1251.5,716.3 L1252.5,715.5 L1253.5,714.7 L1254.5,714.0 L1255.5,713.3 L1256.5,712.6 L1257.5,712.0 L1258.5,711.4 L1259.5,710.9 L1260.5,710.5 L1261.5,710.1 L1262.5,709.8 L1263.5,709.6 L1264.5,709.4 L1265.5,709.3 L1266.5,709.2 L1267.5,709.3 L1268.5,709.4 L1269.5,709.6 L1270.5,709.9 L1271.5,710.3 L1272.5,710.7 L1273.5,711.3 L1274.5,711.9 L1275.5,712.5 L1276.5,713.3 L1277.5,714.0 L1278.5,714.9 L1279.5,715.8 L1280.5,716.7 L1281.5,717.6 L1282.5,718.6 L1283.5,719.6 L1284.5,720.7 L1285.5,721.7 L1286.5,722.7 L1287.5,723.8 L1288.5,724.8 L1289.5,725.8 L1290.5,726.9 L1291.5,727.9 L1292.5,728.9 L1293.5,729.9 L1294.5,730.9 L1295.5,731.8 L1296.5,732.8 L1297.5,733.7 L1298.5,734.6 L1299.5,735.5 L1300.5,736.3 L1301.5,737.2 L1302.5,738.0 L1303.5,738.8 L1304.5,739.5 L1305.5,740.3 L1306.5,741.0 L1307.5,741.6 L1308.5,742.3 L1309.5,742.9 L1310.5,743.6 L1311.5,744.1 L1312.5,744.7 L1313.5,745.2 L1314.5,745.8 L1315.5,746.3 L1316.5,746.7 L1317.5,747.2 L1318.5,747.7 L1319.5,748.1 L1320.5,748.5 L1321.5,748.9 L1322.5,749.3 L1323.5,749.6 L1324.5,750.0 L1325.5,750.4 L1326.5,750.7 L1327.5,751.0 L1328.5,751.3 L1329.5,751.7 L1330.5,752.0 L1331.5,752.2 L1332.5,752.5 L1333.5,752.8 L1334.5,753.1 L1335.5,753.3 L1336.5,753.6 L1337.5,753.8 L1338.5,754.1 L1339.5,754.3 L1340.5,754.5 L1341.5,754.7 L1342.5,754.9 L1343.5,755.1 L1344.5,755.3 L1345.5,755.5 L1346.5,755.7 L1347.5,755.8 L1348.5,756.0 L1349.5,756.1 L1350.5,756.3 L1351.5,756.4 L1352.5,756.5 L1353.5,756.6 L1354.5,756.8 L1355.5,756.9 L1356.5,757.0 L1357.5,757.1 L1358.5,757.2 L1359.5,757.3 L1360.5,757.4 L1361.5,757.5 L1362.5,757.6 L1363.5,757.7 L1364.5,757.7 L1365.5,757.8 L1366.5,757.9 L1367.5,758.0 L1368.5,758.1 L1369.5,758.1 L1370.5,758.2 L1371.5,758.3 L1372.5,758.3 L1373.5,758.4 L1374.5,758.5 L1375.5,758.5 L1376.5,758.6 L1377.5,758.7 L1378.5,758.7 L1379.5,758.8 L1380.5,758.8 L1381.5,758.9 L1382.5,758.9 L1383.5,759.0 L1384.5,759.0 L1385.5,759.1 L1386.5,759.1 L1387.5,759.2 L1388.5,759.2 L1389.5,759.3 L1390.5,759.3 L1391.5,759.3 L1392.5,759.4 L1393.5,759.4 L1394.5,759.5 L1395.5,759.5 L1396.5,759.5 L1397.5,759.6 L1398.5,759.6 L1399.5,759.6 L1400.5,759.7 L1401.5,759.7 L1402.5,759.7 L1403.5,759.8 L1404.5,759.8 L1405.5,759.8 L1406.5,759.9 L1407.5,759.9 L1408.5,759.9 L1409.5,759.9 L1410.5,760.0 L1411.5,760.0 L1412.5,760.0 L1413.5,760.1 L1414.5,760.1 L1415.5,760.1 L1416.5,760.1 L1417.5,760.1 L1418.5,760.2 L1419.5,760.2 L1420.5,760.2 L1421.5,760.2 L1422.5,760.3 L1423.5,760.3 L1424.5,760.3 L1425.5,760.3 L1426.5,760.3 L1427.5,760.4 L1428.5,760.4 L1429.5,760.4 L1430.5,760.4 L1431.5,760.4 L1432.5,760.4 L1433.5,760.5 L1434.5,760.5 L1435.5,760.5 L1436.5,760.5 L1437.5,760.5 L1438.5,760.6 L1439.5,760.6 L1440.5,760.6 L1441.5,760.6 L1442.5,760.6 L1443.5,760.6 L1444.5,760.6 L1445.5,760.7 L1446.5,760.7 L1447.5,760.7 L1448.5,760.7 L1449.5,760.7 L1450.5,760.7 L1451.5,760.7 L1452.5,760.8 L1453.5,760.8 L1454.5,760.8 L1455.5,760.8 L1456.5,760.8 L1457.5,760.8 L1458.5,760.9 L1459.5,760.9 L1460.5,760.9 L1461.5,760.9 L1462.5,760.9 L1463.5,760.9 L1464.5,761.0 L1465.5,761.0 L1466.5,761.0 L1467.5,761.0 L1468.5,761.0 L1469.5,761.1 L1470.5,761.1 L1471.5,761.1 L1472.5,761.1 L1473.5,761.1 L1474.5,761.2 L1475.5,761.2 L1476.5,761.2 L1477.5,761.2 L1478.5,761.2 L1479.5,761.3 L1480.5,761.3 L1481.5,761.3 L1482.5,761.3 L1483.5,761.4 L1484.5,761.4 L1485.5,761.4 L1486.5,761.4 L1487.5,761.4 L1488.5,761.5 L1489.5,761.5 L1490.5,761.5 L1491.5,761.5 L1492.5,761.6 L1493.5,761.6 L1494.5,761.6 L1495.5,761.6 L1496.5,761.6 L1497.5,761.7 L1498.5,761.7 L1499.5,761.7 L1500.5,761.7 L1501.5,761.7 L1502.5,761.8 L1503.5,761.8 L1504.5,761.8 L1505.5,761.8 L1506.5,761.8 L1507.5,761.8 L1508.5,761.9 L1509.5,761.9 L1510.5,761.9 L1511.5,761.9 L1512.5,761.9 L1513.5,761.9 L1514.5,761.9 L1515.5,761.9 L1516.5,762.0 L1517.5,762.0 L1518.5,762.0 L1519.5,762.0 L1520.5,762.0 L1521.5,762.0 L1522.5,762.0 L1523.5,762.0 L1524.5,762.0 L1525.5,762.0 L1526.5,762.0" stroke="#0000ff" stroke-width="3.0"/>
<path d="M1102.5,758.5 L1103.5,758.5 L1104.5,758.5 L1105.5,758.5 L1106.5,758.5 L1107.5,758.5 L1108.5,758.5 L1109.5,758.5 L1110.5,758.5 L1111.5,758.5 L1112.5,758.6 L1113.5,758.6 L1114.5,758.6 L1115.5,758.6 L1116.5,758.6 L1117.5,758.6 L1118.5,758.6 L1119.5,758.6 L1120.5,758.6 L1121.5,758.7 L1122.5,758.7 L1123.5,758.7 L1124.5,758.7 L1125.5,758.7 L1126.5,758.7 L1127.5,758.8 L1128.5,758.8 L1129.5,758.8 L1130.5,758.8 L1131.5,758.8 L1132.5,758.9 L1133.5,758.9 L1134.5,758.9 L1135.5,758.9 L1136.5,758.9 L1137.5,759.0 L1138.5,759.0 L1139.5,759.0 L1140.5,759.0 L1141.5,759.0 L1142.5,759.1 L1143.5,759.1 L1144.5,759.1 L1145.5,759.1 L1146.5,759.1 L1147.5,759.1 L1148.5,759.1 L1149.5,759.2 L1150.5,759.2 L1151.5,759.2 L1152.5,759.2 L1153.5,759.2 L1154.5,759.2 L1155.5,759.2 L1156.5,759.2 L1157.5,759.2 L1158.5,759.2 L1159.5,759.2 L1160.5,759.2 L1161.5,759.2 L1162.5,759.2 L1163.5,759.2 L1164.5,759.2 L1165.5,759.2 L1166.5,759.2 L1167.5,759.2 L1168.5,759.2 L1169.5,759.2 L1170.5,759.1 L1171.5,759.1 L1172.5,759.1 L1173.5,759.1 L1174.5,759.1 L1175.5,759.1 L1176.5,759.1 L1177.5,759.1 L1178.5,759.1 L1179.5,759.0 L1180.5,759.0 L1181.5,759.0 L1182.5,759.0 L1183.5,759.0 L1184.5,759.0 L1185.5,759.0 L1186.5,759.0 L1187.5,758.9 L1188.5,758.9 L1189.5,758.9 L1190.5,758.9 L1191.5,758.9 L1192.5,758.9 L1193.5,758.8 L1194.5,758.8 L1195.5,758.8 L1196.5,758.8 L1197.5,758.8 L1198.5,758.7 L1199.5,758.7 L1200.5,758.7 L1201.5,758.7 L1202.5,758.6 L1203.5,758.6 L1204.5,758.6 L1205.5,758.5 L1206.5,758.5 L1207.5,758.5 L1208.5,758.4 L1209.5,758.4 L1210.5,758.4 L1211.5,758.3 L1212.5,758.3 L1213.5,758.2 L1214.5,758.1 L1215.5,758.1 L1216.5,758.0 L1217.5,758.0 L1218.5,757.9 L1219.5,757.8 L1220.5,757.7 L1221.5,757.6 L1222.5,757.5 L1223.5,757.4 L1224.5,757.3 L1225.5,757.2 L1226.5,757.1 L1227.5,757.0 L1228.5,756.9 L1229.5,756.7 L1230.5,756.6 L1231.5,756.4 L1232.5,756.2 L1233.5,756.1 L1234.5,755.9 L1235.5,755.7 L1236.5,755.5 L1237.5,755.2 L1238.5,755.0 L1239.5,754.7 L1240.5,754.4 L1241.5,754.1 L1242.5,753.8 L1243.5,753.4 L1244.5,753.1 L1245.5,752.7 L1246.5,752.3 L1247.5,751.8 L1248.5,751.3 L1249.5,750.8 L1250.5,750.2 L1251.5,749.6 L1252.5,748.9 L1253.5,748.2 L1254.5,747.5 L1255.5,746.7 L1256.5,745.8 L1257.5,744.9 L1258.5,743.9 L1259.5,742.8 L1260.5,741.7 L1261.5,740.5 L1262.5,739.2 L1263.5,737.8 L1264.5,736.3 L1265.5,734.7 L1266.5,733.1 L1267.5,731.3 L1268.5,729.4 L1269.5,727.5 L1270.5,725.4 L1271.5,723.2 L1272.5,720.9 L1273.5,718.4 L1274.5,715.9 L1275.5,713.2 L1276.5,710.4 L1277.5,707.5 L1278.5,704.5 L1279.5,701.3 L1280.5,698.0 L1281.5,694.6 L1282.5,691.1 L1283.5,687.4 L1284.5,683.6 L1285.5,679.7 L1286.5,675.7 L1287.5,671.5 L1288.5,667.2 L1289.5,662.9 L1290.5,658.4 L1291.5,653.8 L1292.5,649.1 L1293.5,644.4 L1294.5,639.6 L1295.5,634.7 L1296.5,629.7 L1297.5,624.7 L1298.5,619.7 L1299.5,614.6 L1300.5,609.5 L1301.5,604.4 L1302.5,599.3 L1303.5,594.1 L1304.5,589.0 L1305.5,583.9 L1306.5,578.7 L1307.5,573.6 L1308.5,568.5 L1309.5,563.5 L1310.5,558.5 L1311.5,553.5 L1312.5,548.7 L1313.5,543.9 L1314.5,539.3 L1315.5,534.8 L1316.5,530.4 L1317.5,526.2 L1318.5,522.2 L1319.5,518.4 L1320.5,514.9 L1321.5,511.7 L1322.5,508.7 L1323.5,505.9 L1324.5,503.5 L1325.5,501.4 L1326.5,499.6 L1327.5,498.1 L1328.5,497.0 L1329.5,496.1 L1330.5,495.6 L1331.5,495.3 L1332.5,495.4 L1333.5,495.7 L1334.5,496.4 L1335.5,497.3 L1336.5,498.5 L1337.5,499.9 L1338.5,501.6 L1339.5,503.5 L1340.5,505.7 L1341.5,508.1 L1342.5,510.6 L1343.5,513.4 L1344.5,516.4 L1345.5,519.5 L1346.5,522.8 L1347.5,526.3 L1348.5,530.0 L1349.5,533.8 L1350.5,537.8 L1351.5,542.0 L1352.5,546.2 L1353.5,550.7 L1354.5,555.2 L1355.5,559.9 L1356.5,564.6 L1357.5,569.5 L1358.5,574.5 L1359.5,579.6 L1360.5,584.7 L1361.5,589.9 L1362.5,595.2 L1363.5,600.5 L1364.5,605.9 L1365.5,611.3 L1366.5,616.7 L1367.5,622.1 L1368.5,627.6 L1369.5,633.0 L1370.5,638.4 L1371.5,643.8 L1372.5,649.0 L1373.5,654.2 L1374.5,659.2 L1375.5,664.1 L1376.5,668.8 L1377.5,673.4 L1378.5,677.8 L1379.5,682.0 L1380.5,686.0 L1381.5,689.8 L1382.5,693.5 L1383.5,697.1 L1384.5,700.4 L1385.5,703.7 L1386.5,706.8 L1387.5,709.8 L1388.5,712.6 L1389.5,715.4 L1390.5,718.0 L1391.5,720.5 L1392.5,722.9 L1393.5,725.3 L1394.5,727.5 L1395.5,729.6 L1396.5,731.6 L1397.5,733.5 L1398.5,735.3 L1399.5,737.0 L1400.5,738.7 L1401.5,740.2 L1402.5,741.7 L1403.5,743.0 L1404.5,744.3 L1405.5,745.6 L1406.5,746.7 L1407.5,747.8 L1408.5,748.8 L1409.5,749.7 L1410.5,750.6 L1411.5,751.4 L1412.5,752.2 L1413.5,752.9 L1414.5,753.6 L1415.5,754.2 L1416.5,754.7 L1417.5,755.2 L1418.5,755.7 L1419.5,756.1 L1420.5,756.5 L1421.5,756.9 L1422.5,757.3 L1423.5,757.6 L1424.5,757.9 L1425.5,758.1 L1426.5,758.4 L1427.5,758.6 L1428.5,758.8 L1429.5,759.0 L1430.5,759.1 L1431.5,759.3 L1432.5,759.4 L1433.5,759.6 L1434.5,759.7 L1435.5,759.8 L1436.5,759.9 L1437.5,760.0 L1438.5,760.1 L1439.5,760.1 L1440.5,760.2 L1441.5,760.3 L1442.5,760.3 L1443.5,760.4 L1444.5,760.4 L1445.5,760.5 L1446.5,760.5 L1447.5,760.6 L1448.5,760.6 L1449.5,760.6 L1450.5,760.7 L1451.5,760.7 L1452.5,760.7 L1453.5,760.8 L1454.5,760.8 L1455.5,760.8 L1456.5,760.8 L1457.5,760.9 L1458.5,760.9 L1459.5,760.9 L1460.5,761.0 L1461.5,761.0 L1462.5,761.0 L1463.5,761.0 L1464.5,761.1 L1465.5,761.1 L1466.5,761.1 L1467.5,761.1 L1468.5,761.2 L1469.5,761.2 L1470.5,761.2 L1471.5,761.2 L1472.5,761.3 L1473.5,761.3 L1474.5,761.3 L1475.5,761.3 L1476.5,761.3 L1477.5,761.4 L1478.5,761.4 L1479.5,761.4 L1480.5,761.4 L1481.5,761.4 L1482.5,761.5 L1483.5,761.5 L1484.5,761.5 L1485.5,761.5 L1486.5,761.5 L1487.5,761.6 L1488.5,761.6 L1489.5,761.6 L1490.5,761.6 L1491.5,761.6 L1492.5,761.6 L1493.5,761.7 L1494.5,761.7 L1495.5,761.7 L1496.5,761.7 L1497.5,761.7 L1498.5,761.7 L1499.5,761.8 L1500.5,761.8 L1501.5,761.8 L1502.5,761.8 L1503.5,761.8 L1504.5,761.8 L1505.5,761.8 L1506.5,761.8 L1507.5,761.9 L1508.5,761.9 L1509.5,761.9 L1510.5,761.9 L1511.5,761.9 L1512.5,761.9 L1513.5,761.9 L1514.5,761.9 L1515.5,762.0 L1516.5,762.0 L1517.5,762.0 L1518.5,762.0 L1519.5,762.0 L1520.5,762.0 L1521.5,762.0 L1522.5,762.0 L1523.5,762.0 L1524.5,762.0 L1525.5,762.0 L1526.5,762.1" stroke="#008000" stroke-width="3.0"/>
</g>
<rect x="1102.50" y="456.60" width="424.00" height="339.00" fill="none" stroke="#000" stroke-width="2.9"/>
<line x1="1149.61" y1="795.60" x2="1149.61" y2="802.00" stroke="#000" stroke-width="2.9"/>
<text transform="translate(1149.61,827.20) scale(1.000,1.040)" font-size="28.00" text-anchor="middle">534</text>
<line x1="1243.83" y1="795.60" x2="1243.83" y2="802.00" stroke="#000" stroke-width="2.9"/>
<text transform="translate(1243.83,827.20) scale(1.000,1.040)" font-size="28.00" text-anchor="middle">532</text>
<line x1="1338.06" y1="795.60" x2="1338.06" y2="802.00" stroke="#000" stroke-width="2.9"/>
<text transform="translate(1338.06,827.20) scale(1.000,1.040)" font-size="28.00" text-anchor="middle">530</text>
<line x1="1432.28" y1="795.60" x2="1432.28" y2="802.00" stroke="#000" stroke-width="2.9"/>
<text transform="translate(1432.28,827.20) scale(1.000,1.040)" font-size="28.00" text-anchor="middle">528</text>
<line x1="1526.50" y1="795.60" x2="1526.50" y2="802.00" stroke="#000" stroke-width="2.9"/>
<text transform="translate(1526.50,827.20) scale(1.000,1.040)" font-size="28.00" text-anchor="middle">526</text>
<text transform="translate(1313.10,858.80) scale(1.000,1.040)" font-size="33.30" text-anchor="middle">Binding Energy (eV)</text>
<text transform="translate(1080.60,642.40) rotate(-90) scale(1.000,1.040)" font-size="32.30" text-anchor="middle" word-spacing="5.5">Intensity (a.u.)</text>
<text transform="translate(1069.80,501.30) scale(1.000,1.000)" font-size="45.90" text-anchor="middle">(f)</text>
<text transform="translate(1106.10,486.00) scale(1.000,1.040)" font-size="27.30">8YSZ</text>
<text transform="translate(1258.00,491.80) scale(1.000,1.040)" font-size="27.30">O<tspan font-size="18.2" dy="-10.3">2−</tspan></text>
<text transform="translate(1150.00,601.50) scale(1.000,1.040)" font-size="27.30">O Vacancy</text>
<text transform="translate(1146.00,680.40) scale(1.000,1.040)" font-size="27.30">O<tspan font-size="18.2" dy="6.6">2</tspan></text>
<line x1="1295.00" y1="495.00" x2="1319.37" y2="506.89" stroke="#000" stroke-width="2.7"/>
<polygon points="1337.35,515.66 1315.25,510.78 1319.90,501.25" fill="#000"/>
<line x1="1221.00" y1="621.00" x2="1252.78" y2="695.97" stroke="#000" stroke-width="2.7"/>
<polygon points="1260.59,714.38 1247.12,696.19 1256.88,692.06" fill="#000"/>
<line x1="1182.00" y1="697.00" x2="1205.74" y2="720.10" stroke="#000" stroke-width="2.7"/>
<polygon points="1220.08,734.05 1200.61,722.50 1208.00,714.91" fill="#000"/>
</g>
<g>
<clipPath id="clip_g"><rect x="85.60" y="897.20" width="423.90" height="339.25"/></clipPath>
<g clip-path="url(#clip_g)" fill="none" stroke-linejoin="round" stroke-linecap="butt">
<path d="M85.6,1183.4 L86.6,1183.4 L87.6,1183.4 L88.6,1183.3 L89.6,1183.3 L90.6,1183.3 L91.6,1183.3 L92.6,1183.3 L93.6,1183.3 L94.6,1183.3 L95.6,1183.3 L96.6,1183.3 L97.6,1183.2 L98.6,1183.2 L99.6,1183.2 L100.6,1183.2 L101.6,1183.1 L102.6,1183.1 L103.6,1183.1 L104.6,1183.0 L105.6,1183.0 L106.6,1182.9 L107.6,1182.9 L108.6,1182.9 L109.6,1182.8 L110.6,1182.8 L111.6,1182.7 L112.6,1182.7 L113.6,1182.6 L114.6,1182.6 L115.6,1182.5 L116.6,1182.5 L117.6,1182.4 L118.6,1182.4 L119.6,1182.3 L120.6,1182.3 L121.6,1182.2 L122.6,1182.2 L123.6,1182.1 L124.6,1182.0 L125.6,1182.0 L126.6,1181.9 L127.6,1181.8 L128.6,1181.7 L129.6,1181.7 L130.6,1181.6 L131.6,1181.5 L132.6,1181.4 L133.6,1181.4 L134.6,1181.3 L135.6,1181.2 L136.6,1181.1 L137.6,1181.0 L138.6,1180.9 L139.6,1180.9 L140.6,1180.8 L141.6,1180.7 L142.6,1180.6 L143.6,1180.5 L144.6,1180.4 L145.6,1180.3 L146.6,1180.2 L147.6,1180.1 L148.6,1180.0 L149.6,1179.9 L150.6,1179.8 L151.6,1179.7 L152.6,1179.6 L153.6,1179.5 L154.6,1179.4 L155.6,1179.3 L156.6,1179.2 L157.6,1179.1 L158.6,1179.1 L159.6,1179.0 L160.6,1178.9 L161.6,1178.8 L162.6,1178.7 L163.6,1178.6 L164.6,1178.6 L165.6,1178.5 L166.6,1178.4 L167.6,1178.3 L168.6,1178.3 L169.6,1178.2 L170.6,1178.1 L171.6,1178.0 L172.6,1177.8 L173.6,1177.7 L174.6,1177.5 L175.6,1177.3 L176.6,1177.1 L177.6,1176.8 L178.6,1176.5 L179.6,1176.2 L180.6,1175.8 L181.6,1175.4 L182.6,1174.9 L183.6,1174.4 L184.6,1173.8 L185.6,1173.2 L186.6,1172.5 L187.6,1171.8 L188.6,1171.0 L189.6,1170.1 L190.6,1169.2 L191.6,1168.2 L192.6,1167.1 L193.6,1166.0 L194.6,1164.8 L195.6,1163.6 L196.6,1162.3 L197.6,1160.9 L198.6,1159.4 L199.6,1158.0 L200.6,1156.4 L201.6,1154.8 L202.6,1153.1 L203.6,1151.4 L204.6,1149.6 L205.6,1147.7 L206.6,1145.8 L207.6,1143.9 L208.6,1141.8 L209.6,1139.8 L210.6,1137.6 L211.6,1135.5 L212.6,1133.2 L213.6,1130.9 L214.6,1128.6 L215.6,1126.2 L216.6,1123.7 L217.6,1121.2 L218.6,1118.7 L219.6,1116.1 L220.6,1113.4 L221.6,1110.7 L222.6,1108.0 L223.6,1105.2 L224.6,1102.4 L225.6,1099.5 L226.6,1096.6 L227.6,1093.7 L228.6,1090.7 L229.6,1087.7 L230.6,1084.7 L231.6,1081.6 L232.6,1078.6 L233.6,1075.5 L234.6,1072.4 L235.6,1069.4 L236.6,1066.3 L237.6,1063.3 L238.6,1060.3 L239.6,1057.4 L240.6,1054.5 L241.6,1051.7 L242.6,1049.0 L243.6,1046.4 L244.6,1043.8 L245.6,1041.4 L246.6,1039.1 L247.6,1036.9 L248.6,1034.8 L249.6,1032.8 L250.6,1031.0 L251.6,1029.4 L252.6,1027.9 L253.6,1026.6 L254.6,1025.4 L255.6,1024.3 L256.6,1023.5 L257.6,1022.7 L258.6,1022.2 L259.6,1021.8 L260.6,1021.5 L261.6,1021.4 L262.6,1021.4 L263.6,1021.6 L264.6,1022.0 L265.6,1022.6 L266.6,1023.3 L267.6,1024.2 L268.6,1025.3 L269.6,1026.6 L270.6,1028.0 L271.6,1029.5 L272.6,1031.2 L273.6,1033.0 L274.6,1034.9 L275.6,1037.0 L276.6,1039.1 L277.6,1041.3 L278.6,1043.6 L279.6,1046.0 L280.6,1048.4 L281.6,1050.9 L282.6,1053.4 L283.6,1055.9 L284.6,1058.5 L285.6,1061.1 L286.6,1063.6 L287.6,1066.2 L288.6,1068.8 L289.6,1071.3 L290.6,1073.8 L291.6,1076.3 L292.6,1078.7 L293.6,1081.1 L294.6,1083.4 L295.6,1085.6 L296.6,1087.8 L297.6,1089.9 L298.6,1091.9 L299.6,1093.9 L300.6,1095.7 L301.6,1097.5 L302.6,1099.1 L303.6,1100.7 L304.6,1102.1 L305.6,1103.4 L306.6,1104.6 L307.6,1105.7 L308.6,1106.6 L309.6,1107.4 L310.6,1108.0 L311.6,1108.5 L312.6,1108.9 L313.6,1109.1 L314.6,1109.2 L315.6,1109.1 L316.6,1108.9 L317.6,1108.5 L318.6,1107.9 L319.6,1107.2 L320.6,1106.4 L321.6,1105.3 L322.6,1104.1 L323.6,1102.8 L324.6,1101.2 L325.6,1099.6 L326.6,1097.7 L327.6,1095.7 L328.6,1093.6 L329.6,1091.2 L330.6,1088.8 L331.6,1086.2 L332.6,1083.4 L333.6,1080.5 L334.6,1077.5 L335.6,1074.4 L336.6,1071.1 L337.6,1067.7 L338.6,1064.2 L339.6,1060.6 L340.6,1056.9 L341.6,1053.0 L342.6,1049.2 L343.6,1045.2 L344.6,1041.2 L345.6,1037.1 L346.6,1032.9 L347.6,1028.8 L348.6,1024.6 L349.6,1020.5 L350.6,1016.3 L351.6,1012.2 L352.6,1008.1 L353.6,1004.0 L354.6,1000.1 L355.6,996.2 L356.6,992.5 L357.6,988.9 L358.6,985.4 L359.6,982.0 L360.6,978.9 L361.6,975.9 L362.6,973.1 L363.6,970.5 L364.6,968.1 L365.6,966.0 L366.6,964.1 L367.6,962.4 L368.6,961.0 L369.6,959.8 L370.6,958.9 L371.6,958.2 L372.6,957.8 L373.6,957.7 L374.6,957.8 L375.6,958.2 L376.6,958.9 L377.6,959.8 L378.6,961.0 L379.6,962.5 L380.6,964.2 L381.6,966.2 L382.6,968.4 L383.6,970.8 L384.6,973.5 L385.6,976.4 L386.6,979.5 L387.6,982.8 L388.6,986.3 L389.6,990.0 L390.6,993.8 L391.6,997.8 L392.6,1001.9 L393.6,1006.2 L394.6,1010.5 L395.6,1014.9 L396.6,1019.5 L397.6,1024.1 L398.6,1028.7 L399.6,1033.4 L400.6,1038.2 L401.6,1042.9 L402.6,1047.7 L403.6,1052.5 L404.6,1057.2 L405.6,1062.0 L406.6,1066.7 L407.6,1071.3 L408.6,1075.9 L409.6,1080.5 L410.6,1085.0 L411.6,1089.4 L412.6,1093.7 L413.6,1098.0 L414.6,1102.1 L415.6,1106.2 L416.6,1110.1 L417.6,1114.0 L418.6,1117.8 L419.6,1121.4 L420.6,1124.9 L421.6,1128.4 L422.6,1131.7 L423.6,1134.9 L424.6,1137.9 L425.6,1140.9 L426.6,1143.7 L427.6,1146.4 L428.6,1149.0 L429.6,1151.5 L430.6,1153.9 L431.6,1156.2 L432.6,1158.3 L433.6,1160.4 L434.6,1162.3 L435.6,1164.2 L436.6,1165.9 L437.6,1167.6 L438.6,1169.1 L439.6,1170.6 L440.6,1172.0 L441.6,1173.3 L442.6,1174.5 L443.6,1175.7 L444.6,1176.7 L445.6,1177.7 L446.6,1178.7 L447.6,1179.6 L448.6,1180.4 L449.6,1181.2 L450.6,1181.9 L451.6,1182.6 L452.6,1183.2 L453.6,1183.8 L454.6,1184.3 L455.6,1184.8 L456.6,1185.3 L457.6,1185.7 L458.6,1186.1 L459.6,1186.5 L460.6,1186.8 L461.6,1187.1 L462.6,1187.4 L463.6,1187.7 L464.6,1187.9 L465.6,1188.1 L466.6,1188.3 L467.6,1188.5 L468.6,1188.7 L469.6,1188.8 L470.6,1189.0 L471.6,1189.1 L472.6,1189.2 L473.6,1189.4 L474.6,1189.5 L475.6,1189.5 L476.6,1189.6 L477.6,1189.7 L478.6,1189.8 L479.6,1189.8 L480.6,1189.9 L481.6,1190.0 L482.6,1190.0 L483.6,1190.0 L484.6,1190.1 L485.6,1190.1 L486.6,1190.2 L487.6,1190.2 L488.6,1190.2 L489.6,1190.3 L490.6,1190.3 L491.6,1190.3 L492.6,1190.4 L493.6,1190.4 L494.6,1190.5 L495.6,1190.5 L496.6,1190.5 L497.6,1190.6 L498.6,1190.6 L499.6,1190.6 L500.6,1190.7 L501.6,1190.7 L502.6,1190.7 L503.6,1190.8 L504.6,1190.8 L505.6,1190.8 L506.6,1190.8 L507.6,1190.9 L508.6,1190.9" stroke="#000" stroke-width="2.7"/>
<path d="M85.6,1184.2 L86.6,1184.2 L87.6,1184.2 L88.6,1184.2 L89.6,1184.2 L90.6,1184.2 L91.6,1184.2 L92.6,1184.1 L93.6,1184.1 L94.6,1184.1 L95.6,1184.1 L96.6,1184.1 L97.6,1184.1 L98.6,1184.0 L99.6,1184.0 L100.6,1184.0 L101.6,1184.0 L102.6,1183.9 L103.6,1183.9 L104.6,1183.9 L105.6,1183.8 L106.6,1183.8 L107.6,1183.7 L108.6,1183.7 L109.6,1183.6 L110.6,1183.6 L111.6,1183.6 L112.6,1183.5 L113.6,1183.5 L114.6,1183.4 L115.6,1183.4 L116.6,1183.3 L117.6,1183.2 L118.6,1183.2 L119.6,1183.1 L120.6,1183.1 L121.6,1183.0 L122.6,1183.0 L123.6,1182.9 L124.6,1182.9 L125.6,1182.8 L126.6,1182.7 L127.6,1182.7 L128.6,1182.6 L129.6,1182.5 L130.6,1182.5 L131.6,1182.4 L132.6,1182.3 L133.6,1182.3 L134.6,1182.2 L135.6,1182.1 L136.6,1182.0 L137.6,1181.9 L138.6,1181.9 L139.6,1181.8 L140.6,1181.7 L141.6,1181.6 L142.6,1181.5 L143.6,1181.4 L144.6,1181.3 L145.6,1181.2 L146.6,1181.0 L147.6,1180.9 L148.6,1180.8 L149.6,1180.7 L150.6,1180.6 L151.6,1180.5 L152.6,1180.4 L153.6,1180.2 L154.6,1180.1 L155.6,1180.0 L156.6,1179.9 L157.6,1179.7 L158.6,1179.6 L159.6,1179.5 L160.6,1179.4 L161.6,1179.3 L162.6,1179.1 L163.6,1179.0 L164.6,1178.9 L165.6,1178.8 L166.6,1178.6 L167.6,1178.5 L168.6,1178.4 L169.6,1178.2 L170.6,1178.1 L171.6,1177.9 L172.6,1177.7 L173.6,1177.5 L174.6,1177.3 L175.6,1177.1 L176.6,1176.9 L177.6,1176.6 L178.6,1176.3 L179.6,1176.0 L180.6,1175.6 L181.6,1175.3 L182.6,1174.8 L183.6,1174.4 L184.6,1173.9 L185.6,1173.3 L186.6,1172.7 L187.6,1172.1 L188.6,1171.4 L189.6,1170.7 L190.6,1169.9 L191.6,1169.0 L192.6,1168.1 L193.6,1167.1 L194.6,1166.1 L195.6,1165.0 L196.6,1163.8 L197.6,1162.5 L198.6,1161.2 L199.6,1159.8 L200.6,1158.3 L201.6,1156.8 L202.6,1155.2 L203.6,1153.5 L204.6,1151.7 L205.6,1149.8 L206.6,1147.9 L207.6,1145.9 L208.6,1143.8 L209.6,1141.7 L210.6,1139.5 L211.6,1137.2 L212.6,1134.9 L213.6,1132.6 L214.6,1130.2 L215.6,1127.7 L216.6,1125.3 L217.6,1122.8 L218.6,1120.3 L219.6,1117.7 L220.6,1115.2 L221.6,1112.6 L222.6,1110.0 L223.6,1107.4 L224.6,1104.7 L225.6,1102.1 L226.6,1099.4 L227.6,1096.7 L228.6,1094.1 L229.6,1091.4 L230.6,1088.7 L231.6,1086.0 L232.6,1083.2 L233.6,1080.5 L234.6,1077.8 L235.6,1075.0 L236.6,1072.3 L237.6,1069.5 L238.6,1066.8 L239.6,1064.0 L240.6,1061.3 L241.6,1058.5 L242.6,1055.8 L243.6,1053.1 L244.6,1050.4 L245.6,1047.8 L246.6,1045.2 L247.6,1042.7 L248.6,1040.3 L249.6,1038.0 L250.6,1035.9 L251.6,1033.8 L252.6,1031.9 L253.6,1030.2 L254.6,1028.6 L255.6,1027.2 L256.6,1026.0 L257.6,1025.0 L258.6,1024.1 L259.6,1023.4 L260.6,1022.9 L261.6,1022.5 L262.6,1022.3 L263.6,1022.3 L264.6,1022.4 L265.6,1022.7 L266.6,1023.1 L267.6,1023.8 L268.6,1024.6 L269.6,1025.6 L270.6,1026.7 L271.6,1028.0 L272.6,1029.5 L273.6,1031.0 L274.6,1032.8 L275.6,1034.7 L276.6,1036.7 L277.6,1038.8 L278.6,1041.0 L279.6,1043.4 L280.6,1045.9 L281.6,1048.4 L282.6,1051.1 L283.6,1053.8 L284.6,1056.6 L285.6,1059.5 L286.6,1062.4 L287.6,1065.4 L288.6,1068.4 L289.6,1071.4 L290.6,1074.5 L291.6,1077.5 L292.6,1080.6 L293.6,1083.7 L294.6,1086.8 L295.6,1089.8 L296.6,1092.8 L297.6,1095.8 L298.6,1098.8 L299.6,1101.7 L300.6,1104.6 L301.6,1107.4 L302.6,1110.2 L303.6,1112.9 L304.6,1115.5 L305.6,1118.1 L306.6,1120.7 L307.6,1123.1 L308.6,1125.5 L309.6,1127.8 L310.6,1130.1 L311.6,1132.3 L312.6,1134.4 L313.6,1136.5 L314.6,1138.5 L315.6,1140.5 L316.6,1142.4 L317.6,1144.2 L318.6,1146.0 L319.6,1147.7 L320.6,1149.4 L321.6,1151.0 L322.6,1152.6 L323.6,1154.1 L324.6,1155.5 L325.6,1156.9 L326.6,1158.3 L327.6,1159.6 L328.6,1160.8 L329.6,1162.0 L330.6,1163.2 L331.6,1164.3 L332.6,1165.3 L333.6,1166.3 L334.6,1167.3 L335.6,1168.2 L336.6,1169.1 L337.6,1169.9 L338.6,1170.7 L339.6,1171.5 L340.6,1172.2 L341.6,1172.9 L342.6,1173.6 L343.6,1174.2 L344.6,1174.8 L345.6,1175.4 L346.6,1176.0 L347.6,1176.5 L348.6,1177.0 L349.6,1177.5 L350.6,1177.9 L351.6,1178.4 L352.6,1178.8 L353.6,1179.2 L354.6,1179.6 L355.6,1179.9 L356.6,1180.3 L357.6,1180.6 L358.6,1180.9 L359.6,1181.2 L360.6,1181.5 L361.6,1181.8 L362.6,1182.0 L363.6,1182.3 L364.6,1182.5 L365.6,1182.7 L366.6,1183.0 L367.6,1183.2 L368.6,1183.4 L369.6,1183.5 L370.6,1183.7 L371.6,1183.9 L372.6,1184.1 L373.6,1184.2 L374.6,1184.4 L375.6,1184.5 L376.6,1184.7 L377.6,1184.8 L378.6,1184.9 L379.6,1185.1 L380.6,1185.2 L381.6,1185.3 L382.6,1185.5 L383.6,1185.6 L384.6,1185.7 L385.6,1185.8 L386.6,1185.9 L387.6,1186.0 L388.6,1186.1 L389.6,1186.3 L390.6,1186.4 L391.6,1186.5 L392.6,1186.6 L393.6,1186.7 L394.6,1186.8 L395.6,1186.9 L396.6,1187.0 L397.6,1187.1 L398.6,1187.1 L399.6,1187.2 L400.6,1187.3 L401.6,1187.4 L402.6,1187.5 L403.6,1187.6 L404.6,1187.7 L405.6,1187.8 L406.6,1187.8 L407.6,1187.9 L408.6,1188.0 L409.6,1188.1 L410.6,1188.2 L411.6,1188.2 L412.6,1188.3 L413.6,1188.4 L414.6,1188.5 L415.6,1188.5 L416.6,1188.6 L417.6,1188.7 L418.6,1188.7 L419.6,1188.8 L420.6,1188.9 L421.6,1188.9 L422.6,1189.0 L423.6,1189.1 L424.6,1189.1 L425.6,1189.2 L426.6,1189.3 L427.6,1189.3 L428.6,1189.4 L429.6,1189.5 L430.6,1189.5 L431.6,1189.6 L432.6,1189.6 L433.6,1189.7 L434.6,1189.8 L435.6,1189.8 L436.6,1189.9 L437.6,1190.0 L438.6,1190.0 L439.6,1190.1 L440.6,1190.1 L441.6,1190.2 L442.6,1190.2 L443.6,1190.3 L444.6,1190.4 L445.6,1190.4 L446.6,1190.5 L447.6,1190.5 L448.6,1190.6 L449.6,1190.6 L450.6,1190.7 L451.6,1190.8 L452.6,1190.8 L453.6,1190.9 L454.6,1190.9 L455.6,1191.0 L456.6,1191.0 L457.6,1191.1 L458.6,1191.1 L459.6,1191.1 L460.6,1191.2 L461.6,1191.2 L462.6,1191.3 L463.6,1191.3 L464.6,1191.4 L465.6,1191.4 L466.6,1191.4 L467.6,1191.5 L468.6,1191.5 L469.6,1191.5 L470.6,1191.6 L471.6,1191.6 L472.6,1191.6 L473.6,1191.7 L474.6,1191.7 L475.6,1191.7 L476.6,1191.7 L477.6,1191.8 L478.6,1191.8 L479.6,1191.8" stroke="#ff0000" stroke-width="3.0"/>
<path d="M85.6,1185.5 L86.6,1185.5 L87.6,1185.5 L88.6,1185.5 L89.6,1185.5 L90.6,1185.5 L91.6,1185.5 L92.6,1185.5 L93.6,1185.5 L94.6,1185.5 L95.6,1185.5 L96.6,1185.5 L97.6,1185.5 L98.6,1185.5 L99.6,1185.5 L100.6,1185.5 L101.6,1185.5 L102.6,1185.5 L103.6,1185.5 L104.6,1185.5 L105.6,1185.5 L106.6,1185.5 L107.6,1185.5 L108.6,1185.5 L109.6,1185.5 L110.6,1185.5 L111.6,1185.5 L112.6,1185.5 L113.6,1185.5 L114.6,1185.4 L115.6,1185.4 L116.6,1185.4 L117.6,1185.4 L118.6,1185.4 L119.6,1185.4 L120.6,1185.4 L121.6,1185.4 L122.6,1185.4 L123.6,1185.4 L124.6,1185.4 L125.6,1185.4 L126.6,1185.4 L127.6,1185.4 L128.6,1185.4 L129.6,1185.4 L130.6,1185.4 L131.6,1185.4 L132.6,1185.4 L133.6,1185.4 L134.6,1185.4 L135.6,1185.4 L136.6,1185.4 L137.6,1185.4 L138.6,1185.4 L139.6,1185.3 L140.6,1185.3 L141.6,1185.3 L142.6,1185.3 L143.6,1185.3 L144.6,1185.3 L145.6,1185.3 L146.6,1185.3 L147.6,1185.3 L148.6,1185.3 L149.6,1185.3 L150.6,1185.3 L151.6,1185.3 L152.6,1185.3 L153.6,1185.3 L154.6,1185.3 L155.6,1185.3 L156.6,1185.3 L157.6,1185.3 L158.6,1185.3 L159.6,1185.3 L160.6,1185.3 L161.6,1185.2 L162.6,1185.2 L163.6,1185.2 L164.6,1185.2 L165.6,1185.2 L166.6,1185.2 L167.6,1185.2 L168.6,1185.2 L169.6,1185.2 L170.6,1185.2 L171.6,1185.2 L172.6,1185.2 L173.6,1185.2 L174.6,1185.2 L175.6,1185.2 L176.6,1185.2 L177.6,1185.2 L178.6,1185.2 L179.6,1185.1 L180.6,1185.1 L181.6,1185.1 L182.6,1185.1 L183.6,1185.1 L184.6,1185.1 L185.6,1185.1 L186.6,1185.1 L187.6,1185.1 L188.6,1185.1 L189.6,1185.1 L190.6,1185.1 L191.6,1185.1 L192.6,1185.1 L193.6,1185.1 L194.6,1185.1 L195.6,1185.1 L196.6,1185.1 L197.6,1185.1 L198.6,1185.1 L199.6,1185.1 L200.6,1185.1 L201.6,1185.1 L202.6,1185.1 L203.6,1185.1 L204.6,1185.1 L205.6,1185.1 L206.6,1185.1 L207.6,1185.1 L208.6,1185.1 L209.6,1185.1 L210.6,1185.1 L211.6,1185.1 L212.6,1185.1 L213.6,1185.1 L214.6,1185.1 L215.6,1185.1 L216.6,1185.2 L217.6,1185.2 L218.6,1185.2 L219.6,1185.2 L220.6,1185.2 L221.6,1185.2 L222.6,1185.2 L223.6,1185.2 L224.6,1185.2 L225.6,1185.3 L226.6,1185.3 L227.6,1185.3 L228.6,1185.3 L229.6,1185.3 L230.6,1185.3 L231.6,1185.3 L232.6,1185.4 L233.6,1185.4 L234.6,1185.4 L235.6,1185.4 L236.6,1185.4 L237.6,1185.4 L238.6,1185.5 L239.6,1185.5 L240.6,1185.5 L241.6,1185.5 L242.6,1185.5 L243.6,1185.5 L244.6,1185.6 L245.6,1185.6 L246.6,1185.6 L247.6,1185.6 L248.6,1185.6 L249.6,1185.7 L250.6,1185.7 L251.6,1185.7 L252.6,1185.7 L253.6,1185.7 L254.6,1185.7 L255.6,1185.8 L256.6,1185.8 L257.6,1185.8 L258.6,1185.8 L259.6,1185.8 L260.6,1185.8 L261.6,1185.8 L262.6,1185.8 L263.6,1185.8 L264.6,1185.8 L265.6,1185.8 L266.6,1185.8 L267.6,1185.8 L268.6,1185.8 L269.6,1185.7 L270.6,1185.7 L271.6,1185.7 L272.6,1185.6 L273.6,1185.6 L274.6,1185.5 L275.6,1185.5 L276.6,1185.4 L277.6,1185.4 L278.6,1185.3 L279.6,1185.2 L280.6,1185.1 L281.6,1185.0 L282.6,1184.8 L283.6,1184.7 L284.6,1184.5 L285.6,1184.3 L286.6,1184.1 L287.6,1183.9 L288.6,1183.6 L289.6,1183.4 L290.6,1183.0 L291.6,1182.7 L292.6,1182.3 L293.6,1181.8 L294.6,1181.3 L295.6,1180.8 L296.6,1180.2 L297.6,1179.6 L298.6,1178.9 L299.6,1178.2 L300.6,1177.4 L301.6,1176.5 L302.6,1175.6 L303.6,1174.6 L304.6,1173.6 L305.6,1172.5 L306.6,1171.3 L307.6,1170.0 L308.6,1168.7 L309.6,1167.3 L310.6,1165.7 L311.6,1164.2 L312.6,1162.5 L313.6,1160.7 L314.6,1158.8 L315.6,1156.8 L316.6,1154.7 L317.6,1152.5 L318.6,1150.2 L319.6,1147.8 L320.6,1145.3 L321.6,1142.7 L322.6,1140.0 L323.6,1137.2 L324.6,1134.2 L325.6,1131.2 L326.6,1128.0 L327.6,1124.7 L328.6,1121.4 L329.6,1117.9 L330.6,1114.3 L331.6,1110.6 L332.6,1106.8 L333.6,1103.0 L334.6,1099.0 L335.6,1094.9 L336.6,1090.8 L337.6,1086.6 L338.6,1082.3 L339.6,1077.9 L340.6,1073.5 L341.6,1069.0 L342.6,1064.4 L343.6,1059.8 L344.6,1055.2 L345.6,1050.6 L346.6,1045.9 L347.6,1041.3 L348.6,1036.6 L349.6,1032.0 L350.6,1027.4 L351.6,1022.9 L352.6,1018.4 L353.6,1014.0 L354.6,1009.7 L355.6,1005.5 L356.6,1001.4 L357.6,997.5 L358.6,993.8 L359.6,990.2 L360.6,986.8 L361.6,983.6 L362.6,980.6 L363.6,977.8 L364.6,975.3 L365.6,973.0 L366.6,970.9 L367.6,969.1 L368.6,967.5 L369.6,966.2 L370.6,965.1 L371.6,964.2 L372.6,963.6 L373.6,963.3 L374.6,963.2 L375.6,963.4 L376.6,963.8 L377.6,964.5 L378.6,965.5 L379.6,966.7 L380.6,968.2 L381.6,969.9 L382.6,971.8 L383.6,974.0 L384.6,976.5 L385.6,979.1 L386.6,982.0 L387.6,985.1 L388.6,988.4 L389.6,991.8 L390.6,995.5 L391.6,999.3 L392.6,1003.3 L393.6,1007.4 L394.6,1011.6 L395.6,1015.9 L396.6,1020.4 L397.6,1024.9 L398.6,1029.5 L399.6,1034.2 L400.6,1038.9 L401.6,1043.7 L402.6,1048.5 L403.6,1053.3 L404.6,1058.1 L405.6,1062.9 L406.6,1067.6 L407.6,1072.4 L408.6,1077.0 L409.6,1081.6 L410.6,1086.2 L411.6,1090.7 L412.6,1095.1 L413.6,1099.3 L414.6,1103.5 L415.6,1107.6 L416.6,1111.6 L417.6,1115.5 L418.6,1119.2 L419.6,1122.9 L420.6,1126.4 L421.6,1129.7 L422.6,1133.0 L423.6,1136.1 L424.6,1139.2 L425.6,1142.1 L426.6,1144.8 L427.6,1147.5 L428.6,1150.1 L429.6,1152.5 L430.6,1154.8 L431.6,1157.1 L432.6,1159.2 L433.6,1161.2 L434.6,1163.2 L435.6,1165.0 L436.6,1166.7 L437.6,1168.4 L438.6,1170.0 L439.6,1171.4 L440.6,1172.9 L441.6,1174.2 L442.6,1175.4 L443.6,1176.6 L444.6,1177.7 L445.6,1178.7 L446.6,1179.7 L447.6,1180.6 L448.6,1181.4 L449.6,1182.2 L450.6,1182.9 L451.6,1183.6 L452.6,1184.2 L453.6,1184.8 L454.6,1185.3 L455.6,1185.7 L456.6,1186.2 L457.6,1186.6 L458.6,1186.9 L459.6,1187.3 L460.6,1187.6 L461.6,1187.9 L462.6,1188.1 L463.6,1188.4 L464.6,1188.6 L465.6,1188.8 L466.6,1189.0 L467.6,1189.2 L468.6,1189.4 L469.6,1189.5 L470.6,1189.7 L471.6,1189.8 L472.6,1189.9 L473.6,1190.1 L474.6,1190.2 L475.6,1190.3 L476.6,1190.4 L477.6,1190.4 L478.6,1190.5 L479.6,1190.6 L480.6,1190.7 L481.6,1190.7 L482.6,1190.8 L483.6,1190.8 L484.6,1190.9 L485.6,1190.9 L486.6,1191.0 L487.6,1191.0 L488.6,1191.0 L489.6,1191.1 L490.6,1191.1 L491.6,1191.1 L492.6,1191.1 L493.6,1191.2 L494.6,1191.2 L495.6,1191.2 L496.6,1191.2 L497.6,1191.3 L498.6,1191.3 L499.6,1191.3 L500.6,1191.3 L501.6,1191.3 L502.6,1191.3 L503.6,1191.3 L504.6,1191.4 L505.6,1191.4 L506.6,1191.4 L507.6,1191.4 L508.6,1191.4" stroke="#0000ff" stroke-width="3.0"/>
</g>
<rect x="85.60" y="897.20" width="423.90" height="339.25" fill="none" stroke="#000" stroke-width="2.9"/>
<line x1="85.60" y1="1236.45" x2="85.60" y2="1242.85" stroke="#000" stroke-width="2.9"/>
<text transform="translate(85.60,1268.05) scale(1.000,1.040)" font-size="28.00" text-anchor="middle">188</text>
<line x1="179.80" y1="1236.45" x2="179.80" y2="1242.85" stroke="#000" stroke-width="2.9"/>
<text transform="translate(179.80,1268.05) scale(1.000,1.040)" font-size="28.00" text-anchor="middle">186</text>
<line x1="274.00" y1="1236.45" x2="274.00" y2="1242.85" stroke="#000" stroke-width="2.9"/>
<text transform="translate(274.00,1268.05) scale(1.000,1.040)" font-size="28.00" text-anchor="middle">184</text>
<line x1="368.20" y1="1236.45" x2="368.20" y2="1242.85" stroke="#000" stroke-width="2.9"/>
<text transform="translate(368.20,1268.05) scale(1.000,1.040)" font-size="28.00" text-anchor="middle">182</text>
<line x1="462.40" y1="1236.45" x2="462.40" y2="1242.85" stroke="#000" stroke-width="2.9"/>
<text transform="translate(462.40,1268.05) scale(1.000,1.040)" font-size="28.00" text-anchor="middle">180</text>
<text transform="translate(294.50,1298.85) scale(1.000,1.040)" font-size="33.30" text-anchor="middle">Binding Energy (eV)</text>
<text transform="translate(61.70,1083.12) rotate(-90) scale(1.000,1.040)" font-size="32.30" text-anchor="middle" word-spacing="5.5">Intensity (a.u.)</text>
<text transform="translate(50.70,941.00) scale(1.000,1.000)" font-size="45.90" text-anchor="middle">(g)</text>
<text transform="translate(88.90,926.40) scale(1.000,1.040)" font-size="27.30">30YSZ</text>
<text transform="translate(127.30,973.00) scale(1.000,1.040)" font-size="27.30">Zr 3d<tspan font-size="18.2" dy="6.6">3/2</tspan></text>
<text transform="translate(240.00,935.00) scale(1.000,1.040)" font-size="27.30">Zr 3d<tspan font-size="18.2" dy="6.6">5/2</tspan></text>
<line x1="184.80" y1="991.00" x2="252.65" y2="1036.67" stroke="#000" stroke-width="2.7"/>
<polygon points="269.24,1047.84 248.03,1039.95 253.95,1031.16" fill="#000"/>
<line x1="302.10" y1="947.00" x2="362.09" y2="982.57" stroke="#000" stroke-width="2.7"/>
<polygon points="379.29,992.76 357.66,986.10 363.07,976.99" fill="#000"/>
</g>
<g>
<clipPath id="clip_h"><rect x="594.50" y="897.30" width="422.90" height="338.20"/></clipPath>
<g clip-path="url(#clip_h)" fill="none" stroke-linejoin="round" stroke-linecap="butt">
<path d="M594.5,1199.9 L595.5,1199.9 L596.5,1199.9 L597.5,1199.8 L598.5,1199.8 L599.5,1199.8 L600.5,1199.8 L601.5,1199.7 L602.5,1199.7 L603.5,1199.6 L604.5,1199.6 L605.5,1199.6 L606.5,1199.5 L607.5,1199.5 L608.5,1199.4 L609.5,1199.4 L610.5,1199.4 L611.5,1199.3 L612.5,1199.3 L613.5,1199.3 L614.5,1199.2 L615.5,1199.2 L616.5,1199.1 L617.5,1199.1 L618.5,1199.0 L619.5,1199.0 L620.5,1198.9 L621.5,1198.9 L622.5,1198.8 L623.5,1198.8 L624.5,1198.7 L625.5,1198.6 L626.5,1198.6 L627.5,1198.5 L628.5,1198.4 L629.5,1198.3 L630.5,1198.2 L631.5,1198.1 L632.5,1198.0 L633.5,1197.9 L634.5,1197.8 L635.5,1197.7 L636.5,1197.6 L637.5,1197.5 L638.5,1197.4 L639.5,1197.2 L640.5,1197.1 L641.5,1196.9 L642.5,1196.8 L643.5,1196.6 L644.5,1196.4 L645.5,1196.2 L646.5,1196.1 L647.5,1195.9 L648.5,1195.7 L649.5,1195.5 L650.5,1195.3 L651.5,1195.1 L652.5,1194.9 L653.5,1194.7 L654.5,1194.5 L655.5,1194.3 L656.5,1194.1 L657.5,1193.9 L658.5,1193.7 L659.5,1193.4 L660.5,1193.2 L661.5,1193.0 L662.5,1192.8 L663.5,1192.5 L664.5,1192.2 L665.5,1192.0 L666.5,1191.7 L667.5,1191.4 L668.5,1191.1 L669.5,1190.7 L670.5,1190.4 L671.5,1190.0 L672.5,1189.6 L673.5,1189.1 L674.5,1188.7 L675.5,1188.2 L676.5,1187.7 L677.5,1187.1 L678.5,1186.5 L679.5,1185.9 L680.5,1185.3 L681.5,1184.6 L682.5,1183.8 L683.5,1183.1 L684.5,1182.2 L685.5,1181.4 L686.5,1180.5 L687.5,1179.5 L688.5,1178.5 L689.5,1177.5 L690.5,1176.4 L691.5,1175.3 L692.5,1174.2 L693.5,1173.0 L694.5,1171.7 L695.5,1170.4 L696.5,1169.1 L697.5,1167.8 L698.5,1166.4 L699.5,1164.9 L700.5,1163.5 L701.5,1162.0 L702.5,1160.4 L703.5,1158.8 L704.5,1157.2 L705.5,1155.6 L706.5,1153.9 L707.5,1152.2 L708.5,1150.4 L709.5,1148.6 L710.5,1146.8 L711.5,1145.0 L712.5,1143.1 L713.5,1141.2 L714.5,1139.2 L715.5,1137.2 L716.5,1135.2 L717.5,1133.1 L718.5,1131.0 L719.5,1128.9 L720.5,1126.7 L721.5,1124.5 L722.5,1122.3 L723.5,1120.0 L724.5,1117.7 L725.5,1115.3 L726.5,1112.9 L727.5,1110.5 L728.5,1108.1 L729.5,1105.6 L730.5,1103.1 L731.5,1100.5 L732.5,1097.9 L733.5,1095.3 L734.5,1092.7 L735.5,1090.1 L736.5,1087.4 L737.5,1084.7 L738.5,1082.0 L739.5,1079.3 L740.5,1076.6 L741.5,1073.8 L742.5,1071.1 L743.5,1068.3 L744.5,1065.6 L745.5,1062.8 L746.5,1060.1 L747.5,1057.3 L748.5,1054.6 L749.5,1051.9 L750.5,1049.2 L751.5,1046.5 L752.5,1043.8 L753.5,1041.1 L754.5,1038.4 L755.5,1035.8 L756.5,1033.2 L757.5,1030.5 L758.5,1027.9 L759.5,1025.4 L760.5,1022.8 L761.5,1020.3 L762.5,1017.8 L763.5,1015.3 L764.5,1012.9 L765.5,1010.5 L766.5,1008.2 L767.5,1005.9 L768.5,1003.6 L769.5,1001.4 L770.5,999.3 L771.5,997.2 L772.5,995.2 L773.5,993.2 L774.5,991.3 L775.5,989.5 L776.5,987.7 L777.5,986.0 L778.5,984.4 L779.5,982.9 L780.5,981.4 L781.5,980.0 L782.5,978.8 L783.5,977.6 L784.5,976.5 L785.5,975.5 L786.5,974.6 L787.5,973.8 L788.5,973.1 L789.5,972.5 L790.5,972.1 L791.5,971.6 L792.5,971.3 L793.5,971.1 L794.5,971.0 L795.5,971.0 L796.5,971.1 L797.5,971.3 L798.5,971.5 L799.5,971.9 L800.5,972.3 L801.5,972.8 L802.5,973.4 L803.5,974.1 L804.5,974.8 L805.5,975.5 L806.5,976.3 L807.5,977.2 L808.5,978.0 L809.5,979.0 L810.5,979.9 L811.5,980.8 L812.5,981.8 L813.5,982.7 L814.5,983.7 L815.5,984.6 L816.5,985.6 L817.5,986.5 L818.5,987.4 L819.5,988.2 L820.5,989.0 L821.5,989.8 L822.5,990.5 L823.5,991.2 L824.5,991.8 L825.5,992.3 L826.5,992.8 L827.5,993.2 L828.5,993.4 L829.5,993.6 L830.5,993.8 L831.5,993.8 L832.5,993.7 L833.5,993.5 L834.5,993.2 L835.5,992.8 L836.5,992.3 L837.5,991.7 L838.5,991.0 L839.5,990.2 L840.5,989.3 L841.5,988.3 L842.5,987.2 L843.5,986.0 L844.5,984.7 L845.5,983.3 L846.5,981.8 L847.5,980.2 L848.5,978.4 L849.5,976.6 L850.5,974.6 L851.5,972.6 L852.5,970.4 L853.5,968.2 L854.5,965.9 L855.5,963.5 L856.5,961.1 L857.5,958.7 L858.5,956.2 L859.5,953.7 L860.5,951.3 L861.5,948.9 L862.5,946.5 L863.5,944.3 L864.5,942.0 L865.5,939.9 L866.5,937.9 L867.5,936.0 L868.5,934.2 L869.5,932.6 L870.5,931.1 L871.5,929.7 L872.5,928.5 L873.5,927.5 L874.5,926.7 L875.5,926.0 L876.5,925.5 L877.5,925.2 L878.5,925.2 L879.5,925.3 L880.5,925.6 L881.5,926.1 L882.5,926.8 L883.5,927.7 L884.5,928.8 L885.5,930.2 L886.5,931.7 L887.5,933.4 L888.5,935.3 L889.5,937.4 L890.5,939.6 L891.5,942.0 L892.5,944.6 L893.5,947.2 L894.5,949.9 L895.5,952.8 L896.5,955.7 L897.5,958.8 L898.5,961.9 L899.5,965.3 L900.5,968.8 L901.5,972.4 L902.5,976.3 L903.5,980.3 L904.5,984.6 L905.5,989.0 L906.5,993.6 L907.5,998.4 L908.5,1003.3 L909.5,1008.4 L910.5,1013.6 L911.5,1018.8 L912.5,1024.2 L913.5,1029.6 L914.5,1035.0 L915.5,1040.5 L916.5,1046.0 L917.5,1051.5 L918.5,1056.9 L919.5,1062.4 L920.5,1067.8 L921.5,1073.1 L922.5,1078.4 L923.5,1083.7 L924.5,1088.9 L925.5,1093.9 L926.5,1098.9 L927.5,1103.9 L928.5,1108.7 L929.5,1113.4 L930.5,1117.9 L931.5,1122.4 L932.5,1126.8 L933.5,1131.0 L934.5,1135.1 L935.5,1139.1 L936.5,1142.9 L937.5,1146.6 L938.5,1150.2 L939.5,1153.6 L940.5,1156.8 L941.5,1159.9 L942.5,1162.9 L943.5,1165.6 L944.5,1168.3 L945.5,1170.8 L946.5,1173.1 L947.5,1175.4 L948.5,1177.5 L949.5,1179.5 L950.5,1181.3 L951.5,1183.1 L952.5,1184.7 L953.5,1186.3 L954.5,1187.7 L955.5,1189.1 L956.5,1190.4 L957.5,1191.6 L958.5,1192.8 L959.5,1193.8 L960.5,1194.8 L961.5,1195.8 L962.5,1196.6 L963.5,1197.5 L964.5,1198.2 L965.5,1198.9 L966.5,1199.6 L967.5,1200.3 L968.5,1200.9 L969.5,1201.4 L970.5,1201.9 L971.5,1202.4 L972.5,1202.9 L973.5,1203.3 L974.5,1203.7 L975.5,1204.1 L976.5,1204.5 L977.5,1204.8 L978.5,1205.1 L979.5,1205.4 L980.5,1205.7 L981.5,1205.9 L982.5,1206.1 L983.5,1206.3 L984.5,1206.5 L985.5,1206.6 L986.5,1206.8 L987.5,1206.9 L988.5,1207.0 L989.5,1207.1 L990.5,1207.2 L991.5,1207.2 L992.5,1207.3 L993.5,1207.4 L994.5,1207.4 L995.5,1207.4 L996.5,1207.5 L997.5,1207.5 L998.5,1207.5 L999.5,1207.6 L1000.5,1207.6 L1001.5,1207.6 L1002.5,1207.6 L1003.5,1207.6 L1004.5,1207.6 L1005.5,1207.6 L1006.5,1207.6 L1007.5,1207.7 L1008.5,1207.7 L1009.5,1207.7 L1010.5,1207.7 L1011.5,1207.7 L1012.5,1207.7 L1013.5,1207.7 L1014.5,1207.7 L1015.5,1207.7 L1016.5,1207.7" stroke="#000" stroke-width="2.7"/>
<path d="M594.5,1200.3 L595.5,1200.3 L596.5,1200.3 L597.5,1200.2 L598.5,1200.2 L599.5,1200.2 L600.5,1200.2 L601.5,1200.1 L602.5,1200.1 L603.5,1200.1 L604.5,1200.0 L605.5,1200.0 L606.5,1199.9 L607.5,1199.9 L608.5,1199.8 L609.5,1199.8 L610.5,1199.7 L611.5,1199.7 L612.5,1199.6 L613.5,1199.6 L614.5,1199.5 L615.5,1199.4 L616.5,1199.4 L617.5,1199.3 L618.5,1199.3 L619.5,1199.2 L620.5,1199.1 L621.5,1199.1 L622.5,1199.0 L623.5,1198.9 L624.5,1198.9 L625.5,1198.8 L626.5,1198.7 L627.5,1198.6 L628.5,1198.6 L629.5,1198.5 L630.5,1198.4 L631.5,1198.3 L632.5,1198.2 L633.5,1198.1 L634.5,1198.0 L635.5,1197.9 L636.5,1197.8 L637.5,1197.7 L638.5,1197.5 L639.5,1197.4 L640.5,1197.2 L641.5,1197.1 L642.5,1196.9 L643.5,1196.8 L644.5,1196.6 L645.5,1196.4 L646.5,1196.2 L647.5,1196.1 L648.5,1195.9 L649.5,1195.7 L650.5,1195.5 L651.5,1195.2 L652.5,1195.0 L653.5,1194.8 L654.5,1194.6 L655.5,1194.4 L656.5,1194.2 L657.5,1193.9 L658.5,1193.7 L659.5,1193.5 L660.5,1193.2 L661.5,1193.0 L662.5,1192.7 L663.5,1192.5 L664.5,1192.2 L665.5,1191.9 L666.5,1191.7 L667.5,1191.4 L668.5,1191.1 L669.5,1190.8 L670.5,1190.4 L671.5,1190.1 L672.5,1189.7 L673.5,1189.3 L674.5,1188.9 L675.5,1188.5 L676.5,1188.1 L677.5,1187.6 L678.5,1187.1 L679.5,1186.5 L680.5,1186.0 L681.5,1185.4 L682.5,1184.8 L683.5,1184.1 L684.5,1183.4 L685.5,1182.7 L686.5,1181.9 L687.5,1181.1 L688.5,1180.2 L689.5,1179.3 L690.5,1178.3 L691.5,1177.3 L692.5,1176.2 L693.5,1175.1 L694.5,1174.0 L695.5,1172.7 L696.5,1171.4 L697.5,1170.1 L698.5,1168.7 L699.5,1167.3 L700.5,1165.8 L701.5,1164.2 L702.5,1162.6 L703.5,1161.0 L704.5,1159.3 L705.5,1157.6 L706.5,1155.8 L707.5,1154.0 L708.5,1152.2 L709.5,1150.3 L710.5,1148.4 L711.5,1146.5 L712.5,1144.5 L713.5,1142.5 L714.5,1140.5 L715.5,1138.4 L716.5,1136.2 L717.5,1134.1 L718.5,1131.9 L719.5,1129.7 L720.5,1127.4 L721.5,1125.1 L722.5,1122.8 L723.5,1120.4 L724.5,1118.0 L725.5,1115.6 L726.5,1113.1 L727.5,1110.7 L728.5,1108.1 L729.5,1105.6 L730.5,1103.1 L731.5,1100.5 L732.5,1097.9 L733.5,1095.3 L734.5,1092.6 L735.5,1090.0 L736.5,1087.3 L737.5,1084.7 L738.5,1082.0 L739.5,1079.3 L740.5,1076.6 L741.5,1073.9 L742.5,1071.2 L743.5,1068.5 L744.5,1065.8 L745.5,1063.1 L746.5,1060.4 L747.5,1057.6 L748.5,1054.9 L749.5,1052.2 L750.5,1049.5 L751.5,1046.8 L752.5,1044.1 L753.5,1041.4 L754.5,1038.7 L755.5,1036.0 L756.5,1033.3 L757.5,1030.6 L758.5,1027.9 L759.5,1025.3 L760.5,1022.7 L761.5,1020.0 L762.5,1017.5 L763.5,1014.9 L764.5,1012.4 L765.5,1010.0 L766.5,1007.6 L767.5,1005.2 L768.5,1002.9 L769.5,1000.7 L770.5,998.5 L771.5,996.5 L772.5,994.5 L773.5,992.6 L774.5,990.7 L775.5,989.0 L776.5,987.4 L777.5,985.8 L778.5,984.4 L779.5,983.0 L780.5,981.7 L781.5,980.6 L782.5,979.5 L783.5,978.5 L784.5,977.6 L785.5,976.9 L786.5,976.2 L787.5,975.6 L788.5,975.1 L789.5,974.7 L790.5,974.4 L791.5,974.2 L792.5,974.1 L793.5,974.1 L794.5,974.2 L795.5,974.5 L796.5,974.8 L797.5,975.3 L798.5,975.9 L799.5,976.6 L800.5,977.5 L801.5,978.4 L802.5,979.5 L803.5,980.6 L804.5,981.9 L805.5,983.3 L806.5,984.8 L807.5,986.3 L808.5,988.0 L809.5,989.8 L810.5,991.6 L811.5,993.5 L812.5,995.5 L813.5,997.6 L814.5,999.8 L815.5,1002.0 L816.5,1004.3 L817.5,1006.6 L818.5,1009.0 L819.5,1011.4 L820.5,1013.9 L821.5,1016.5 L822.5,1019.1 L823.5,1021.7 L824.5,1024.4 L825.5,1027.1 L826.5,1029.9 L827.5,1032.7 L828.5,1035.6 L829.5,1038.4 L830.5,1041.3 L831.5,1044.3 L832.5,1047.2 L833.5,1050.2 L834.5,1053.2 L835.5,1056.1 L836.5,1059.1 L837.5,1062.1 L838.5,1065.1 L839.5,1068.0 L840.5,1071.0 L841.5,1073.9 L842.5,1076.8 L843.5,1079.7 L844.5,1082.6 L845.5,1085.4 L846.5,1088.3 L847.5,1091.1 L848.5,1093.8 L849.5,1096.6 L850.5,1099.3 L851.5,1102.0 L852.5,1104.7 L853.5,1107.4 L854.5,1110.0 L855.5,1112.6 L856.5,1115.2 L857.5,1117.7 L858.5,1120.3 L859.5,1122.8 L860.5,1125.2 L861.5,1127.7 L862.5,1130.1 L863.5,1132.5 L864.5,1134.8 L865.5,1137.1 L866.5,1139.4 L867.5,1141.6 L868.5,1143.8 L869.5,1145.9 L870.5,1148.0 L871.5,1150.0 L872.5,1152.0 L873.5,1154.0 L874.5,1155.9 L875.5,1157.7 L876.5,1159.5 L877.5,1161.3 L878.5,1163.0 L879.5,1164.6 L880.5,1166.2 L881.5,1167.8 L882.5,1169.3 L883.5,1170.7 L884.5,1172.2 L885.5,1173.5 L886.5,1174.8 L887.5,1176.1 L888.5,1177.3 L889.5,1178.5 L890.5,1179.7 L891.5,1180.8 L892.5,1181.9 L893.5,1182.9 L894.5,1183.9 L895.5,1184.8 L896.5,1185.8 L897.5,1186.6 L898.5,1187.5 L899.5,1188.3 L900.5,1189.1 L901.5,1189.8 L902.5,1190.5 L903.5,1191.2 L904.5,1191.9 L905.5,1192.5 L906.5,1193.1 L907.5,1193.7 L908.5,1194.2 L909.5,1194.7 L910.5,1195.2 L911.5,1195.7 L912.5,1196.1 L913.5,1196.6 L914.5,1197.0 L915.5,1197.4 L916.5,1197.8 L917.5,1198.1 L918.5,1198.4 L919.5,1198.8 L920.5,1199.1 L921.5,1199.4 L922.5,1199.7 L923.5,1199.9 L924.5,1200.2 L925.5,1200.4 L926.5,1200.7 L927.5,1200.9 L928.5,1201.1 L929.5,1201.3 L930.5,1201.5 L931.5,1201.7 L932.5,1201.9 L933.5,1202.0 L934.5,1202.2 L935.5,1202.3 L936.5,1202.5 L937.5,1202.6 L938.5,1202.7 L939.5,1202.9 L940.5,1203.0 L941.5,1203.1 L942.5,1203.2 L943.5,1203.3 L944.5,1203.4 L945.5,1203.5 L946.5,1203.6 L947.5,1203.7 L948.5,1203.8 L949.5,1203.9 L950.5,1204.0 L951.5,1204.0 L952.5,1204.1 L953.5,1204.2 L954.5,1204.3 L955.5,1204.4 L956.5,1204.4 L957.5,1204.5 L958.5,1204.6 L959.5,1204.6 L960.5,1204.7 L961.5,1204.7 L962.5,1204.8 L963.5,1204.9 L964.5,1204.9 L965.5,1205.0 L966.5,1205.0 L967.5,1205.1 L968.5,1205.1 L969.5,1205.2 L970.5,1205.2 L971.5,1205.2 L972.5,1205.3 L973.5,1205.3 L974.5,1205.4 L975.5,1205.4 L976.5,1205.5 L977.5,1205.5 L978.5,1205.5 L979.5,1205.6 L980.5,1205.6 L981.5,1205.6 L982.5,1205.7 L983.5,1205.7 L984.5,1205.8 L985.5,1205.8 L986.5,1205.8 L987.5,1205.9 L988.5,1205.9 L989.5,1206.0 L990.5,1206.0 L991.5,1206.1 L992.5,1206.1 L993.5,1206.1 L994.5,1206.2 L995.5,1206.2 L996.5,1206.3 L997.5,1206.3 L998.5,1206.4 L999.5,1206.4 L1000.5,1206.5 L1001.5,1206.5 L1002.5,1206.6 L1003.5,1206.6 L1004.5,1206.6 L1005.5,1206.7 L1006.5,1206.7 L1007.5,1206.8 L1008.5,1206.8 L1009.5,1206.8 L1010.5,1206.8 L1011.5,1206.9 L1012.5,1206.9 L1013.5,1206.9 L1014.5,1206.9 L1015.5,1207.0 L1016.5,1207.0" stroke="#ff0000" stroke-width="3.0"/>
<path d="M594.5,1204.4 L595.5,1204.4 L596.5,1204.4 L597.5,1204.4 L598.5,1204.4 L599.5,1204.4 L600.5,1204.4 L601.5,1204.4 L602.5,1204.4 L603.5,1204.4 L604.5,1204.4 L605.5,1204.4 L606.5,1204.4 L607.5,1204.4 L608.5,1204.4 L609.5,1204.4 L610.5,1204.4 L611.5,1204.4 L612.5,1204.4 L613.5,1204.4 L614.5,1204.4 L615.5,1204.4 L616.5,1204.4 L617.5,1204.4 L618.5,1204.4 L619.5,1204.4 L620.5,1204.4 L621.5,1204.4 L622.5,1204.4 L623.5,1204.4 L624.5,1204.4 L625.5,1204.4 L626.5,1204.4 L627.5,1204.4 L628.5,1204.4 L629.5,1204.4 L630.5,1204.4 L631.5,1204.4 L632.5,1204.4 L633.5,1204.4 L634.5,1204.4 L635.5,1204.4 L636.5,1204.3 L637.5,1204.3 L638.5,1204.3 L639.5,1204.3 L640.5,1204.3 L641.5,1204.3 L642.5,1204.3 L643.5,1204.3 L644.5,1204.3 L645.5,1204.3 L646.5,1204.3 L647.5,1204.3 L648.5,1204.3 L649.5,1204.3 L650.5,1204.3 L651.5,1204.3 L652.5,1204.3 L653.5,1204.3 L654.5,1204.3 L655.5,1204.3 L656.5,1204.3 L657.5,1204.3 L658.5,1204.3 L659.5,1204.3 L660.5,1204.3 L661.5,1204.3 L662.5,1204.3 L663.5,1204.3 L664.5,1204.3 L665.5,1204.3 L666.5,1204.3 L667.5,1204.3 L668.5,1204.3 L669.5,1204.3 L670.5,1204.3 L671.5,1204.3 L672.5,1204.3 L673.5,1204.3 L674.5,1204.3 L675.5,1204.3 L676.5,1204.3 L677.5,1204.3 L678.5,1204.3 L679.5,1204.3 L680.5,1204.3 L681.5,1204.3 L682.5,1204.3 L683.5,1204.3 L684.5,1204.3 L685.5,1204.3 L686.5,1204.3 L687.5,1204.3 L688.5,1204.3 L689.5,1204.3 L690.5,1204.3 L691.5,1204.3 L692.5,1204.3 L693.5,1204.3 L694.5,1204.3 L695.5,1204.3 L696.5,1204.3 L697.5,1204.3 L698.5,1204.3 L699.5,1204.3 L700.5,1204.3 L701.5,1204.3 L702.5,1204.3 L703.5,1204.4 L704.5,1204.4 L705.5,1204.4 L706.5,1204.4 L707.5,1204.4 L708.5,1204.4 L709.5,1204.5 L710.5,1204.5 L711.5,1204.5 L712.5,1204.5 L713.5,1204.5 L714.5,1204.5 L715.5,1204.6 L716.5,1204.6 L717.5,1204.6 L718.5,1204.6 L719.5,1204.7 L720.5,1204.7 L721.5,1204.7 L722.5,1204.7 L723.5,1204.8 L724.5,1204.8 L725.5,1204.8 L726.5,1204.8 L727.5,1204.9 L728.5,1204.9 L729.5,1204.9 L730.5,1204.9 L731.5,1205.0 L732.5,1205.0 L733.5,1205.0 L734.5,1205.1 L735.5,1205.1 L736.5,1205.1 L737.5,1205.1 L738.5,1205.2 L739.5,1205.2 L740.5,1205.2 L741.5,1205.3 L742.5,1205.3 L743.5,1205.3 L744.5,1205.3 L745.5,1205.4 L746.5,1205.4 L747.5,1205.4 L748.5,1205.5 L749.5,1205.5 L750.5,1205.5 L751.5,1205.5 L752.5,1205.6 L753.5,1205.6 L754.5,1205.6 L755.5,1205.6 L756.5,1205.7 L757.5,1205.7 L758.5,1205.7 L759.5,1205.7 L760.5,1205.7 L761.5,1205.8 L762.5,1205.8 L763.5,1205.8 L764.5,1205.8 L765.5,1205.8 L766.5,1205.8 L767.5,1205.8 L768.5,1205.8 L769.5,1205.8 L770.5,1205.8 L771.5,1205.8 L772.5,1205.7 L773.5,1205.7 L774.5,1205.7 L775.5,1205.7 L776.5,1205.6 L777.5,1205.6 L778.5,1205.5 L779.5,1205.4 L780.5,1205.4 L781.5,1205.3 L782.5,1205.2 L783.5,1205.1 L784.5,1205.0 L785.5,1204.9 L786.5,1204.8 L787.5,1204.6 L788.5,1204.5 L789.5,1204.3 L790.5,1204.1 L791.5,1203.9 L792.5,1203.7 L793.5,1203.5 L794.5,1203.2 L795.5,1202.9 L796.5,1202.6 L797.5,1202.3 L798.5,1201.9 L799.5,1201.5 L800.5,1201.1 L801.5,1200.6 L802.5,1200.1 L803.5,1199.5 L804.5,1198.9 L805.5,1198.2 L806.5,1197.5 L807.5,1196.7 L808.5,1195.8 L809.5,1194.9 L810.5,1193.8 L811.5,1192.8 L812.5,1191.6 L813.5,1190.3 L814.5,1189.0 L815.5,1187.6 L816.5,1186.1 L817.5,1184.6 L818.5,1182.9 L819.5,1181.2 L820.5,1179.3 L821.5,1177.4 L822.5,1175.5 L823.5,1173.4 L824.5,1171.2 L825.5,1169.0 L826.5,1166.7 L827.5,1164.3 L828.5,1161.8 L829.5,1159.2 L830.5,1156.6 L831.5,1153.8 L832.5,1151.0 L833.5,1148.1 L834.5,1145.0 L835.5,1141.9 L836.5,1138.7 L837.5,1135.4 L838.5,1131.9 L839.5,1128.4 L840.5,1124.7 L841.5,1120.9 L842.5,1117.1 L843.5,1113.1 L844.5,1109.0 L845.5,1104.9 L846.5,1100.6 L847.5,1096.3 L848.5,1091.8 L849.5,1087.4 L850.5,1082.8 L851.5,1078.2 L852.5,1073.5 L853.5,1068.8 L854.5,1064.1 L855.5,1059.3 L856.5,1054.6 L857.5,1049.8 L858.5,1045.0 L859.5,1040.3 L860.5,1035.6 L861.5,1030.9 L862.5,1026.3 L863.5,1021.8 L864.5,1017.3 L865.5,1013.0 L866.5,1008.7 L867.5,1004.6 L868.5,1000.7 L869.5,996.9 L870.5,993.3 L871.5,989.9 L872.5,986.7 L873.5,983.8 L874.5,981.0 L875.5,978.5 L876.5,976.2 L877.5,974.1 L878.5,972.3 L879.5,970.8 L880.5,969.5 L881.5,968.5 L882.5,967.7 L883.5,967.1 L884.5,966.8 L885.5,966.8 L886.5,967.0 L887.5,967.4 L888.5,968.1 L889.5,969.1 L890.5,970.3 L891.5,971.8 L892.5,973.4 L893.5,975.3 L894.5,977.4 L895.5,979.8 L896.5,982.3 L897.5,985.0 L898.5,987.9 L899.5,991.0 L900.5,994.2 L901.5,997.6 L902.5,1001.2 L903.5,1004.9 L904.5,1008.8 L905.5,1012.8 L906.5,1017.0 L907.5,1021.2 L908.5,1025.6 L909.5,1030.1 L910.5,1034.6 L911.5,1039.3 L912.5,1044.0 L913.5,1048.8 L914.5,1053.6 L915.5,1058.5 L916.5,1063.4 L917.5,1068.3 L918.5,1073.2 L919.5,1078.1 L920.5,1083.0 L921.5,1087.8 L922.5,1092.6 L923.5,1097.3 L924.5,1102.0 L925.5,1106.6 L926.5,1111.2 L927.5,1115.6 L928.5,1119.9 L929.5,1124.2 L930.5,1128.3 L931.5,1132.3 L932.5,1136.2 L933.5,1139.9 L934.5,1143.6 L935.5,1147.1 L936.5,1150.4 L937.5,1153.7 L938.5,1156.8 L939.5,1159.8 L940.5,1162.6 L941.5,1165.3 L942.5,1167.9 L943.5,1170.4 L944.5,1172.7 L945.5,1174.9 L946.5,1177.1 L947.5,1179.1 L948.5,1180.9 L949.5,1182.7 L950.5,1184.4 L951.5,1186.0 L952.5,1187.6 L953.5,1189.0 L954.5,1190.4 L955.5,1191.6 L956.5,1192.8 L957.5,1194.0 L958.5,1195.1 L959.5,1196.1 L960.5,1197.0 L961.5,1197.9 L962.5,1198.7 L963.5,1199.5 L964.5,1200.3 L965.5,1200.9 L966.5,1201.6 L967.5,1202.2 L968.5,1202.7 L969.5,1203.2 L970.5,1203.7 L971.5,1204.1 L972.5,1204.5 L973.5,1204.9 L974.5,1205.2 L975.5,1205.5 L976.5,1205.8 L977.5,1206.1 L978.5,1206.3 L979.5,1206.5 L980.5,1206.7 L981.5,1206.9 L982.5,1207.1 L983.5,1207.2 L984.5,1207.3 L985.5,1207.5 L986.5,1207.6 L987.5,1207.7 L988.5,1207.8 L989.5,1207.9 L990.5,1208.0 L991.5,1208.1 L992.5,1208.2 L993.5,1208.2 L994.5,1208.3 L995.5,1208.4 L996.5,1208.5 L997.5,1208.5 L998.5,1208.6 L999.5,1208.6 L1000.5,1208.7 L1001.5,1208.8 L1002.5,1208.8 L1003.5,1208.9 L1004.5,1208.9 L1005.5,1209.0 L1006.5,1209.0 L1007.5,1209.0 L1008.5,1209.1 L1009.5,1209.1 L1010.5,1209.1 L1011.5,1209.2 L1012.5,1209.2 L1013.5,1209.2 L1014.5,1209.2 L1015.5,1209.2 L1016.5,1209.3" stroke="#0000ff" stroke-width="3.0"/>
</g>
<rect x="594.50" y="897.30" width="422.90" height="338.20" fill="none" stroke="#000" stroke-width="2.9"/>
<line x1="641.49" y1="1235.50" x2="641.49" y2="1241.90" stroke="#000" stroke-width="2.9"/>
<text transform="translate(641.49,1267.10) scale(1.000,1.040)" font-size="28.00" text-anchor="middle">162</text>
<line x1="735.47" y1="1235.50" x2="735.47" y2="1241.90" stroke="#000" stroke-width="2.9"/>
<text transform="translate(735.47,1267.10) scale(1.000,1.040)" font-size="28.00" text-anchor="middle">160</text>
<line x1="829.44" y1="1235.50" x2="829.44" y2="1241.90" stroke="#000" stroke-width="2.9"/>
<text transform="translate(829.44,1267.10) scale(1.000,1.040)" font-size="28.00" text-anchor="middle">158</text>
<line x1="923.42" y1="1235.50" x2="923.42" y2="1241.90" stroke="#000" stroke-width="2.9"/>
<text transform="translate(923.42,1267.10) scale(1.000,1.040)" font-size="28.00" text-anchor="middle">156</text>
<line x1="1017.40" y1="1235.50" x2="1017.40" y2="1241.90" stroke="#000" stroke-width="2.9"/>
<text transform="translate(1017.40,1267.10) scale(1.000,1.040)" font-size="28.00" text-anchor="middle">154</text>
<text transform="translate(812.30,1297.90) scale(1.000,1.040)" font-size="33.30" text-anchor="middle">Binding Energy (eV)</text>
<text transform="translate(572.60,1082.70) rotate(-90) scale(1.000,1.040)" font-size="32.30" text-anchor="middle" word-spacing="5.5">Intensity (a.u.)</text>
<text transform="translate(560.00,941.10) scale(1.000,1.000)" font-size="45.90" text-anchor="middle">(h)</text>
<text transform="translate(597.90,926.50) scale(1.000,1.040)" font-size="27.30">30YSZ</text>
<text transform="translate(656.00,973.00) scale(1.000,1.040)" font-size="27.30">Y 3d<tspan font-size="18.2" dy="6.6">3/2</tspan></text>
<text transform="translate(748.00,933.50) scale(1.000,1.040)" font-size="27.30">Y 3d<tspan font-size="18.2" dy="6.6">5/2</tspan></text>
<line x1="713.00" y1="991.00" x2="763.45" y2="1030.58" stroke="#000" stroke-width="2.7"/>
<polygon points="779.18,1042.93 758.60,1033.52 765.14,1025.18" fill="#000"/>
<line x1="808.00" y1="943.00" x2="870.04" y2="988.12" stroke="#000" stroke-width="2.7"/>
<polygon points="886.21,999.88 865.30,991.23 871.54,982.66" fill="#000"/>
</g>
<g>
<clipPath id="clip_i"><rect x="1102.50" y="896.60" width="424.00" height="338.90"/></clipPath>
<g clip-path="url(#clip_i)" fill="none" stroke-linejoin="round" stroke-linecap="butt">
<path d="M1102.5,1175.1 L1103.5,1175.1 L1104.5,1175.0 L1105.5,1175.0 L1106.5,1174.9 L1107.5,1174.8 L1108.5,1174.8 L1109.5,1174.7 L1110.5,1174.6 L1111.5,1174.6 L1112.5,1174.5 L1113.5,1174.4 L1114.5,1174.3 L1115.5,1174.2 L1116.5,1174.2 L1117.5,1174.1 L1118.5,1174.0 L1119.5,1173.9 L1120.5,1173.8 L1121.5,1173.7 L1122.5,1173.6 L1123.5,1173.6 L1124.5,1173.5 L1125.5,1173.4 L1126.5,1173.3 L1127.5,1173.2 L1128.5,1173.1 L1129.5,1172.9 L1130.5,1172.8 L1131.5,1172.7 L1132.5,1172.6 L1133.5,1172.5 L1134.5,1172.3 L1135.5,1172.2 L1136.5,1172.1 L1137.5,1171.9 L1138.5,1171.8 L1139.5,1171.6 L1140.5,1171.5 L1141.5,1171.3 L1142.5,1171.2 L1143.5,1171.0 L1144.5,1170.8 L1145.5,1170.7 L1146.5,1170.5 L1147.5,1170.3 L1148.5,1170.1 L1149.5,1169.9 L1150.5,1169.7 L1151.5,1169.5 L1152.5,1169.3 L1153.5,1169.1 L1154.5,1168.9 L1155.5,1168.7 L1156.5,1168.5 L1157.5,1168.3 L1158.5,1168.0 L1159.5,1167.8 L1160.5,1167.6 L1161.5,1167.4 L1162.5,1167.1 L1163.5,1166.9 L1164.5,1166.6 L1165.5,1166.4 L1166.5,1166.1 L1167.5,1165.9 L1168.5,1165.6 L1169.5,1165.3 L1170.5,1165.0 L1171.5,1164.6 L1172.5,1164.3 L1173.5,1163.9 L1174.5,1163.6 L1175.5,1163.2 L1176.5,1162.8 L1177.5,1162.4 L1178.5,1162.0 L1179.5,1161.6 L1180.5,1161.2 L1181.5,1160.7 L1182.5,1160.2 L1183.5,1159.8 L1184.5,1159.3 L1185.5,1158.8 L1186.5,1158.2 L1187.5,1157.7 L1188.5,1157.1 L1189.5,1156.5 L1190.5,1155.9 L1191.5,1155.3 L1192.5,1154.6 L1193.5,1153.9 L1194.5,1153.2 L1195.5,1152.4 L1196.5,1151.6 L1197.5,1150.8 L1198.5,1149.9 L1199.5,1149.0 L1200.5,1148.1 L1201.5,1147.1 L1202.5,1146.1 L1203.5,1145.1 L1204.5,1144.0 L1205.5,1142.8 L1206.5,1141.6 L1207.5,1140.4 L1208.5,1139.1 L1209.5,1137.8 L1210.5,1136.4 L1211.5,1135.0 L1212.5,1133.5 L1213.5,1132.0 L1214.5,1130.5 L1215.5,1129.0 L1216.5,1127.5 L1217.5,1126.0 L1218.5,1124.4 L1219.5,1122.9 L1220.5,1121.3 L1221.5,1119.8 L1222.5,1118.2 L1223.5,1116.7 L1224.5,1115.2 L1225.5,1113.8 L1226.5,1112.3 L1227.5,1110.9 L1228.5,1109.6 L1229.5,1108.3 L1230.5,1107.0 L1231.5,1105.8 L1232.5,1104.7 L1233.5,1103.6 L1234.5,1102.6 L1235.5,1101.6 L1236.5,1100.6 L1237.5,1099.7 L1238.5,1098.8 L1239.5,1097.9 L1240.5,1097.0 L1241.5,1096.2 L1242.5,1095.4 L1243.5,1094.7 L1244.5,1094.0 L1245.5,1093.4 L1246.5,1092.7 L1247.5,1092.2 L1248.5,1091.6 L1249.5,1091.1 L1250.5,1090.6 L1251.5,1090.0 L1252.5,1089.6 L1253.5,1089.1 L1254.5,1088.6 L1255.5,1088.1 L1256.5,1087.6 L1257.5,1087.1 L1258.5,1086.6 L1259.5,1086.1 L1260.5,1085.6 L1261.5,1085.1 L1262.5,1084.6 L1263.5,1084.1 L1264.5,1083.6 L1265.5,1083.1 L1266.5,1082.7 L1267.5,1082.2 L1268.5,1081.7 L1269.5,1081.3 L1270.5,1080.9 L1271.5,1080.5 L1272.5,1080.1 L1273.5,1079.8 L1274.5,1079.5 L1275.5,1079.3 L1276.5,1079.1 L1277.5,1078.9 L1278.5,1078.8 L1279.5,1078.7 L1280.5,1078.7 L1281.5,1078.7 L1282.5,1078.7 L1283.5,1078.7 L1284.5,1078.8 L1285.5,1078.9 L1286.5,1079.0 L1287.5,1079.2 L1288.5,1079.3 L1289.5,1079.5 L1290.5,1079.6 L1291.5,1079.7 L1292.5,1079.8 L1293.5,1079.8 L1294.5,1079.8 L1295.5,1079.7 L1296.5,1079.5 L1297.5,1079.2 L1298.5,1078.9 L1299.5,1078.4 L1300.5,1077.9 L1301.5,1077.2 L1302.5,1076.4 L1303.5,1075.5 L1304.5,1074.5 L1305.5,1073.3 L1306.5,1071.9 L1307.5,1070.5 L1308.5,1068.8 L1309.5,1067.0 L1310.5,1064.9 L1311.5,1062.8 L1312.5,1060.4 L1313.5,1057.9 L1314.5,1055.2 L1315.5,1052.4 L1316.5,1049.4 L1317.5,1046.3 L1318.5,1043.1 L1319.5,1039.9 L1320.5,1036.5 L1321.5,1033.1 L1322.5,1029.6 L1323.5,1026.0 L1324.5,1022.4 L1325.5,1018.8 L1326.5,1015.1 L1327.5,1011.4 L1328.5,1007.7 L1329.5,1003.9 L1330.5,1000.2 L1331.5,996.5 L1332.5,992.7 L1333.5,989.0 L1334.5,985.2 L1335.5,981.5 L1336.5,977.8 L1337.5,974.2 L1338.5,970.6 L1339.5,967.0 L1340.5,963.5 L1341.5,960.1 L1342.5,956.8 L1343.5,953.6 L1344.5,950.6 L1345.5,947.8 L1346.5,945.1 L1347.5,942.6 L1348.5,940.2 L1349.5,938.1 L1350.5,936.2 L1351.5,934.6 L1352.5,933.1 L1353.5,931.9 L1354.5,930.9 L1355.5,930.1 L1356.5,929.5 L1357.5,929.2 L1358.5,929.1 L1359.5,929.2 L1360.5,929.5 L1361.5,930.0 L1362.5,930.8 L1363.5,931.7 L1364.5,932.9 L1365.5,934.3 L1366.5,935.9 L1367.5,937.7 L1368.5,939.7 L1369.5,942.0 L1370.5,944.4 L1371.5,947.0 L1372.5,949.9 L1373.5,952.9 L1374.5,956.1 L1375.5,959.5 L1376.5,963.0 L1377.5,966.8 L1378.5,970.6 L1379.5,974.6 L1380.5,978.7 L1381.5,983.0 L1382.5,987.2 L1383.5,991.6 L1384.5,996.0 L1385.5,1000.5 L1386.5,1005.0 L1387.5,1009.6 L1388.5,1014.2 L1389.5,1018.8 L1390.5,1023.5 L1391.5,1028.2 L1392.5,1032.9 L1393.5,1037.7 L1394.5,1042.5 L1395.5,1047.4 L1396.5,1052.3 L1397.5,1057.2 L1398.5,1062.1 L1399.5,1067.0 L1400.5,1071.9 L1401.5,1076.7 L1402.5,1081.5 L1403.5,1086.2 L1404.5,1090.8 L1405.5,1095.3 L1406.5,1099.8 L1407.5,1104.1 L1408.5,1108.3 L1409.5,1112.4 L1410.5,1116.3 L1411.5,1120.2 L1412.5,1123.8 L1413.5,1127.4 L1414.5,1130.8 L1415.5,1134.0 L1416.5,1137.1 L1417.5,1140.1 L1418.5,1142.9 L1419.5,1145.6 L1420.5,1148.1 L1421.5,1150.5 L1422.5,1152.7 L1423.5,1154.8 L1424.5,1156.8 L1425.5,1158.7 L1426.5,1160.4 L1427.5,1162.0 L1428.5,1163.5 L1429.5,1164.9 L1430.5,1166.2 L1431.5,1167.4 L1432.5,1168.5 L1433.5,1169.5 L1434.5,1170.4 L1435.5,1171.3 L1436.5,1172.1 L1437.5,1172.8 L1438.5,1173.5 L1439.5,1174.1 L1440.5,1174.7 L1441.5,1175.2 L1442.5,1175.7 L1443.5,1176.1 L1444.5,1176.5 L1445.5,1176.9 L1446.5,1177.3 L1447.5,1177.6 L1448.5,1177.9 L1449.5,1178.2 L1450.5,1178.4 L1451.5,1178.7 L1452.5,1178.9 L1453.5,1179.1 L1454.5,1179.3 L1455.5,1179.4 L1456.5,1179.6 L1457.5,1179.7 L1458.5,1179.8 L1459.5,1179.9 L1460.5,1180.0 L1461.5,1180.1 L1462.5,1180.2 L1463.5,1180.2 L1464.5,1180.3 L1465.5,1180.3 L1466.5,1180.4 L1467.5,1180.4 L1468.5,1180.5 L1469.5,1180.5 L1470.5,1180.5 L1471.5,1180.5 L1472.5,1180.6 L1473.5,1180.6 L1474.5,1180.6 L1475.5,1180.6 L1476.5,1180.7 L1477.5,1180.7 L1478.5,1180.7 L1479.5,1180.7 L1480.5,1180.8 L1481.5,1180.8 L1482.5,1180.8 L1483.5,1180.9 L1484.5,1180.9 L1485.5,1180.9 L1486.5,1181.0 L1487.5,1181.0 L1488.5,1181.1 L1489.5,1181.1 L1490.5,1181.1 L1491.5,1181.2 L1492.5,1181.2 L1493.5,1181.3 L1494.5,1181.3 L1495.5,1181.3 L1496.5,1181.4 L1497.5,1181.4 L1498.5,1181.4 L1499.5,1181.5 L1500.5,1181.5 L1501.5,1181.5 L1502.5,1181.6 L1503.5,1181.6 L1504.5,1181.6 L1505.5,1181.7 L1506.5,1181.7 L1507.5,1181.7 L1508.5,1181.7 L1509.5,1181.8 L1510.5,1181.8 L1511.5,1181.8 L1512.5,1181.8 L1513.5,1181.9 L1514.5,1181.9 L1515.5,1181.9 L1516.5,1181.9 L1517.5,1181.9 L1518.5,1182.0 L1519.5,1182.0 L1520.5,1182.0 L1521.5,1182.0 L1522.5,1182.0 L1523.5,1182.0 L1524.5,1182.0 L1525.5,1182.1 L1526.5,1182.1" stroke="#000" stroke-width="2.7"/>
<path d="M1102.5,1176.6 L1103.5,1176.6 L1104.5,1176.5 L1105.5,1176.5 L1106.5,1176.5 L1107.5,1176.4 L1108.5,1176.4 L1109.5,1176.4 L1110.5,1176.3 L1111.5,1176.3 L1112.5,1176.3 L1113.5,1176.2 L1114.5,1176.2 L1115.5,1176.2 L1116.5,1176.1 L1117.5,1176.1 L1118.5,1176.0 L1119.5,1176.0 L1120.5,1175.9 L1121.5,1175.9 L1122.5,1175.8 L1123.5,1175.8 L1124.5,1175.7 L1125.5,1175.7 L1126.5,1175.6 L1127.5,1175.6 L1128.5,1175.5 L1129.5,1175.4 L1130.5,1175.4 L1131.5,1175.3 L1132.5,1175.2 L1133.5,1175.2 L1134.5,1175.1 L1135.5,1175.0 L1136.5,1175.0 L1137.5,1174.9 L1138.5,1174.8 L1139.5,1174.7 L1140.5,1174.6 L1141.5,1174.6 L1142.5,1174.5 L1143.5,1174.4 L1144.5,1174.3 L1145.5,1174.2 L1146.5,1174.1 L1147.5,1174.0 L1148.5,1173.8 L1149.5,1173.7 L1150.5,1173.6 L1151.5,1173.5 L1152.5,1173.3 L1153.5,1173.2 L1154.5,1173.1 L1155.5,1172.9 L1156.5,1172.8 L1157.5,1172.6 L1158.5,1172.4 L1159.5,1172.2 L1160.5,1172.1 L1161.5,1171.9 L1162.5,1171.7 L1163.5,1171.5 L1164.5,1171.2 L1165.5,1171.0 L1166.5,1170.8 L1167.5,1170.5 L1168.5,1170.3 L1169.5,1170.0 L1170.5,1169.7 L1171.5,1169.4 L1172.5,1169.1 L1173.5,1168.8 L1174.5,1168.5 L1175.5,1168.1 L1176.5,1167.8 L1177.5,1167.4 L1178.5,1167.0 L1179.5,1166.6 L1180.5,1166.2 L1181.5,1165.8 L1182.5,1165.4 L1183.5,1164.9 L1184.5,1164.4 L1185.5,1163.9 L1186.5,1163.4 L1187.5,1162.9 L1188.5,1162.4 L1189.5,1161.8 L1190.5,1161.2 L1191.5,1160.6 L1192.5,1160.0 L1193.5,1159.3 L1194.5,1158.6 L1195.5,1157.9 L1196.5,1157.2 L1197.5,1156.5 L1198.5,1155.7 L1199.5,1154.9 L1200.5,1154.1 L1201.5,1153.3 L1202.5,1152.4 L1203.5,1151.5 L1204.5,1150.6 L1205.5,1149.7 L1206.5,1148.7 L1207.5,1147.7 L1208.5,1146.8 L1209.5,1145.7 L1210.5,1144.7 L1211.5,1143.7 L1212.5,1142.6 L1213.5,1141.6 L1214.5,1140.6 L1215.5,1139.5 L1216.5,1138.5 L1217.5,1137.4 L1218.5,1136.4 L1219.5,1135.4 L1220.5,1134.5 L1221.5,1133.5 L1222.5,1132.6 L1223.5,1131.7 L1224.5,1130.9 L1225.5,1130.1 L1226.5,1129.3 L1227.5,1128.6 L1228.5,1127.9 L1229.5,1127.3 L1230.5,1126.8 L1231.5,1126.3 L1232.5,1125.8 L1233.5,1125.5 L1234.5,1125.2 L1235.5,1124.9 L1236.5,1124.7 L1237.5,1124.6 L1238.5,1124.5 L1239.5,1124.5 L1240.5,1124.5 L1241.5,1124.7 L1242.5,1124.9 L1243.5,1125.2 L1244.5,1125.6 L1245.5,1126.0 L1246.5,1126.5 L1247.5,1127.1 L1248.5,1127.8 L1249.5,1128.5 L1250.5,1129.3 L1251.5,1130.1 L1252.5,1131.0 L1253.5,1131.9 L1254.5,1132.9 L1255.5,1133.8 L1256.5,1134.8 L1257.5,1135.8 L1258.5,1136.9 L1259.5,1137.9 L1260.5,1139.0 L1261.5,1140.0 L1262.5,1141.0 L1263.5,1142.1 L1264.5,1143.1 L1265.5,1144.1 L1266.5,1145.1 L1267.5,1146.1 L1268.5,1147.1 L1269.5,1148.1 L1270.5,1149.0 L1271.5,1149.9 L1272.5,1150.9 L1273.5,1151.7 L1274.5,1152.6 L1275.5,1153.5 L1276.5,1154.3 L1277.5,1155.1 L1278.5,1155.9 L1279.5,1156.6 L1280.5,1157.4 L1281.5,1158.1 L1282.5,1158.8 L1283.5,1159.5 L1284.5,1160.2 L1285.5,1160.8 L1286.5,1161.4 L1287.5,1162.0 L1288.5,1162.6 L1289.5,1163.1 L1290.5,1163.6 L1291.5,1164.1 L1292.5,1164.6 L1293.5,1165.1 L1294.5,1165.5 L1295.5,1166.0 L1296.5,1166.4 L1297.5,1166.8 L1298.5,1167.2 L1299.5,1167.6 L1300.5,1167.9 L1301.5,1168.3 L1302.5,1168.7 L1303.5,1169.0 L1304.5,1169.3 L1305.5,1169.7 L1306.5,1170.0 L1307.5,1170.3 L1308.5,1170.6 L1309.5,1170.9 L1310.5,1171.2 L1311.5,1171.5 L1312.5,1171.8 L1313.5,1172.0 L1314.5,1172.3 L1315.5,1172.5 L1316.5,1172.8 L1317.5,1173.0 L1318.5,1173.2 L1319.5,1173.4 L1320.5,1173.6 L1321.5,1173.8 L1322.5,1174.0 L1323.5,1174.2 L1324.5,1174.4 L1325.5,1174.5 L1326.5,1174.7 L1327.5,1174.9 L1328.5,1175.0 L1329.5,1175.2 L1330.5,1175.3 L1331.5,1175.5 L1332.5,1175.6 L1333.5,1175.8 L1334.5,1175.9 L1335.5,1176.0 L1336.5,1176.2 L1337.5,1176.3 L1338.5,1176.4 L1339.5,1176.5 L1340.5,1176.7 L1341.5,1176.8 L1342.5,1176.9 L1343.5,1177.0 L1344.5,1177.1 L1345.5,1177.2 L1346.5,1177.3 L1347.5,1177.4 L1348.5,1177.5 L1349.5,1177.6 L1350.5,1177.7 L1351.5,1177.7 L1352.5,1177.8 L1353.5,1177.9 L1354.5,1178.0 L1355.5,1178.1 L1356.5,1178.1 L1357.5,1178.2 L1358.5,1178.3 L1359.5,1178.4 L1360.5,1178.4 L1361.5,1178.5 L1362.5,1178.6 L1363.5,1178.6 L1364.5,1178.7 L1365.5,1178.8 L1366.5,1178.9 L1367.5,1178.9 L1368.5,1179.0 L1369.5,1179.1 L1370.5,1179.1 L1371.5,1179.2 L1372.5,1179.3 L1373.5,1179.3 L1374.5,1179.4 L1375.5,1179.4 L1376.5,1179.5 L1377.5,1179.6 L1378.5,1179.6 L1379.5,1179.7 L1380.5,1179.8 L1381.5,1179.8 L1382.5,1179.9 L1383.5,1179.9 L1384.5,1180.0 L1385.5,1180.0 L1386.5,1180.1 L1387.5,1180.1 L1388.5,1180.2 L1389.5,1180.2 L1390.5,1180.3 L1391.5,1180.3 L1392.5,1180.4 L1393.5,1180.4 L1394.5,1180.5 L1395.5,1180.5 L1396.5,1180.5 L1397.5,1180.6 L1398.5,1180.6 L1399.5,1180.7 L1400.5,1180.7 L1401.5,1180.7 L1402.5,1180.8 L1403.5,1180.8 L1404.5,1180.8 L1405.5,1180.9 L1406.5,1180.9 L1407.5,1180.9 L1408.5,1181.0 L1409.5,1181.0 L1410.5,1181.0 L1411.5,1181.1 L1412.5,1181.1 L1413.5,1181.1 L1414.5,1181.1 L1415.5,1181.2 L1416.5,1181.2 L1417.5,1181.2 L1418.5,1181.3 L1419.5,1181.3 L1420.5,1181.3 L1421.5,1181.3 L1422.5,1181.4 L1423.5,1181.4 L1424.5,1181.4 L1425.5,1181.4 L1426.5,1181.4 L1427.5,1181.5 L1428.5,1181.5 L1429.5,1181.5 L1430.5,1181.5 L1431.5,1181.6 L1432.5,1181.6 L1433.5,1181.6 L1434.5,1181.6 L1435.5,1181.6 L1436.5,1181.7 L1437.5,1181.7 L1438.5,1181.7 L1439.5,1181.7 L1440.5,1181.7 L1441.5,1181.7 L1442.5,1181.8 L1443.5,1181.8 L1444.5,1181.8 L1445.5,1181.8 L1446.5,1181.8 L1447.5,1181.8 L1448.5,1181.9 L1449.5,1181.9 L1450.5,1181.9 L1451.5,1181.9 L1452.5,1181.9 L1453.5,1181.9 L1454.5,1182.0 L1455.5,1182.0 L1456.5,1182.0 L1457.5,1182.0 L1458.5,1182.0 L1459.5,1182.0 L1460.5,1182.0 L1461.5,1182.0 L1462.5,1182.1 L1463.5,1182.1 L1464.5,1182.1 L1465.5,1182.1 L1466.5,1182.1 L1467.5,1182.1 L1468.5,1182.1 L1469.5,1182.1 L1470.5,1182.1 L1471.5,1182.1 L1472.5,1182.2 L1473.5,1182.2 L1474.5,1182.2 L1475.5,1182.2 L1476.5,1182.2 L1477.5,1182.2 L1478.5,1182.2 L1479.5,1182.2 L1480.5,1182.2 L1481.5,1182.2 L1482.5,1182.3 L1483.5,1182.3 L1484.5,1182.3 L1485.5,1182.3 L1486.5,1182.3 L1487.5,1182.3 L1488.5,1182.3 L1489.5,1182.3 L1490.5,1182.3 L1491.5,1182.3 L1492.5,1182.3 L1493.5,1182.3 L1494.5,1182.3 L1495.5,1182.4 L1496.5,1182.4 L1497.5,1182.4 L1498.5,1182.4 L1499.5,1182.4 L1500.5,1182.4 L1501.5,1182.4 L1502.5,1182.4 L1503.5,1182.4 L1504.5,1182.4 L1505.5,1182.4 L1506.5,1182.4 L1507.5,1182.4 L1508.5,1182.4 L1509.5,1182.5 L1510.5,1182.5 L1511.5,1182.5 L1512.5,1182.5 L1513.5,1182.5 L1514.5,1182.5 L1515.5,1182.5 L1516.5,1182.5 L1517.5,1182.5 L1518.5,1182.5 L1519.5,1182.5 L1520.5,1182.5 L1521.5,1182.5 L1522.5,1182.5 L1523.5,1182.5 L1524.5,1182.5 L1525.5,1182.5 L1526.5,1182.6" stroke="#ff0000" stroke-width="3.0"/>
<path d="M1102.5,1178.1 L1103.5,1178.0 L1104.5,1178.0 L1105.5,1178.0 L1106.5,1178.0 L1107.5,1178.0 L1108.5,1177.9 L1109.5,1177.9 L1110.5,1177.9 L1111.5,1177.9 L1112.5,1177.9 L1113.5,1177.8 L1114.5,1177.8 L1115.5,1177.8 L1116.5,1177.8 L1117.5,1177.8 L1118.5,1177.7 L1119.5,1177.7 L1120.5,1177.7 L1121.5,1177.7 L1122.5,1177.7 L1123.5,1177.6 L1124.5,1177.6 L1125.5,1177.6 L1126.5,1177.6 L1127.5,1177.6 L1128.5,1177.5 L1129.5,1177.5 L1130.5,1177.5 L1131.5,1177.5 L1132.5,1177.4 L1133.5,1177.4 L1134.5,1177.4 L1135.5,1177.4 L1136.5,1177.3 L1137.5,1177.3 L1138.5,1177.3 L1139.5,1177.3 L1140.5,1177.2 L1141.5,1177.2 L1142.5,1177.2 L1143.5,1177.1 L1144.5,1177.1 L1145.5,1177.1 L1146.5,1177.0 L1147.5,1177.0 L1148.5,1177.0 L1149.5,1176.9 L1150.5,1176.9 L1151.5,1176.8 L1152.5,1176.8 L1153.5,1176.8 L1154.5,1176.7 L1155.5,1176.7 L1156.5,1176.6 L1157.5,1176.5 L1158.5,1176.5 L1159.5,1176.4 L1160.5,1176.4 L1161.5,1176.3 L1162.5,1176.2 L1163.5,1176.1 L1164.5,1176.1 L1165.5,1176.0 L1166.5,1175.9 L1167.5,1175.8 L1168.5,1175.7 L1169.5,1175.6 L1170.5,1175.5 L1171.5,1175.3 L1172.5,1175.2 L1173.5,1175.1 L1174.5,1174.9 L1175.5,1174.7 L1176.5,1174.6 L1177.5,1174.4 L1178.5,1174.2 L1179.5,1174.0 L1180.5,1173.9 L1181.5,1173.7 L1182.5,1173.5 L1183.5,1173.3 L1184.5,1173.0 L1185.5,1172.8 L1186.5,1172.6 L1187.5,1172.4 L1188.5,1172.2 L1189.5,1172.0 L1190.5,1171.8 L1191.5,1171.5 L1192.5,1171.3 L1193.5,1171.1 L1194.5,1170.9 L1195.5,1170.6 L1196.5,1170.4 L1197.5,1170.2 L1198.5,1169.9 L1199.5,1169.7 L1200.5,1169.4 L1201.5,1169.2 L1202.5,1168.9 L1203.5,1168.6 L1204.5,1168.3 L1205.5,1168.0 L1206.5,1167.7 L1207.5,1167.4 L1208.5,1167.1 L1209.5,1166.7 L1210.5,1166.4 L1211.5,1166.0 L1212.5,1165.6 L1213.5,1165.2 L1214.5,1164.8 L1215.5,1164.4 L1216.5,1164.0 L1217.5,1163.6 L1218.5,1163.1 L1219.5,1162.6 L1220.5,1162.2 L1221.5,1161.7 L1222.5,1161.2 L1223.5,1160.6 L1224.5,1160.1 L1225.5,1159.5 L1226.5,1159.0 L1227.5,1158.4 L1228.5,1157.8 L1229.5,1157.1 L1230.5,1156.5 L1231.5,1155.8 L1232.5,1155.1 L1233.5,1154.4 L1234.5,1153.7 L1235.5,1152.9 L1236.5,1152.1 L1237.5,1151.3 L1238.5,1150.4 L1239.5,1149.6 L1240.5,1148.7 L1241.5,1147.8 L1242.5,1146.8 L1243.5,1145.8 L1244.5,1144.8 L1245.5,1143.8 L1246.5,1142.8 L1247.5,1141.7 L1248.5,1140.6 L1249.5,1139.5 L1250.5,1138.4 L1251.5,1137.2 L1252.5,1136.1 L1253.5,1134.9 L1254.5,1133.8 L1255.5,1132.6 L1256.5,1131.4 L1257.5,1130.2 L1258.5,1129.1 L1259.5,1127.9 L1260.5,1126.7 L1261.5,1125.6 L1262.5,1124.5 L1263.5,1123.4 L1264.5,1122.3 L1265.5,1121.3 L1266.5,1120.3 L1267.5,1119.3 L1268.5,1118.4 L1269.5,1117.6 L1270.5,1116.7 L1271.5,1116.0 L1272.5,1115.3 L1273.5,1114.6 L1274.5,1114.0 L1275.5,1113.5 L1276.5,1113.0 L1277.5,1112.7 L1278.5,1112.3 L1279.5,1112.1 L1280.5,1111.9 L1281.5,1111.9 L1282.5,1111.9 L1283.5,1112.0 L1284.5,1112.1 L1285.5,1112.4 L1286.5,1112.8 L1287.5,1113.3 L1288.5,1113.9 L1289.5,1114.5 L1290.5,1115.3 L1291.5,1116.1 L1292.5,1116.9 L1293.5,1117.9 L1294.5,1118.8 L1295.5,1119.9 L1296.5,1120.9 L1297.5,1122.0 L1298.5,1123.2 L1299.5,1124.3 L1300.5,1125.5 L1301.5,1126.8 L1302.5,1128.0 L1303.5,1129.2 L1304.5,1130.5 L1305.5,1131.7 L1306.5,1133.0 L1307.5,1134.2 L1308.5,1135.5 L1309.5,1136.7 L1310.5,1138.0 L1311.5,1139.2 L1312.5,1140.4 L1313.5,1141.6 L1314.5,1142.8 L1315.5,1144.0 L1316.5,1145.1 L1317.5,1146.3 L1318.5,1147.4 L1319.5,1148.5 L1320.5,1149.5 L1321.5,1150.6 L1322.5,1151.6 L1323.5,1152.6 L1324.5,1153.6 L1325.5,1154.5 L1326.5,1155.5 L1327.5,1156.4 L1328.5,1157.2 L1329.5,1158.1 L1330.5,1158.9 L1331.5,1159.7 L1332.5,1160.4 L1333.5,1161.2 L1334.5,1161.9 L1335.5,1162.5 L1336.5,1163.2 L1337.5,1163.8 L1338.5,1164.4 L1339.5,1164.9 L1340.5,1165.5 L1341.5,1166.0 L1342.5,1166.5 L1343.5,1167.0 L1344.5,1167.5 L1345.5,1167.9 L1346.5,1168.4 L1347.5,1168.8 L1348.5,1169.2 L1349.5,1169.6 L1350.5,1170.0 L1351.5,1170.4 L1352.5,1170.7 L1353.5,1171.1 L1354.5,1171.5 L1355.5,1171.8 L1356.5,1172.1 L1357.5,1172.4 L1358.5,1172.7 L1359.5,1173.0 L1360.5,1173.3 L1361.5,1173.6 L1362.5,1173.8 L1363.5,1174.1 L1364.5,1174.3 L1365.5,1174.5 L1366.5,1174.7 L1367.5,1175.0 L1368.5,1175.2 L1369.5,1175.4 L1370.5,1175.5 L1371.5,1175.7 L1372.5,1175.9 L1373.5,1176.1 L1374.5,1176.2 L1375.5,1176.4 L1376.5,1176.5 L1377.5,1176.7 L1378.5,1176.8 L1379.5,1177.0 L1380.5,1177.1 L1381.5,1177.2 L1382.5,1177.4 L1383.5,1177.5 L1384.5,1177.6 L1385.5,1177.7 L1386.5,1177.9 L1387.5,1178.0 L1388.5,1178.1 L1389.5,1178.2 L1390.5,1178.3 L1391.5,1178.4 L1392.5,1178.5 L1393.5,1178.6 L1394.5,1178.7 L1395.5,1178.7 L1396.5,1178.8 L1397.5,1178.9 L1398.5,1179.0 L1399.5,1179.1 L1400.5,1179.1 L1401.5,1179.2 L1402.5,1179.3 L1403.5,1179.3 L1404.5,1179.4 L1405.5,1179.4 L1406.5,1179.5 L1407.5,1179.5 L1408.5,1179.6 L1409.5,1179.7 L1410.5,1179.7 L1411.5,1179.8 L1412.5,1179.8 L1413.5,1179.9 L1414.5,1179.9 L1415.5,1179.9 L1416.5,1180.0 L1417.5,1180.0 L1418.5,1180.1 L1419.5,1180.1 L1420.5,1180.2 L1421.5,1180.2 L1422.5,1180.2 L1423.5,1180.3 L1424.5,1180.3 L1425.5,1180.3 L1426.5,1180.4 L1427.5,1180.4 L1428.5,1180.4 L1429.5,1180.5 L1430.5,1180.5 L1431.5,1180.5 L1432.5,1180.6 L1433.5,1180.6 L1434.5,1180.6 L1435.5,1180.7 L1436.5,1180.7 L1437.5,1180.7 L1438.5,1180.7 L1439.5,1180.8 L1440.5,1180.8 L1441.5,1180.8 L1442.5,1180.9 L1443.5,1180.9 L1444.5,1180.9 L1445.5,1180.9 L1446.5,1180.9 L1447.5,1181.0 L1448.5,1181.0 L1449.5,1181.0 L1450.5,1181.0 L1451.5,1181.1 L1452.5,1181.1 L1453.5,1181.1 L1454.5,1181.1 L1455.5,1181.1 L1456.5,1181.2 L1457.5,1181.2 L1458.5,1181.2 L1459.5,1181.2 L1460.5,1181.2 L1461.5,1181.3 L1462.5,1181.3 L1463.5,1181.3 L1464.5,1181.3 L1465.5,1181.3 L1466.5,1181.4 L1467.5,1181.4 L1468.5,1181.4 L1469.5,1181.4 L1470.5,1181.4 L1471.5,1181.5 L1472.5,1181.5 L1473.5,1181.5 L1474.5,1181.5 L1475.5,1181.5 L1476.5,1181.6 L1477.5,1181.6 L1478.5,1181.6 L1479.5,1181.6 L1480.5,1181.7 L1481.5,1181.7 L1482.5,1181.7 L1483.5,1181.7 L1484.5,1181.8 L1485.5,1181.8 L1486.5,1181.8 L1487.5,1181.8 L1488.5,1181.8 L1489.5,1181.9 L1490.5,1181.9 L1491.5,1181.9 L1492.5,1181.9 L1493.5,1182.0 L1494.5,1182.0 L1495.5,1182.0 L1496.5,1182.0 L1497.5,1182.1 L1498.5,1182.1 L1499.5,1182.1 L1500.5,1182.1 L1501.5,1182.2 L1502.5,1182.2 L1503.5,1182.2 L1504.5,1182.2 L1505.5,1182.2 L1506.5,1182.3 L1507.5,1182.3 L1508.5,1182.3 L1509.5,1182.3 L1510.5,1182.3 L1511.5,1182.4 L1512.5,1182.4 L1513.5,1182.4 L1514.5,1182.4 L1515.5,1182.4 L1516.5,1182.4 L1517.5,1182.4 L1518.5,1182.5 L1519.5,1182.5 L1520.5,1182.5 L1521.5,1182.5 L1522.5,1182.5 L1523.5,1182.5 L1524.5,1182.5 L1525.5,1182.5 L1526.5,1182.5" stroke="#0000ff" stroke-width="3.0"/>
<path d="M1102.5,1179.0 L1103.5,1179.0 L1104.5,1179.0 L1105.5,1179.0 L1106.5,1179.0 L1107.5,1179.0 L1108.5,1179.0 L1109.5,1179.0 L1110.5,1179.0 L1111.5,1179.0 L1112.5,1179.0 L1113.5,1179.0 L1114.5,1179.0 L1115.5,1179.0 L1116.5,1179.0 L1117.5,1179.0 L1118.5,1179.0 L1119.5,1179.0 L1120.5,1179.0 L1121.5,1179.0 L1122.5,1179.0 L1123.5,1179.0 L1124.5,1179.0 L1125.5,1179.0 L1126.5,1179.0 L1127.5,1179.0 L1128.5,1179.0 L1129.5,1179.0 L1130.5,1179.0 L1131.5,1179.0 L1132.5,1179.0 L1133.5,1179.0 L1134.5,1179.0 L1135.5,1179.0 L1136.5,1179.0 L1137.5,1179.0 L1138.5,1179.0 L1139.5,1179.0 L1140.5,1179.0 L1141.5,1179.0 L1142.5,1179.0 L1143.5,1179.0 L1144.5,1179.0 L1145.5,1179.0 L1146.5,1179.0 L1147.5,1179.0 L1148.5,1179.0 L1149.5,1179.0 L1150.5,1179.0 L1151.5,1179.1 L1152.5,1179.1 L1153.5,1179.1 L1154.5,1179.1 L1155.5,1179.1 L1156.5,1179.1 L1157.5,1179.1 L1158.5,1179.1 L1159.5,1179.1 L1160.5,1179.1 L1161.5,1179.1 L1162.5,1179.1 L1163.5,1179.1 L1164.5,1179.1 L1165.5,1179.1 L1166.5,1179.1 L1167.5,1179.1 L1168.5,1179.1 L1169.5,1179.1 L1170.5,1179.1 L1171.5,1179.1 L1172.5,1179.1 L1173.5,1179.1 L1174.5,1179.1 L1175.5,1179.1 L1176.5,1179.1 L1177.5,1179.1 L1178.5,1179.1 L1179.5,1179.2 L1180.5,1179.2 L1181.5,1179.2 L1182.5,1179.2 L1183.5,1179.2 L1184.5,1179.2 L1185.5,1179.2 L1186.5,1179.2 L1187.5,1179.2 L1188.5,1179.2 L1189.5,1179.2 L1190.5,1179.3 L1191.5,1179.3 L1192.5,1179.3 L1193.5,1179.3 L1194.5,1179.3 L1195.5,1179.3 L1196.5,1179.3 L1197.5,1179.3 L1198.5,1179.3 L1199.5,1179.4 L1200.5,1179.4 L1201.5,1179.4 L1202.5,1179.4 L1203.5,1179.4 L1204.5,1179.4 L1205.5,1179.4 L1206.5,1179.4 L1207.5,1179.5 L1208.5,1179.5 L1209.5,1179.5 L1210.5,1179.5 L1211.5,1179.5 L1212.5,1179.5 L1213.5,1179.5 L1214.5,1179.5 L1215.5,1179.6 L1216.5,1179.6 L1217.5,1179.6 L1218.5,1179.6 L1219.5,1179.6 L1220.5,1179.6 L1221.5,1179.6 L1222.5,1179.6 L1223.5,1179.6 L1224.5,1179.6 L1225.5,1179.6 L1226.5,1179.7 L1227.5,1179.7 L1228.5,1179.7 L1229.5,1179.7 L1230.5,1179.7 L1231.5,1179.7 L1232.5,1179.7 L1233.5,1179.7 L1234.5,1179.6 L1235.5,1179.6 L1236.5,1179.6 L1237.5,1179.6 L1238.5,1179.6 L1239.5,1179.6 L1240.5,1179.6 L1241.5,1179.5 L1242.5,1179.5 L1243.5,1179.5 L1244.5,1179.4 L1245.5,1179.4 L1246.5,1179.3 L1247.5,1179.3 L1248.5,1179.2 L1249.5,1179.2 L1250.5,1179.1 L1251.5,1179.0 L1252.5,1178.9 L1253.5,1178.8 L1254.5,1178.7 L1255.5,1178.6 L1256.5,1178.5 L1257.5,1178.3 L1258.5,1178.2 L1259.5,1178.0 L1260.5,1177.9 L1261.5,1177.7 L1262.5,1177.5 L1263.5,1177.2 L1264.5,1177.0 L1265.5,1176.7 L1266.5,1176.4 L1267.5,1176.1 L1268.5,1175.8 L1269.5,1175.5 L1270.5,1175.1 L1271.5,1174.6 L1272.5,1174.2 L1273.5,1173.7 L1274.5,1173.2 L1275.5,1172.6 L1276.5,1172.1 L1277.5,1171.4 L1278.5,1170.7 L1279.5,1170.0 L1280.5,1169.2 L1281.5,1168.4 L1282.5,1167.5 L1283.5,1166.6 L1284.5,1165.5 L1285.5,1164.5 L1286.5,1163.3 L1287.5,1162.1 L1288.5,1160.8 L1289.5,1159.5 L1290.5,1158.1 L1291.5,1156.5 L1292.5,1155.0 L1293.5,1153.3 L1294.5,1151.5 L1295.5,1149.7 L1296.5,1147.8 L1297.5,1145.7 L1298.5,1143.6 L1299.5,1141.4 L1300.5,1139.1 L1301.5,1136.8 L1302.5,1134.3 L1303.5,1131.7 L1304.5,1129.0 L1305.5,1126.3 L1306.5,1123.4 L1307.5,1120.4 L1308.5,1117.4 L1309.5,1114.2 L1310.5,1110.9 L1311.5,1107.5 L1312.5,1104.0 L1313.5,1100.3 L1314.5,1096.5 L1315.5,1092.6 L1316.5,1088.5 L1317.5,1084.4 L1318.5,1080.1 L1319.5,1075.7 L1320.5,1071.2 L1321.5,1066.6 L1322.5,1062.0 L1323.5,1057.3 L1324.5,1052.6 L1325.5,1047.9 L1326.5,1043.3 L1327.5,1038.6 L1328.5,1033.9 L1329.5,1029.3 L1330.5,1024.7 L1331.5,1020.2 L1332.5,1015.8 L1333.5,1011.4 L1334.5,1007.1 L1335.5,1002.8 L1336.5,998.7 L1337.5,994.6 L1338.5,990.7 L1339.5,986.9 L1340.5,983.1 L1341.5,979.6 L1342.5,976.1 L1343.5,972.8 L1344.5,969.6 L1345.5,966.5 L1346.5,963.7 L1347.5,960.9 L1348.5,958.4 L1349.5,956.0 L1350.5,953.8 L1351.5,951.8 L1352.5,950.0 L1353.5,948.3 L1354.5,946.9 L1355.5,945.7 L1356.5,944.7 L1357.5,944.0 L1358.5,943.4 L1359.5,943.1 L1360.5,943.0 L1361.5,943.1 L1362.5,943.5 L1363.5,944.2 L1364.5,945.1 L1365.5,946.2 L1366.5,947.6 L1367.5,949.2 L1368.5,951.0 L1369.5,953.0 L1370.5,955.3 L1371.5,957.8 L1372.5,960.5 L1373.5,963.3 L1374.5,966.4 L1375.5,969.6 L1376.5,973.1 L1377.5,976.7 L1378.5,980.4 L1379.5,984.3 L1380.5,988.3 L1381.5,992.5 L1382.5,996.8 L1383.5,1001.2 L1384.5,1005.7 L1385.5,1010.3 L1386.5,1014.9 L1387.5,1019.6 L1388.5,1024.4 L1389.5,1029.2 L1390.5,1034.0 L1391.5,1038.8 L1392.5,1043.7 L1393.5,1048.5 L1394.5,1053.2 L1395.5,1058.0 L1396.5,1062.7 L1397.5,1067.4 L1398.5,1072.0 L1399.5,1076.6 L1400.5,1081.1 L1401.5,1085.5 L1402.5,1089.9 L1403.5,1094.2 L1404.5,1098.5 L1405.5,1102.6 L1406.5,1106.7 L1407.5,1110.6 L1408.5,1114.4 L1409.5,1118.2 L1410.5,1121.7 L1411.5,1125.2 L1412.5,1128.5 L1413.5,1131.7 L1414.5,1134.8 L1415.5,1137.7 L1416.5,1140.5 L1417.5,1143.2 L1418.5,1145.7 L1419.5,1148.1 L1420.5,1150.4 L1421.5,1152.6 L1422.5,1154.6 L1423.5,1156.6 L1424.5,1158.4 L1425.5,1160.1 L1426.5,1161.7 L1427.5,1163.3 L1428.5,1164.7 L1429.5,1166.0 L1430.5,1167.3 L1431.5,1168.4 L1432.5,1169.5 L1433.5,1170.5 L1434.5,1171.5 L1435.5,1172.3 L1436.5,1173.1 L1437.5,1173.9 L1438.5,1174.5 L1439.5,1175.2 L1440.5,1175.8 L1441.5,1176.3 L1442.5,1176.8 L1443.5,1177.2 L1444.5,1177.6 L1445.5,1178.0 L1446.5,1178.4 L1447.5,1178.7 L1448.5,1179.0 L1449.5,1179.2 L1450.5,1179.4 L1451.5,1179.7 L1452.5,1179.9 L1453.5,1180.0 L1454.5,1180.2 L1455.5,1180.4 L1456.5,1180.5 L1457.5,1180.6 L1458.5,1180.7 L1459.5,1180.8 L1460.5,1180.9 L1461.5,1181.0 L1462.5,1181.1 L1463.5,1181.2 L1464.5,1181.3 L1465.5,1181.3 L1466.5,1181.4 L1467.5,1181.5 L1468.5,1181.5 L1469.5,1181.6 L1470.5,1181.6 L1471.5,1181.6 L1472.5,1181.7 L1473.5,1181.7 L1474.5,1181.8 L1475.5,1181.8 L1476.5,1181.8 L1477.5,1181.8 L1478.5,1181.9 L1479.5,1181.9 L1480.5,1181.9 L1481.5,1181.9 L1482.5,1182.0 L1483.5,1182.0 L1484.5,1182.0 L1485.5,1182.0 L1486.5,1182.1 L1487.5,1182.1 L1488.5,1182.1 L1489.5,1182.1 L1490.5,1182.1 L1491.5,1182.2 L1492.5,1182.2 L1493.5,1182.2 L1494.5,1182.2 L1495.5,1182.2 L1496.5,1182.2 L1497.5,1182.3 L1498.5,1182.3 L1499.5,1182.3 L1500.5,1182.3 L1501.5,1182.3 L1502.5,1182.3 L1503.5,1182.4 L1504.5,1182.4 L1505.5,1182.4 L1506.5,1182.4 L1507.5,1182.4 L1508.5,1182.4 L1509.5,1182.4 L1510.5,1182.4 L1511.5,1182.4 L1512.5,1182.4 L1513.5,1182.5 L1514.5,1182.5 L1515.5,1182.5 L1516.5,1182.5 L1517.5,1182.5 L1518.5,1182.5 L1519.5,1182.5 L1520.5,1182.5 L1521.5,1182.5 L1522.5,1182.5 L1523.5,1182.5 L1524.5,1182.5 L1525.5,1182.5 L1526.5,1182.5" stroke="#008000" stroke-width="3.0"/>
</g>
<rect x="1102.50" y="896.60" width="424.00" height="338.90" fill="none" stroke="#000" stroke-width="2.9"/>
<line x1="1149.61" y1="1235.50" x2="1149.61" y2="1241.90" stroke="#000" stroke-width="2.9"/>
<text transform="translate(1149.61,1267.10) scale(1.000,1.040)" font-size="28.00" text-anchor="middle">534</text>
<line x1="1243.83" y1="1235.50" x2="1243.83" y2="1241.90" stroke="#000" stroke-width="2.9"/>
<text transform="translate(1243.83,1267.10) scale(1.000,1.040)" font-size="28.00" text-anchor="middle">532</text>
<line x1="1338.06" y1="1235.50" x2="1338.06" y2="1241.90" stroke="#000" stroke-width="2.9"/>
<text transform="translate(1338.06,1267.10) scale(1.000,1.040)" font-size="28.00" text-anchor="middle">530</text>
<line x1="1432.28" y1="1235.50" x2="1432.28" y2="1241.90" stroke="#000" stroke-width="2.9"/>
<text transform="translate(1432.28,1267.10) scale(1.000,1.040)" font-size="28.00" text-anchor="middle">528</text>
<line x1="1526.50" y1="1235.50" x2="1526.50" y2="1241.90" stroke="#000" stroke-width="2.9"/>
<text transform="translate(1526.50,1267.10) scale(1.000,1.040)" font-size="28.00" text-anchor="middle">526</text>
<text transform="translate(1313.10,1297.90) scale(1.000,1.040)" font-size="33.30" text-anchor="middle">Binding Energy (eV)</text>
<text transform="translate(1080.60,1082.35) rotate(-90) scale(1.000,1.040)" font-size="32.30" text-anchor="middle" word-spacing="5.5">Intensity (a.u.)</text>
<text transform="translate(1069.80,941.00) scale(1.000,1.000)" font-size="45.90" text-anchor="middle">(i)</text>
<text transform="translate(1106.10,926.40) scale(1.000,1.040)" font-size="27.30">30YSZ</text>
<text transform="translate(1258.00,932.00) scale(1.000,1.040)" font-size="27.30">O<tspan font-size="18.2" dy="-10.3">2−</tspan></text>
<text transform="translate(1150.00,1042.30) scale(1.000,1.040)" font-size="27.30">O Vacancy</text>
<text transform="translate(1146.00,1120.80) scale(1.000,1.040)" font-size="27.30">O<tspan font-size="18.2" dy="6.6">2</tspan></text>
<line x1="1300.00" y1="934.00" x2="1344.08" y2="953.51" stroke="#000" stroke-width="2.7"/>
<polygon points="1362.37,961.61 1340.11,957.55 1344.40,947.86" fill="#000"/>
<line x1="1221.00" y1="1061.00" x2="1267.77" y2="1114.12" stroke="#000" stroke-width="2.7"/>
<polygon points="1280.99,1129.13 1262.47,1116.12 1270.43,1109.11" fill="#000"/>
<line x1="1191.00" y1="1122.00" x2="1225.01" y2="1136.67" stroke="#000" stroke-width="2.7"/>
<polygon points="1243.38,1144.59 1221.08,1140.75 1225.28,1131.01" fill="#000"/>
</g>
</svg></body></html>
